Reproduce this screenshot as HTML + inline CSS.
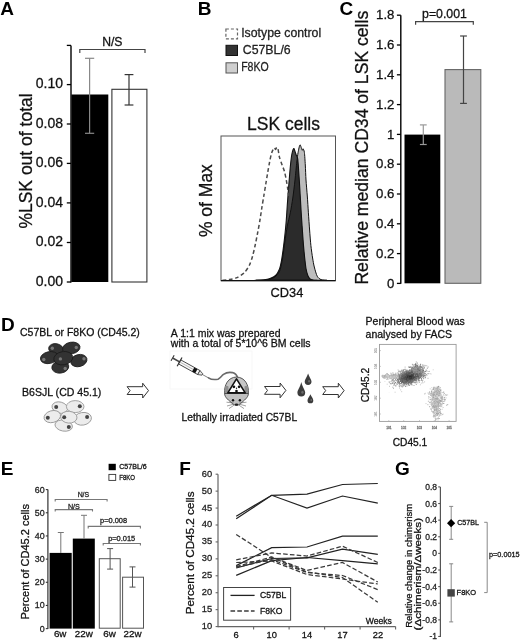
<!DOCTYPE html>
<html><head><meta charset="utf-8"><style>
html,body{margin:0;padding:0;background:#fff;}
svg{display:block;filter:grayscale(1);}
text{font-family:"Liberation Sans",sans-serif;}
</style></head><body>
<svg width="520" height="640" viewBox="0 0 520 640">
<rect width="520" height="640" fill="#fff"/>
<text x="0.30" y="14.60" font-size="19" text-anchor="start" fill="#000" font-weight="bold"  >A</text>
<rect x="71.40" y="94.50" width="36.90" height="187.50" fill="#000" stroke="none" stroke-width="1" />
<rect x="111.90" y="89.30" width="35.00" height="192.70" fill="#fff" stroke="#333" stroke-width="1.1" />
<line x1="71.00" y1="45.40" x2="71.00" y2="282.60" stroke="#000" stroke-width="1.4" />
<line x1="66.80" y1="45.40" x2="71.00" y2="45.40" stroke="#000" stroke-width="1.3" />
<line x1="66.80" y1="84.60" x2="71.00" y2="84.60" stroke="#000" stroke-width="1.3" />
<text x="63.00" y="88.30" font-size="14.0" text-anchor="end" fill="#111" font-weight="normal" stroke="#111" stroke-width="0.28" >0.10</text>
<line x1="66.80" y1="124.00" x2="71.00" y2="124.00" stroke="#000" stroke-width="1.3" />
<text x="63.00" y="127.70" font-size="14.0" text-anchor="end" fill="#111" font-weight="normal" stroke="#111" stroke-width="0.28" >0.08</text>
<line x1="66.80" y1="163.40" x2="71.00" y2="163.40" stroke="#000" stroke-width="1.3" />
<text x="63.00" y="167.10" font-size="14.0" text-anchor="end" fill="#111" font-weight="normal" stroke="#111" stroke-width="0.28" >0.06</text>
<line x1="66.80" y1="202.90" x2="71.00" y2="202.90" stroke="#000" stroke-width="1.3" />
<text x="63.00" y="206.60" font-size="14.0" text-anchor="end" fill="#111" font-weight="normal" stroke="#111" stroke-width="0.28" >0.04</text>
<line x1="66.80" y1="242.50" x2="71.00" y2="242.50" stroke="#000" stroke-width="1.3" />
<text x="63.00" y="246.20" font-size="14.0" text-anchor="end" fill="#111" font-weight="normal" stroke="#111" stroke-width="0.28" >0.02</text>
<line x1="66.80" y1="282.00" x2="71.00" y2="282.00" stroke="#000" stroke-width="1.3" />
<text x="63.00" y="285.70" font-size="14.0" text-anchor="end" fill="#111" font-weight="normal" stroke="#111" stroke-width="0.28" >0.00</text>
<line x1="89.60" y1="58.30" x2="89.60" y2="133.30" stroke="#888" stroke-width="1.2" />
<line x1="85.00" y1="58.30" x2="94.20" y2="58.30" stroke="#888" stroke-width="1.2" />
<line x1="85.00" y1="133.30" x2="94.20" y2="133.30" stroke="#888" stroke-width="1.2" />
<line x1="129.00" y1="74.60" x2="129.00" y2="105.00" stroke="#333" stroke-width="1.2" />
<line x1="124.60" y1="74.60" x2="133.40" y2="74.60" stroke="#333" stroke-width="1.2" />
<line x1="124.60" y1="105.00" x2="133.40" y2="105.00" stroke="#333" stroke-width="1.2" />
<polyline points="79.80,53.10 79.80,49.50 145.00,49.50 145.00,53.10" fill="none" stroke="#444" stroke-width="1.2"/>
<text x="112.30" y="45.60" font-size="12.2" text-anchor="middle" fill="#111" font-weight="normal" stroke="#111" stroke-width="0.28" >N/S</text>
<text transform="translate(31.90,161.00) rotate(-90)" font-size="17.5" text-anchor="middle" fill="#111" stroke="#111" stroke-width="0.28" >%LSK out of total</text>
<text x="197.80" y="14.60" font-size="19" text-anchor="start" fill="#000" font-weight="bold"  >B</text>
<rect x="225.90" y="29.00" width="11.60" height="9.80" fill="#fff" stroke="#666" stroke-width="1.2" stroke-dasharray="3,2"/>
<rect x="226.00" y="45.30" width="11.50" height="10.20" fill="#333" stroke="#111" stroke-width="1" />
<rect x="226.00" y="62.80" width="11.50" height="10.20" fill="#cfcfcf" stroke="#555" stroke-width="1" />
<text x="241.20" y="37.20" font-size="12.3" text-anchor="start" fill="#222" font-weight="normal" stroke="#222" stroke-width="0.28" >Isotype control</text>
<text x="242.80" y="54.00" font-size="12.3" text-anchor="start" fill="#222" font-weight="normal" stroke="#222" stroke-width="0.28" >C57BL/6</text>
<text x="241.20" y="71.00" font-size="12.3" text-anchor="start" fill="#222" font-weight="normal" stroke="#222" stroke-width="0.28" textLength="27.5" lengthAdjust="spacingAndGlyphs">F8KO</text>
<text x="247.00" y="129.70" font-size="17.5" text-anchor="start" fill="#111" font-weight="normal" stroke="#111" stroke-width="0.28" >LSK cells</text>
<rect x="221.00" y="136.00" width="114.50" height="144.70" fill="#fff" stroke="#555" stroke-width="1.0" />
<defs><clipPath id="dclip"><path d="M255.00,280.30 C256.20,280.25 262.00,280.13 264.00,279.90 C266.00,279.67 268.45,279.19 270.00,278.60 C271.55,278.01 274.36,276.71 275.60,275.50 C276.84,274.29 278.50,271.57 279.30,269.50 C280.10,267.43 281.03,263.13 281.60,260.00 C282.17,256.87 283.12,249.73 283.60,246.00 C284.08,242.27 284.84,235.47 285.20,232.00 C285.56,228.53 286.02,223.60 286.30,220.00 C286.58,216.40 287.02,209.00 287.30,205.00 C287.58,201.00 288.09,194.00 288.40,190.00 C288.71,186.00 289.28,178.73 289.60,175.00 C289.92,171.27 290.48,164.87 290.80,162.00 C291.12,159.13 291.60,155.30 292.00,153.50 C292.40,151.70 293.37,148.70 293.80,148.50 C294.23,148.30 294.85,151.07 295.20,152.00 C295.55,152.93 296.07,154.59 296.40,155.50 C296.73,156.41 297.41,156.87 297.70,158.80 C297.99,160.73 298.37,166.91 298.60,170.00 C298.83,173.09 299.17,178.40 299.40,182.00 C299.63,185.60 300.06,192.89 300.30,197.00 C300.54,201.11 300.93,208.53 301.20,212.80 C301.47,217.07 301.99,224.63 302.30,229.00 C302.61,233.37 303.18,241.73 303.50,245.60 C303.82,249.47 304.37,254.95 304.70,258.00 C305.03,261.05 305.59,266.17 306.00,268.50 C306.41,270.83 307.27,274.13 307.80,275.50 C308.33,276.87 309.31,278.20 310.00,278.80 C310.69,279.40 312.07,279.80 313.00,280.00 C313.93,280.20 316.47,280.26 317.00,280.30 Z"/></clipPath></defs>
<path d="M256.00,280.30 C257.33,280.26 263.53,280.40 266.00,280.00 C268.47,279.60 272.66,278.57 274.50,277.30 C276.34,276.03 278.72,273.07 279.80,270.50 C280.88,267.93 281.93,261.80 282.60,258.00 C283.27,254.20 284.17,246.27 284.80,242.00 C285.43,237.73 286.57,229.89 287.30,226.00 C288.03,222.11 289.57,216.53 290.30,212.80 C291.03,209.07 292.17,202.37 292.80,198.00 C293.43,193.63 294.47,184.80 295.00,180.00 C295.53,175.20 296.39,165.67 296.80,162.00 C297.21,158.33 297.67,154.79 298.10,152.50 C298.53,150.21 299.45,145.11 300.00,144.80 C300.55,144.49 301.79,149.67 302.20,150.20 C302.61,150.73 302.81,148.49 303.10,148.80 C303.39,149.11 304.11,150.34 304.40,152.50 C304.69,154.66 305.09,161.33 305.30,165.00 C305.51,168.67 305.73,175.87 306.00,180.00 C306.27,184.13 306.98,191.63 307.30,196.00 C307.62,200.37 308.09,208.27 308.40,212.80 C308.71,217.33 309.27,225.63 309.60,230.00 C309.93,234.37 310.50,241.87 310.90,245.60 C311.30,249.33 312.15,255.15 312.60,258.00 C313.05,260.85 313.69,264.57 314.30,267.00 C314.91,269.43 316.31,274.52 317.20,276.20 C318.09,277.88 319.69,279.05 321.00,279.60 C322.31,280.15 326.20,280.21 327.00,280.30 Z" fill="#bdbdbd"/>
<path d="M255.00,280.30 C256.20,280.25 262.00,280.13 264.00,279.90 C266.00,279.67 268.45,279.19 270.00,278.60 C271.55,278.01 274.36,276.71 275.60,275.50 C276.84,274.29 278.50,271.57 279.30,269.50 C280.10,267.43 281.03,263.13 281.60,260.00 C282.17,256.87 283.12,249.73 283.60,246.00 C284.08,242.27 284.84,235.47 285.20,232.00 C285.56,228.53 286.02,223.60 286.30,220.00 C286.58,216.40 287.02,209.00 287.30,205.00 C287.58,201.00 288.09,194.00 288.40,190.00 C288.71,186.00 289.28,178.73 289.60,175.00 C289.92,171.27 290.48,164.87 290.80,162.00 C291.12,159.13 291.60,155.30 292.00,153.50 C292.40,151.70 293.37,148.70 293.80,148.50 C294.23,148.30 294.85,151.07 295.20,152.00 C295.55,152.93 296.07,154.59 296.40,155.50 C296.73,156.41 297.41,156.87 297.70,158.80 C297.99,160.73 298.37,166.91 298.60,170.00 C298.83,173.09 299.17,178.40 299.40,182.00 C299.63,185.60 300.06,192.89 300.30,197.00 C300.54,201.11 300.93,208.53 301.20,212.80 C301.47,217.07 301.99,224.63 302.30,229.00 C302.61,233.37 303.18,241.73 303.50,245.60 C303.82,249.47 304.37,254.95 304.70,258.00 C305.03,261.05 305.59,266.17 306.00,268.50 C306.41,270.83 307.27,274.13 307.80,275.50 C308.33,276.87 309.31,278.20 310.00,278.80 C310.69,279.40 312.07,279.80 313.00,280.00 C313.93,280.20 316.47,280.26 317.00,280.30 Z" fill="#4a4a4a"/>
<path d="M256.00,280.30 C257.33,280.26 263.53,280.40 266.00,280.00 C268.47,279.60 272.66,278.57 274.50,277.30 C276.34,276.03 278.72,273.07 279.80,270.50 C280.88,267.93 281.93,261.80 282.60,258.00 C283.27,254.20 284.17,246.27 284.80,242.00 C285.43,237.73 286.57,229.89 287.30,226.00 C288.03,222.11 289.57,216.53 290.30,212.80 C291.03,209.07 292.17,202.37 292.80,198.00 C293.43,193.63 294.47,184.80 295.00,180.00 C295.53,175.20 296.39,165.67 296.80,162.00 C297.21,158.33 297.67,154.79 298.10,152.50 C298.53,150.21 299.45,145.11 300.00,144.80 C300.55,144.49 301.79,149.67 302.20,150.20 C302.61,150.73 302.81,148.49 303.10,148.80 C303.39,149.11 304.11,150.34 304.40,152.50 C304.69,154.66 305.09,161.33 305.30,165.00 C305.51,168.67 305.73,175.87 306.00,180.00 C306.27,184.13 306.98,191.63 307.30,196.00 C307.62,200.37 308.09,208.27 308.40,212.80 C308.71,217.33 309.27,225.63 309.60,230.00 C309.93,234.37 310.50,241.87 310.90,245.60 C311.30,249.33 312.15,255.15 312.60,258.00 C313.05,260.85 313.69,264.57 314.30,267.00 C314.91,269.43 316.31,274.52 317.20,276.20 C318.09,277.88 319.69,279.05 321.00,279.60 C322.31,280.15 326.20,280.21 327.00,280.30 Z" fill="#2b2b2b" clip-path="url(#dclip)"/>
<path d="M256.00,280.30 C257.33,280.26 263.53,280.40 266.00,280.00 C268.47,279.60 272.66,278.57 274.50,277.30 C276.34,276.03 278.72,273.07 279.80,270.50 C280.88,267.93 281.93,261.80 282.60,258.00 C283.27,254.20 284.17,246.27 284.80,242.00 C285.43,237.73 286.57,229.89 287.30,226.00 C288.03,222.11 289.57,216.53 290.30,212.80 C291.03,209.07 292.17,202.37 292.80,198.00 C293.43,193.63 294.47,184.80 295.00,180.00 C295.53,175.20 296.39,165.67 296.80,162.00 C297.21,158.33 297.67,154.79 298.10,152.50 C298.53,150.21 299.45,145.11 300.00,144.80 C300.55,144.49 301.79,149.67 302.20,150.20 C302.61,150.73 302.81,148.49 303.10,148.80 C303.39,149.11 304.11,150.34 304.40,152.50 C304.69,154.66 305.09,161.33 305.30,165.00 C305.51,168.67 305.73,175.87 306.00,180.00 C306.27,184.13 306.98,191.63 307.30,196.00 C307.62,200.37 308.09,208.27 308.40,212.80 C308.71,217.33 309.27,225.63 309.60,230.00 C309.93,234.37 310.50,241.87 310.90,245.60 C311.30,249.33 312.15,255.15 312.60,258.00 C313.05,260.85 313.69,264.57 314.30,267.00 C314.91,269.43 316.31,274.52 317.20,276.20 C318.09,277.88 319.69,279.05 321.00,279.60 C322.31,280.15 326.20,280.21 327.00,280.30 Z" fill="none" stroke="#111" stroke-width="1.0" stroke-linejoin="round"/>
<path d="M255.00,280.30 C256.20,280.25 262.00,280.13 264.00,279.90 C266.00,279.67 268.45,279.19 270.00,278.60 C271.55,278.01 274.36,276.71 275.60,275.50 C276.84,274.29 278.50,271.57 279.30,269.50 C280.10,267.43 281.03,263.13 281.60,260.00 C282.17,256.87 283.12,249.73 283.60,246.00 C284.08,242.27 284.84,235.47 285.20,232.00 C285.56,228.53 286.02,223.60 286.30,220.00 C286.58,216.40 287.02,209.00 287.30,205.00 C287.58,201.00 288.09,194.00 288.40,190.00 C288.71,186.00 289.28,178.73 289.60,175.00 C289.92,171.27 290.48,164.87 290.80,162.00 C291.12,159.13 291.60,155.30 292.00,153.50 C292.40,151.70 293.37,148.70 293.80,148.50 C294.23,148.30 294.85,151.07 295.20,152.00 C295.55,152.93 296.07,154.59 296.40,155.50 C296.73,156.41 297.41,156.87 297.70,158.80 C297.99,160.73 298.37,166.91 298.60,170.00 C298.83,173.09 299.17,178.40 299.40,182.00 C299.63,185.60 300.06,192.89 300.30,197.00 C300.54,201.11 300.93,208.53 301.20,212.80 C301.47,217.07 301.99,224.63 302.30,229.00 C302.61,233.37 303.18,241.73 303.50,245.60 C303.82,249.47 304.37,254.95 304.70,258.00 C305.03,261.05 305.59,266.17 306.00,268.50 C306.41,270.83 307.27,274.13 307.80,275.50 C308.33,276.87 309.31,278.20 310.00,278.80 C310.69,279.40 312.07,279.80 313.00,280.00 C313.93,280.20 316.47,280.26 317.00,280.30 Z" fill="none" stroke="#111" stroke-width="1.1" stroke-linejoin="round"/>
<path d="M222.50,280.30 C223.37,280.21 227.07,279.96 229.00,279.60 C230.93,279.24 234.93,278.55 237.00,277.60 C239.07,276.65 242.83,274.18 244.50,272.50 C246.17,270.82 248.42,267.20 249.50,265.00 C250.58,262.80 251.87,258.53 252.60,256.00 C253.33,253.47 254.33,249.07 255.00,246.00 C255.67,242.93 256.96,236.33 257.60,233.00 C258.24,229.67 259.24,224.33 259.80,221.00 C260.36,217.67 261.27,211.33 261.80,208.00 C262.33,204.67 263.27,199.20 263.80,196.00 C264.33,192.80 265.27,187.20 265.80,184.00 C266.33,180.80 267.29,174.93 267.80,172.00 C268.31,169.07 269.15,164.33 269.60,162.00 C270.05,159.67 270.77,156.07 271.20,154.50 C271.63,152.93 272.37,151.09 272.80,150.20 C273.23,149.31 274.03,147.89 274.40,147.80 C274.77,147.71 275.28,149.55 275.60,149.50 C275.92,149.45 276.48,147.47 276.80,147.40 C277.12,147.33 277.65,147.72 278.00,149.00 C278.35,150.28 278.88,154.95 279.40,157.00 C279.92,159.05 281.23,162.49 281.90,164.40 C282.57,166.31 283.81,169.22 284.40,171.30 C284.99,173.38 285.87,177.77 286.30,180.00 C286.73,182.23 287.29,185.87 287.60,188.00 C287.91,190.13 288.47,194.93 288.60,196.00 " fill="none" stroke="#4a4a4a" stroke-width="1.5" stroke-dasharray="3.8,2.6"/>
<line x1="221.00" y1="280.70" x2="335.50" y2="280.70" stroke="#111" stroke-width="1.3" />
<text transform="translate(212.00,200.60) rotate(-90)" font-size="17.5" text-anchor="middle" fill="#111" stroke="#111" stroke-width="0.28" >% of Max</text>
<text x="286.90" y="297.40" font-size="12.8" text-anchor="middle" fill="#111" font-weight="normal" stroke="#111" stroke-width="0.28" >CD34</text>
<text x="339.60" y="14.80" font-size="19" text-anchor="start" fill="#000" font-weight="bold"  >C</text>
<rect x="404.50" y="134.60" width="35.80" height="148.70" fill="#000" stroke="none" stroke-width="1" />
<rect x="445.00" y="69.60" width="35.80" height="213.70" fill="#bababa" stroke="#666" stroke-width="1.1" />
<line x1="400.80" y1="15.20" x2="400.80" y2="283.80" stroke="#000" stroke-width="1.4" />
<line x1="396.90" y1="15.20" x2="400.80" y2="15.20" stroke="#000" stroke-width="1.3" />
<text x="394.40" y="19.40" font-size="13.2" text-anchor="end" fill="#111" font-weight="normal" stroke="#111" stroke-width="0.28" >1.8</text>
<line x1="396.90" y1="45.00" x2="400.80" y2="45.00" stroke="#000" stroke-width="1.3" />
<text x="394.40" y="49.20" font-size="13.2" text-anchor="end" fill="#111" font-weight="normal" stroke="#111" stroke-width="0.28" >1.6</text>
<line x1="396.90" y1="74.80" x2="400.80" y2="74.80" stroke="#000" stroke-width="1.3" />
<text x="394.40" y="79.00" font-size="13.2" text-anchor="end" fill="#111" font-weight="normal" stroke="#111" stroke-width="0.28" >1.4</text>
<line x1="396.90" y1="104.60" x2="400.80" y2="104.60" stroke="#000" stroke-width="1.3" />
<text x="394.40" y="108.80" font-size="13.2" text-anchor="end" fill="#111" font-weight="normal" stroke="#111" stroke-width="0.28" >1.2</text>
<line x1="396.90" y1="134.40" x2="400.80" y2="134.40" stroke="#000" stroke-width="1.3" />
<text x="394.40" y="138.60" font-size="13.2" text-anchor="end" fill="#111" font-weight="normal" stroke="#111" stroke-width="0.28" >1</text>
<line x1="396.90" y1="164.20" x2="400.80" y2="164.20" stroke="#000" stroke-width="1.3" />
<text x="394.40" y="168.40" font-size="13.2" text-anchor="end" fill="#111" font-weight="normal" stroke="#111" stroke-width="0.28" >0.8</text>
<line x1="396.90" y1="194.00" x2="400.80" y2="194.00" stroke="#000" stroke-width="1.3" />
<text x="394.40" y="198.20" font-size="13.2" text-anchor="end" fill="#111" font-weight="normal" stroke="#111" stroke-width="0.28" >0.6</text>
<line x1="396.90" y1="223.80" x2="400.80" y2="223.80" stroke="#000" stroke-width="1.3" />
<text x="394.40" y="228.00" font-size="13.2" text-anchor="end" fill="#111" font-weight="normal" stroke="#111" stroke-width="0.28" >0.4</text>
<line x1="396.90" y1="253.60" x2="400.80" y2="253.60" stroke="#000" stroke-width="1.3" />
<text x="394.40" y="257.80" font-size="13.2" text-anchor="end" fill="#111" font-weight="normal" stroke="#111" stroke-width="0.28" >0.2</text>
<line x1="396.90" y1="283.40" x2="400.80" y2="283.40" stroke="#000" stroke-width="1.3" />
<text x="394.40" y="287.60" font-size="13.2" text-anchor="end" fill="#111" font-weight="normal" stroke="#111" stroke-width="0.28" >0</text>
<line x1="423.30" y1="124.90" x2="423.30" y2="144.50" stroke="#999" stroke-width="1.2" />
<line x1="419.90" y1="124.90" x2="426.70" y2="124.90" stroke="#999" stroke-width="1.2" />
<line x1="419.90" y1="144.50" x2="426.70" y2="144.50" stroke="#999" stroke-width="1.2" />
<line x1="463.50" y1="36.00" x2="463.50" y2="103.40" stroke="#444" stroke-width="1.2" />
<line x1="460.10" y1="36.00" x2="466.90" y2="36.00" stroke="#444" stroke-width="1.2" />
<line x1="460.10" y1="103.40" x2="466.90" y2="103.40" stroke="#444" stroke-width="1.2" />
<polyline points="415.60,24.80 415.60,21.60 473.30,21.60 473.30,24.80" fill="none" stroke="#444" stroke-width="1.2"/>
<text x="444.50" y="18.40" font-size="12.3" text-anchor="middle" fill="#111" font-weight="normal" stroke="#111" stroke-width="0.28" >p=0.001</text>
<text transform="translate(367.70,147.70) rotate(-90)" font-size="17.6" text-anchor="middle" fill="#111" stroke="#111" stroke-width="0.28" >Relative median CD34 of LSK cells</text>
<text x="1.00" y="330.60" font-size="19" text-anchor="start" fill="#000" font-weight="bold"  >D</text>
<text x="20.00" y="336.20" font-size="10.5" text-anchor="start" fill="#111" font-weight="normal" stroke="#111" stroke-width="0.28" >C57BL or F8KO (CD45.2)</text>
<text x="22.00" y="395.80" font-size="10.55" text-anchor="start" fill="#111" font-weight="normal" stroke="#111" stroke-width="0.28" >B6SJL (CD 45.1)</text>
<ellipse cx="56.0" cy="349.0" rx="7.4" ry="5.3" transform="rotate(10 56.0 349.0)" fill="#333" stroke="#1a1a1a" stroke-width="0.8"/>
<circle cx="52.3" cy="348.3" r="1.7" fill="#777"/>
<ellipse cx="71.3" cy="348.0" rx="8.8" ry="5.8" transform="rotate(-10 71.3 348.0)" fill="#333" stroke="#1a1a1a" stroke-width="0.8"/>
<circle cx="76.3" cy="347.5" r="1.7" fill="#777"/>
<ellipse cx="49.3" cy="357.6" rx="9.0" ry="5.9" transform="rotate(-12 49.3 357.6)" fill="#333" stroke="#1a1a1a" stroke-width="0.8"/>
<circle cx="43.8" cy="359.5" r="1.7" fill="#777"/>
<ellipse cx="78.8" cy="360.6" rx="8.3" ry="6.0" transform="rotate(-15 78.8 360.6)" fill="#333" stroke="#1a1a1a" stroke-width="0.8"/>
<circle cx="84.0" cy="358.7" r="1.7" fill="#777"/>
<ellipse cx="60.3" cy="367.0" rx="8.5" ry="6.1" transform="rotate(-8 60.3 367.0)" fill="#333" stroke="#1a1a1a" stroke-width="0.8"/>
<circle cx="65.2" cy="368.5" r="1.7" fill="#777"/>
<ellipse cx="63.3" cy="358.2" rx="9.6" ry="6.6" transform="rotate(-10 63.3 358.2)" fill="#333" stroke="#1a1a1a" stroke-width="0.8"/>
<circle cx="60.4" cy="358.9" r="1.7" fill="#777"/>
<ellipse cx="59.8" cy="407.6" rx="7.9" ry="5.6" transform="rotate(15 59.8 407.6)" fill="#ececec" stroke="#9a9a9a" stroke-width="0.9"/>
<circle cx="56.2" cy="407.1" r="2.0" fill="#444"/>
<ellipse cx="75.2" cy="406.6" rx="8.8" ry="6.0" transform="rotate(0 75.2 406.6)" fill="#ececec" stroke="#9a9a9a" stroke-width="0.9"/>
<circle cx="79.8" cy="406.2" r="2.0" fill="#444"/>
<ellipse cx="52.3" cy="416.6" rx="8.4" ry="5.9" transform="rotate(-15 52.3 416.6)" fill="#ececec" stroke="#9a9a9a" stroke-width="0.9"/>
<circle cx="47.8" cy="417.7" r="2.0" fill="#444"/>
<ellipse cx="82.7" cy="418.8" rx="8.8" ry="6.3" transform="rotate(-10 82.7 418.8)" fill="#ececec" stroke="#9a9a9a" stroke-width="0.9"/>
<circle cx="87.1" cy="417.1" r="2.0" fill="#444"/>
<ellipse cx="63.7" cy="425.6" rx="8.8" ry="5.5" transform="rotate(10 63.7 425.6)" fill="#ececec" stroke="#9a9a9a" stroke-width="0.9"/>
<circle cx="68.8" cy="426.9" r="2.0" fill="#444"/>
<ellipse cx="68.8" cy="417.2" rx="8.2" ry="5.9" transform="rotate(5 68.8 417.2)" fill="#ececec" stroke="#9a9a9a" stroke-width="0.9"/>
<circle cx="64.2" cy="417.3" r="2.0" fill="#444"/>
<polygon points="127.10,386.70 142.70,386.70 142.70,383.20 148.50,390.60 142.70,398.00 142.70,394.50 127.10,394.50 130.10,390.60" fill="#fff" stroke="#333" stroke-width="1"/>
<polygon points="264.50,386.50 280.10,386.50 280.10,383.00 285.90,390.40 280.10,397.80 280.10,394.30 264.50,394.30 267.50,390.40" fill="#fff" stroke="#333" stroke-width="1"/>
<polygon points="322.70,386.70 338.30,386.70 338.30,383.20 344.10,390.60 338.30,398.00 338.30,394.50 322.70,394.50 325.70,390.60" fill="#fff" stroke="#333" stroke-width="1"/>
<text x="170.80" y="336.70" font-size="10.5" text-anchor="start" fill="#111" font-weight="normal" stroke="#111" stroke-width="0.28" >A 1:1 mix was prepared</text>
<text x="170.80" y="346.50" font-size="10.5" text-anchor="start" fill="#111" font-weight="normal" stroke="#111" stroke-width="0.28" >with a total of 5*10^6 BM cells</text>
<text x="181.50" y="420.80" font-size="10.3" text-anchor="start" fill="#111" font-weight="normal" stroke="#111" stroke-width="0.28" >Lethally irradiated C57BL</text>
<rect x="170" y="351" width="82" height="38" fill="none" stroke="#f6f6f6" stroke-width="0.8"/>
<g transform="translate(172.6,358.0) rotate(29)"><line x1="0" y1="-3.2" x2="0" y2="3.2" stroke="#333" stroke-width="1.1"/><line x1="0" y1="0" x2="8" y2="0" stroke="#444" stroke-width="1.6"/><rect x="8" y="-2.3" width="22" height="4.6" fill="#f7f7f7" stroke="#333" stroke-width="0.8"/><line x1="8" y1="0" x2="24" y2="0" stroke="#999" stroke-width="0.6"/><rect x="23.5" y="-2.3" width="3.6" height="4.6" fill="#111"/><line x1="8" y1="-5" x2="8" y2="5" stroke="#333" stroke-width="1.2"/><path d="M30,-2.3 L34,-0.8 L34,0.8 L30,2.3 Z" fill="#e5e5e5" stroke="#333" stroke-width="0.7"/><line x1="34" y1="0" x2="41" y2="0" stroke="#444" stroke-width="0.6"/></g>
<path d="M208.5,377.8 C210.5,379.2 214,380 218,379.2 C220.5,378 221.5,375.8 223.5,374.4 C226,372.6 229.5,372 232.5,372.6 C235,373.4 236.8,375 237.4,377.4" fill="none" stroke="#6a6a6a" stroke-width="1.6" stroke-linecap="round"/>
<path d="M224.6,393.5 C224.0,385 228,377.3 236.5,377.0 C245,377.3 249,385 248.4,393.5 Z" fill="#c6c6c6" stroke="#444" stroke-width="0.9"/>
<path d="M225,386.5 C226,385.5 227.5,385.5 228.5,386.5 L228.5,393.5 L224.7,393.5 Z" fill="#8e8e8e"/>
<path d="M248,386.5 C247,385.5 245.5,385.5 244.5,386.5 L244.5,393.5 L248.3,393.5 Z" fill="#8e8e8e"/>
<path d="M224.6,393.5 C224.6,397.5 229,400.5 232.5,403.6 C234.5,405.8 238.5,405.8 240.5,403.6 C244,400.5 248.4,397.5 248.4,393.5 Z" fill="#c0c0c0" stroke="#444" stroke-width="0.9"/>
<polygon points="227.8,392.9 245.2,392.9 236.5,378.9" fill="#fff" stroke="#111" stroke-width="1.6" stroke-linejoin="round"/>
<circle cx="233.9" cy="386.8" r="1.35" fill="#111"/><circle cx="239.1" cy="386.8" r="1.35" fill="#111"/><circle cx="236.5" cy="391.0" r="1.35" fill="#111"/>
<circle cx="236.5" cy="388.3" r="0.7" fill="#111"/>
<circle cx="233.0" cy="400.3" r="1.2" fill="#111"/><circle cx="239.9" cy="400.3" r="1.2" fill="#111"/>
<ellipse cx="236.5" cy="404.6" rx="1.8" ry="1.2" fill="#222"/>
<path d="M233.5,403 L226.5,402.2 M233.5,404.2 L227,406 M234,405.2 L229,408.6 M239.5,403 L246.5,402.2 M239.5,404.2 L246,406 M239,405.2 L244,408.6" stroke="#555" stroke-width="0.55"/>
<path d="M301.30,382.00 C302.67,387.53 305.20,390.26 305.20,392.60 A3.90,3.90 0 0 1 297.40,392.60 C297.40,390.26 299.94,387.53 301.30,382.00 Z" fill="#3c3c3c"/>
<ellipse cx="302.47" cy="392.21" rx="1.17" ry="1.56" fill="#6a6a6a"/>
<path d="M308.10,373.50 C309.29,377.18 311.50,379.56 311.50,381.60 A3.40,3.40 0 0 1 304.70,381.60 C304.70,379.56 306.91,377.18 308.10,373.50 Z" fill="#3c3c3c"/>
<ellipse cx="309.12" cy="381.26" rx="1.02" ry="1.36" fill="#6a6a6a"/>
<path d="M310.40,394.20 C311.41,396.63 313.30,398.66 313.30,400.40 A2.90,2.90 0 0 1 307.50,400.40 C307.50,398.66 309.38,396.63 310.40,394.20 Z" fill="#3c3c3c"/>
<ellipse cx="311.27" cy="400.11" rx="0.87" ry="1.16" fill="#6a6a6a"/>
<text x="365.60" y="324.80" font-size="10.5" text-anchor="start" fill="#111" font-weight="normal" stroke="#111" stroke-width="0.28" >Peripheral Blood was</text>
<text x="365.60" y="337.80" font-size="10.5" text-anchor="start" fill="#111" font-weight="normal" stroke="#111" stroke-width="0.28" >analysed by FACS</text>
<rect x="379.50" y="344.40" width="76.60" height="77.00" fill="#fff" stroke="#9a9a9a" stroke-width="0.9" />
<text transform="translate(369.20,385.00) rotate(-90)" font-size="10.2" text-anchor="middle" fill="#111" stroke="#111" stroke-width="0.28" >CD45.2</text>
<text x="410.00" y="446.00" font-size="10.2" text-anchor="middle" fill="#111" font-weight="normal" stroke="#111" stroke-width="0.28" >CD45.1</text>
<text transform="translate(377.2,350.6) rotate(-90)" font-size="3.2" text-anchor="middle" fill="#777">105</text>
<line x1="379.50" y1="350.60" x2="381.00" y2="350.60" stroke="#aaa" stroke-width="0.6" />
<text transform="translate(377.2,366.4) rotate(-90)" font-size="3.2" text-anchor="middle" fill="#777">104</text>
<line x1="379.50" y1="366.40" x2="381.00" y2="366.40" stroke="#aaa" stroke-width="0.6" />
<text transform="translate(377.2,382.3) rotate(-90)" font-size="3.2" text-anchor="middle" fill="#777">103</text>
<line x1="379.50" y1="382.30" x2="381.00" y2="382.30" stroke="#aaa" stroke-width="0.6" />
<text transform="translate(377.2,398.2) rotate(-90)" font-size="3.2" text-anchor="middle" fill="#777">102</text>
<line x1="379.50" y1="398.20" x2="381.00" y2="398.20" stroke="#aaa" stroke-width="0.6" />
<text transform="translate(377.2,414.0) rotate(-90)" font-size="3.2" text-anchor="middle" fill="#777">101</text>
<line x1="379.50" y1="414.00" x2="381.00" y2="414.00" stroke="#aaa" stroke-width="0.6" />
<text x="388.80" y="428.50" font-size="3.2" text-anchor="middle" fill="#777" font-weight="normal" stroke="#777" stroke-width="0.28" >101</text>
<line x1="388.80" y1="421.40" x2="388.80" y2="420.00" stroke="#aaa" stroke-width="0.6" />
<text x="403.70" y="428.50" font-size="3.2" text-anchor="middle" fill="#777" font-weight="normal" stroke="#777" stroke-width="0.28" >102</text>
<line x1="403.70" y1="421.40" x2="403.70" y2="420.00" stroke="#aaa" stroke-width="0.6" />
<text x="419.50" y="428.50" font-size="3.2" text-anchor="middle" fill="#777" font-weight="normal" stroke="#777" stroke-width="0.28" >103</text>
<line x1="419.50" y1="421.40" x2="419.50" y2="420.00" stroke="#aaa" stroke-width="0.6" />
<text x="434.30" y="428.50" font-size="3.2" text-anchor="middle" fill="#777" font-weight="normal" stroke="#777" stroke-width="0.28" >104</text>
<line x1="434.30" y1="421.40" x2="434.30" y2="420.00" stroke="#aaa" stroke-width="0.6" />
<text x="449.10" y="428.50" font-size="3.2" text-anchor="middle" fill="#777" font-weight="normal" stroke="#777" stroke-width="0.28" >105</text>
<line x1="449.10" y1="421.40" x2="449.10" y2="420.00" stroke="#aaa" stroke-width="0.6" />
<defs><filter id="sblur" x="-5%" y="-5%" width="110%" height="110%"><feGaussianBlur stdDeviation="0.3"/></filter><clipPath id="fclip"><rect x="380" y="345" width="75.6" height="76"/></clipPath></defs>
<g filter="url(#sblur)" clip-path="url(#fclip)">
<rect x="401.0" y="380.0" width="1" height="1" fill="rgb(124,124,124)"/>
<rect x="401.3" y="379.4" width="1" height="1" fill="rgb(105,105,105)"/>
<rect x="413.8" y="378.9" width="1" height="1" fill="rgb(107,107,107)"/>
<rect x="409.7" y="374.5" width="1" height="1" fill="rgb(58,58,58)"/>
<rect x="421.2" y="376.4" width="1" height="1" fill="rgb(138,138,138)"/>
<rect x="429.5" y="373.1" width="1" height="1" fill="rgb(196,196,196)"/>
<rect x="402.6" y="374.0" width="1" height="1" fill="rgb(94,94,94)"/>
<rect x="418.1" y="374.1" width="1" height="1" fill="rgb(82,82,82)"/>
<rect x="411.9" y="378.0" width="1" height="1" fill="rgb(59,59,59)"/>
<rect x="402.1" y="379.2" width="1" height="1" fill="rgb(111,111,111)"/>
<rect x="399.0" y="378.5" width="1" height="1" fill="rgb(111,111,111)"/>
<rect x="404.3" y="374.2" width="1" height="1" fill="rgb(87,87,87)"/>
<rect x="432.7" y="369.3" width="1" height="1" fill="rgb(211,211,211)"/>
<rect x="406.9" y="373.8" width="1" height="1" fill="rgb(74,74,74)"/>
<rect x="409.0" y="377.6" width="1" height="1" fill="rgb(76,76,76)"/>
<rect x="399.2" y="383.2" width="1" height="1" fill="rgb(129,129,129)"/>
<rect x="422.1" y="370.7" width="1" height="1" fill="rgb(112,112,112)"/>
<rect x="415.3" y="382.2" width="1" height="1" fill="rgb(144,144,144)"/>
<rect x="416.3" y="373.7" width="1" height="1" fill="rgb(73,73,73)"/>
<rect x="399.6" y="374.4" width="1" height="1" fill="rgb(115,115,115)"/>
<rect x="415.2" y="376.2" width="1" height="1" fill="rgb(108,108,108)"/>
<rect x="409.0" y="374.5" width="1" height="1" fill="rgb(58,58,58)"/>
<rect x="411.5" y="376.3" width="1" height="1" fill="rgb(76,76,76)"/>
<rect x="414.4" y="378.9" width="1" height="1" fill="rgb(102,102,102)"/>
<rect x="415.0" y="380.1" width="1" height="1" fill="rgb(103,103,103)"/>
<rect x="406.7" y="375.5" width="1" height="1" fill="rgb(66,66,66)"/>
<rect x="411.3" y="378.4" width="1" height="1" fill="rgb(104,104,104)"/>
<rect x="410.5" y="372.9" width="1" height="1" fill="rgb(103,103,103)"/>
<rect x="412.0" y="379.0" width="1" height="1" fill="rgb(108,108,108)"/>
<rect x="406.9" y="375.6" width="1" height="1" fill="rgb(90,90,90)"/>
<rect x="411.3" y="378.4" width="1" height="1" fill="rgb(94,94,94)"/>
<rect x="407.2" y="379.5" width="1" height="1" fill="rgb(66,66,66)"/>
<rect x="417.9" y="376.3" width="1" height="1" fill="rgb(95,95,95)"/>
<rect x="403.2" y="375.9" width="1" height="1" fill="rgb(88,88,88)"/>
<rect x="416.9" y="372.9" width="1" height="1" fill="rgb(102,102,102)"/>
<rect x="411.9" y="373.7" width="1" height="1" fill="rgb(60,60,60)"/>
<rect x="419.3" y="369.7" width="1" height="1" fill="rgb(119,119,119)"/>
<rect x="415.1" y="380.1" width="1" height="1" fill="rgb(141,141,141)"/>
<rect x="417.3" y="382.3" width="1" height="1" fill="rgb(174,174,174)"/>
<rect x="402.8" y="375.8" width="1" height="1" fill="rgb(76,76,76)"/>
<rect x="427.6" y="373.2" width="1" height="1" fill="rgb(151,151,151)"/>
<rect x="407.0" y="374.2" width="1" height="1" fill="rgb(96,96,96)"/>
<rect x="404.0" y="376.0" width="1" height="1" fill="rgb(70,70,70)"/>
<rect x="408.4" y="375.1" width="1" height="1" fill="rgb(52,52,52)"/>
<rect x="395.7" y="377.5" width="1" height="1" fill="rgb(140,140,140)"/>
<rect x="408.4" y="384.4" width="1" height="1" fill="rgb(134,134,134)"/>
<rect x="415.0" y="374.9" width="1" height="1" fill="rgb(80,80,80)"/>
<rect x="413.6" y="375.8" width="1" height="1" fill="rgb(69,69,69)"/>
<rect x="405.7" y="376.4" width="1" height="1" fill="rgb(65,65,65)"/>
<rect x="423.0" y="365.8" width="1" height="1" fill="rgb(180,180,180)"/>
<rect x="404.7" y="373.0" width="1" height="1" fill="rgb(90,90,90)"/>
<rect x="410.7" y="376.0" width="1" height="1" fill="rgb(74,74,74)"/>
<rect x="401.4" y="369.6" width="1" height="1" fill="rgb(141,141,141)"/>
<rect x="403.1" y="374.8" width="1" height="1" fill="rgb(109,109,109)"/>
<rect x="401.2" y="391.2" width="1" height="1" fill="rgb(200,200,200)"/>
<rect x="397.7" y="377.8" width="1" height="1" fill="rgb(139,139,139)"/>
<rect x="406.9" y="371.2" width="1" height="1" fill="rgb(130,130,130)"/>
<rect x="414.5" y="373.0" width="1" height="1" fill="rgb(97,97,97)"/>
<rect x="419.9" y="368.9" width="1" height="1" fill="rgb(134,134,134)"/>
<rect x="411.0" y="368.7" width="1" height="1" fill="rgb(140,140,140)"/>
<rect x="403.7" y="375.3" width="1" height="1" fill="rgb(95,95,95)"/>
<rect x="406.8" y="376.0" width="1" height="1" fill="rgb(72,72,72)"/>
<rect x="423.8" y="371.7" width="1" height="1" fill="rgb(150,150,150)"/>
<rect x="401.5" y="382.3" width="1" height="1" fill="rgb(124,124,124)"/>
<rect x="397.3" y="382.2" width="1" height="1" fill="rgb(114,114,114)"/>
<rect x="409.1" y="375.4" width="1" height="1" fill="rgb(63,63,63)"/>
<rect x="404.3" y="378.0" width="1" height="1" fill="rgb(88,88,88)"/>
<rect x="399.5" y="379.1" width="1" height="1" fill="rgb(128,128,128)"/>
<rect x="409.4" y="376.7" width="1" height="1" fill="rgb(45,45,45)"/>
<rect x="406.6" y="374.8" width="1" height="1" fill="rgb(62,62,62)"/>
<rect x="417.2" y="371.0" width="1" height="1" fill="rgb(110,110,110)"/>
<rect x="413.7" y="372.9" width="1" height="1" fill="rgb(95,95,95)"/>
<rect x="412.7" y="378.9" width="1" height="1" fill="rgb(109,109,109)"/>
<rect x="420.9" y="369.0" width="1" height="1" fill="rgb(135,135,135)"/>
<rect x="403.5" y="376.3" width="1" height="1" fill="rgb(70,70,70)"/>
<rect x="395.8" y="380.2" width="1" height="1" fill="rgb(148,148,148)"/>
<rect x="402.8" y="369.4" width="1" height="1" fill="rgb(147,147,147)"/>
<rect x="414.0" y="378.3" width="1" height="1" fill="rgb(86,86,86)"/>
<rect x="411.9" y="379.1" width="1" height="1" fill="rgb(99,99,99)"/>
<rect x="403.1" y="378.1" width="1" height="1" fill="rgb(101,101,101)"/>
<rect x="416.9" y="373.6" width="1" height="1" fill="rgb(77,77,77)"/>
<rect x="423.8" y="373.5" width="1" height="1" fill="rgb(118,118,118)"/>
<rect x="405.7" y="372.7" width="1" height="1" fill="rgb(97,97,97)"/>
<rect x="409.5" y="375.5" width="1" height="1" fill="rgb(39,39,39)"/>
<rect x="407.8" y="376.8" width="1" height="1" fill="rgb(72,72,72)"/>
<rect x="410.1" y="378.0" width="1" height="1" fill="rgb(51,51,51)"/>
<rect x="403.2" y="375.1" width="1" height="1" fill="rgb(102,102,102)"/>
<rect x="400.6" y="373.2" width="1" height="1" fill="rgb(149,149,149)"/>
<rect x="406.8" y="374.7" width="1" height="1" fill="rgb(76,76,76)"/>
<rect x="409.9" y="376.5" width="1" height="1" fill="rgb(52,52,52)"/>
<rect x="407.7" y="374.4" width="1" height="1" fill="rgb(65,65,65)"/>
<rect x="404.3" y="382.3" width="1" height="1" fill="rgb(117,117,117)"/>
<rect x="399.2" y="375.1" width="1" height="1" fill="rgb(118,118,118)"/>
<rect x="411.3" y="368.0" width="1" height="1" fill="rgb(126,126,126)"/>
<rect x="419.0" y="371.0" width="1" height="1" fill="rgb(102,102,102)"/>
<rect x="400.1" y="380.3" width="1" height="1" fill="rgb(129,129,129)"/>
<rect x="403.6" y="381.1" width="1" height="1" fill="rgb(122,122,122)"/>
<rect x="412.0" y="367.0" width="1" height="1" fill="rgb(153,153,153)"/>
<rect x="406.0" y="375.1" width="1" height="1" fill="rgb(87,87,87)"/>
<rect x="412.3" y="370.6" width="1" height="1" fill="rgb(121,121,121)"/>
<rect x="414.8" y="382.2" width="1" height="1" fill="rgb(165,165,165)"/>
<rect x="417.9" y="373.1" width="1" height="1" fill="rgb(116,116,116)"/>
<rect x="404.5" y="384.8" width="1" height="1" fill="rgb(162,162,162)"/>
<rect x="407.9" y="377.8" width="1" height="1" fill="rgb(63,63,63)"/>
<rect x="397.2" y="377.7" width="1" height="1" fill="rgb(123,123,123)"/>
<rect x="422.4" y="373.6" width="1" height="1" fill="rgb(109,109,109)"/>
<rect x="410.1" y="373.8" width="1" height="1" fill="rgb(67,67,67)"/>
<rect x="409.7" y="374.1" width="1" height="1" fill="rgb(56,56,56)"/>
<rect x="397.8" y="378.9" width="1" height="1" fill="rgb(134,134,134)"/>
<rect x="400.8" y="370.5" width="1" height="1" fill="rgb(155,155,155)"/>
<rect x="412.0" y="374.9" width="1" height="1" fill="rgb(54,54,54)"/>
<rect x="403.4" y="377.4" width="1" height="1" fill="rgb(95,95,95)"/>
<rect x="402.8" y="374.7" width="1" height="1" fill="rgb(117,117,117)"/>
<rect x="403.3" y="376.8" width="1" height="1" fill="rgb(81,81,81)"/>
<rect x="416.2" y="367.8" width="1" height="1" fill="rgb(131,131,131)"/>
<rect x="418.3" y="365.9" width="1" height="1" fill="rgb(166,166,166)"/>
<rect x="404.7" y="376.4" width="1" height="1" fill="rgb(79,79,79)"/>
<rect x="399.6" y="378.9" width="1" height="1" fill="rgb(87,87,87)"/>
<rect x="417.5" y="373.0" width="1" height="1" fill="rgb(97,97,97)"/>
<rect x="411.0" y="371.3" width="1" height="1" fill="rgb(104,104,104)"/>
<rect x="408.0" y="375.3" width="1" height="1" fill="rgb(65,65,65)"/>
<rect x="395.3" y="384.9" width="1" height="1" fill="rgb(179,179,179)"/>
<rect x="409.4" y="380.3" width="1" height="1" fill="rgb(81,81,81)"/>
<rect x="398.1" y="382.1" width="1" height="1" fill="rgb(148,148,148)"/>
<rect x="403.3" y="378.4" width="1" height="1" fill="rgb(72,72,72)"/>
<rect x="395.9" y="374.5" width="1" height="1" fill="rgb(133,133,133)"/>
<rect x="409.4" y="375.4" width="1" height="1" fill="rgb(43,43,43)"/>
<rect x="412.3" y="380.8" width="1" height="1" fill="rgb(108,108,108)"/>
<rect x="404.3" y="381.6" width="1" height="1" fill="rgb(92,92,92)"/>
<rect x="408.4" y="374.6" width="1" height="1" fill="rgb(71,71,71)"/>
<rect x="409.9" y="378.4" width="1" height="1" fill="rgb(78,78,78)"/>
<rect x="403.3" y="379.3" width="1" height="1" fill="rgb(87,87,87)"/>
<rect x="405.1" y="377.0" width="1" height="1" fill="rgb(60,60,60)"/>
<rect x="401.4" y="374.6" width="1" height="1" fill="rgb(113,113,113)"/>
<rect x="414.0" y="370.8" width="1" height="1" fill="rgb(125,125,125)"/>
<rect x="412.1" y="381.3" width="1" height="1" fill="rgb(135,135,135)"/>
<rect x="413.9" y="373.1" width="1" height="1" fill="rgb(78,78,78)"/>
<rect x="413.4" y="373.8" width="1" height="1" fill="rgb(101,101,101)"/>
<rect x="411.9" y="374.2" width="1" height="1" fill="rgb(59,59,59)"/>
<rect x="407.8" y="373.9" width="1" height="1" fill="rgb(64,64,64)"/>
<rect x="412.1" y="372.1" width="1" height="1" fill="rgb(107,107,107)"/>
<rect x="415.1" y="377.2" width="1" height="1" fill="rgb(101,101,101)"/>
<rect x="414.1" y="375.1" width="1" height="1" fill="rgb(85,85,85)"/>
<rect x="423.8" y="367.0" width="1" height="1" fill="rgb(148,148,148)"/>
<rect x="397.3" y="379.4" width="1" height="1" fill="rgb(123,123,123)"/>
<rect x="406.9" y="374.7" width="1" height="1" fill="rgb(57,57,57)"/>
<rect x="411.0" y="376.3" width="1" height="1" fill="rgb(62,62,62)"/>
<rect x="400.0" y="378.4" width="1" height="1" fill="rgb(89,89,89)"/>
<rect x="411.8" y="377.7" width="1" height="1" fill="rgb(93,93,93)"/>
<rect x="425.4" y="371.1" width="1" height="1" fill="rgb(132,132,132)"/>
<rect x="426.4" y="374.7" width="1" height="1" fill="rgb(156,156,156)"/>
<rect x="409.0" y="373.1" width="1" height="1" fill="rgb(86,86,86)"/>
<rect x="401.7" y="378.0" width="1" height="1" fill="rgb(99,99,99)"/>
<rect x="420.4" y="373.5" width="1" height="1" fill="rgb(132,132,132)"/>
<rect x="413.5" y="378.6" width="1" height="1" fill="rgb(107,107,107)"/>
<rect x="405.8" y="378.6" width="1" height="1" fill="rgb(62,62,62)"/>
<rect x="408.0" y="376.5" width="1" height="1" fill="rgb(73,73,73)"/>
<rect x="411.4" y="370.2" width="1" height="1" fill="rgb(134,134,134)"/>
<rect x="403.6" y="375.1" width="1" height="1" fill="rgb(97,97,97)"/>
<rect x="389.0" y="381.7" width="1" height="1" fill="rgb(189,189,189)"/>
<rect x="410.6" y="383.8" width="1" height="1" fill="rgb(157,157,157)"/>
<rect x="409.8" y="369.5" width="1" height="1" fill="rgb(125,125,125)"/>
<rect x="419.8" y="368.7" width="1" height="1" fill="rgb(148,148,148)"/>
<rect x="409.0" y="370.1" width="1" height="1" fill="rgb(119,119,119)"/>
<rect x="408.5" y="375.1" width="1" height="1" fill="rgb(57,57,57)"/>
<rect x="408.3" y="376.6" width="1" height="1" fill="rgb(47,47,47)"/>
<rect x="401.9" y="374.4" width="1" height="1" fill="rgb(98,98,98)"/>
<rect x="418.7" y="371.7" width="1" height="1" fill="rgb(106,106,106)"/>
<rect x="403.3" y="373.9" width="1" height="1" fill="rgb(107,107,107)"/>
<rect x="388.6" y="392.1" width="1" height="1" fill="rgb(245,245,245)"/>
<rect x="404.1" y="371.8" width="1" height="1" fill="rgb(145,145,145)"/>
<rect x="419.2" y="374.1" width="1" height="1" fill="rgb(120,120,120)"/>
<rect x="410.0" y="379.7" width="1" height="1" fill="rgb(72,72,72)"/>
<rect x="412.5" y="378.6" width="1" height="1" fill="rgb(73,73,73)"/>
<rect x="411.3" y="383.5" width="1" height="1" fill="rgb(147,147,147)"/>
<rect x="390.6" y="381.1" width="1" height="1" fill="rgb(168,168,168)"/>
<rect x="419.4" y="373.1" width="1" height="1" fill="rgb(125,125,125)"/>
<rect x="418.4" y="375.8" width="1" height="1" fill="rgb(119,119,119)"/>
<rect x="425.7" y="373.9" width="1" height="1" fill="rgb(136,136,136)"/>
<rect x="405.1" y="377.8" width="1" height="1" fill="rgb(74,74,74)"/>
<rect x="407.2" y="376.0" width="1" height="1" fill="rgb(83,83,83)"/>
<rect x="402.2" y="380.4" width="1" height="1" fill="rgb(106,106,106)"/>
<rect x="406.0" y="379.4" width="1" height="1" fill="rgb(91,91,91)"/>
<rect x="403.6" y="376.7" width="1" height="1" fill="rgb(93,93,93)"/>
<rect x="409.1" y="376.8" width="1" height="1" fill="rgb(43,43,43)"/>
<rect x="413.5" y="375.6" width="1" height="1" fill="rgb(85,85,85)"/>
<rect x="398.9" y="384.1" width="1" height="1" fill="rgb(154,154,154)"/>
<rect x="430.5" y="373.5" width="1" height="1" fill="rgb(202,202,202)"/>
<rect x="424.1" y="375.5" width="1" height="1" fill="rgb(142,142,142)"/>
<rect x="390.7" y="382.9" width="1" height="1" fill="rgb(157,157,157)"/>
<rect x="392.4" y="379.8" width="1" height="1" fill="rgb(163,163,163)"/>
<rect x="390.5" y="383.6" width="1" height="1" fill="rgb(186,186,186)"/>
<rect x="406.2" y="376.0" width="1" height="1" fill="rgb(75,75,75)"/>
<rect x="404.9" y="378.1" width="1" height="1" fill="rgb(57,57,57)"/>
<rect x="405.6" y="376.9" width="1" height="1" fill="rgb(68,68,68)"/>
<rect x="404.5" y="374.1" width="1" height="1" fill="rgb(86,86,86)"/>
<rect x="402.4" y="376.3" width="1" height="1" fill="rgb(106,106,106)"/>
<rect x="384.4" y="380.9" width="1" height="1" fill="rgb(224,224,224)"/>
<rect x="408.1" y="373.9" width="1" height="1" fill="rgb(63,63,63)"/>
<rect x="418.0" y="369.7" width="1" height="1" fill="rgb(131,131,131)"/>
<rect x="406.3" y="379.3" width="1" height="1" fill="rgb(91,91,91)"/>
<rect x="400.0" y="376.9" width="1" height="1" fill="rgb(113,113,113)"/>
<rect x="408.8" y="374.0" width="1" height="1" fill="rgb(65,65,65)"/>
<rect x="424.7" y="370.7" width="1" height="1" fill="rgb(164,164,164)"/>
<rect x="411.8" y="375.8" width="1" height="1" fill="rgb(53,53,53)"/>
<rect x="401.0" y="380.9" width="1" height="1" fill="rgb(92,92,92)"/>
<rect x="406.5" y="376.6" width="1" height="1" fill="rgb(46,46,46)"/>
<rect x="404.2" y="373.5" width="1" height="1" fill="rgb(110,110,110)"/>
<rect x="404.4" y="380.6" width="1" height="1" fill="rgb(85,85,85)"/>
<rect x="404.1" y="382.7" width="1" height="1" fill="rgb(137,137,137)"/>
<rect x="412.7" y="376.0" width="1" height="1" fill="rgb(84,84,84)"/>
<rect x="399.5" y="374.6" width="1" height="1" fill="rgb(111,111,111)"/>
<rect x="404.8" y="378.8" width="1" height="1" fill="rgb(96,96,96)"/>
<rect x="403.3" y="381.8" width="1" height="1" fill="rgb(135,135,135)"/>
<rect x="406.3" y="381.1" width="1" height="1" fill="rgb(115,115,115)"/>
<rect x="415.4" y="372.6" width="1" height="1" fill="rgb(89,89,89)"/>
<rect x="422.3" y="376.7" width="1" height="1" fill="rgb(120,120,120)"/>
<rect x="417.9" y="376.1" width="1" height="1" fill="rgb(104,104,104)"/>
<rect x="406.2" y="374.3" width="1" height="1" fill="rgb(97,97,97)"/>
<rect x="414.0" y="376.0" width="1" height="1" fill="rgb(85,85,85)"/>
<rect x="415.0" y="376.1" width="1" height="1" fill="rgb(95,95,95)"/>
<rect x="406.6" y="374.2" width="1" height="1" fill="rgb(68,68,68)"/>
<rect x="403.3" y="382.5" width="1" height="1" fill="rgb(113,113,113)"/>
<rect x="418.6" y="377.4" width="1" height="1" fill="rgb(121,121,121)"/>
<rect x="422.9" y="368.1" width="1" height="1" fill="rgb(172,172,172)"/>
<rect x="398.1" y="381.9" width="1" height="1" fill="rgb(119,119,119)"/>
<rect x="407.2" y="380.1" width="1" height="1" fill="rgb(112,112,112)"/>
<rect x="413.1" y="373.4" width="1" height="1" fill="rgb(75,75,75)"/>
<rect x="405.5" y="379.9" width="1" height="1" fill="rgb(85,85,85)"/>
<rect x="406.1" y="378.7" width="1" height="1" fill="rgb(80,80,80)"/>
<rect x="410.7" y="371.4" width="1" height="1" fill="rgb(118,118,118)"/>
<rect x="405.0" y="376.6" width="1" height="1" fill="rgb(87,87,87)"/>
<rect x="413.0" y="373.1" width="1" height="1" fill="rgb(62,62,62)"/>
<rect x="400.3" y="378.3" width="1" height="1" fill="rgb(106,106,106)"/>
<rect x="419.1" y="372.3" width="1" height="1" fill="rgb(126,126,126)"/>
<rect x="418.0" y="375.5" width="1" height="1" fill="rgb(117,117,117)"/>
<rect x="412.0" y="376.2" width="1" height="1" fill="rgb(76,76,76)"/>
<rect x="411.5" y="374.7" width="1" height="1" fill="rgb(72,72,72)"/>
<rect x="417.8" y="378.5" width="1" height="1" fill="rgb(128,128,128)"/>
<rect x="410.1" y="378.5" width="1" height="1" fill="rgb(91,91,91)"/>
<rect x="397.1" y="378.9" width="1" height="1" fill="rgb(119,119,119)"/>
<rect x="401.7" y="386.5" width="1" height="1" fill="rgb(173,173,173)"/>
<rect x="400.5" y="378.9" width="1" height="1" fill="rgb(113,113,113)"/>
<rect x="403.1" y="370.2" width="1" height="1" fill="rgb(143,143,143)"/>
<rect x="412.9" y="370.4" width="1" height="1" fill="rgb(130,130,130)"/>
<rect x="412.2" y="368.9" width="1" height="1" fill="rgb(150,150,150)"/>
<rect x="418.8" y="372.1" width="1" height="1" fill="rgb(112,112,112)"/>
<rect x="404.4" y="371.2" width="1" height="1" fill="rgb(124,124,124)"/>
<rect x="406.0" y="378.1" width="1" height="1" fill="rgb(83,83,83)"/>
<rect x="416.1" y="374.0" width="1" height="1" fill="rgb(76,76,76)"/>
<rect x="412.4" y="379.0" width="1" height="1" fill="rgb(85,85,85)"/>
<rect x="411.7" y="375.3" width="1" height="1" fill="rgb(54,54,54)"/>
<rect x="417.9" y="377.2" width="1" height="1" fill="rgb(124,124,124)"/>
<rect x="410.7" y="377.0" width="1" height="1" fill="rgb(61,61,61)"/>
<rect x="394.8" y="376.3" width="1" height="1" fill="rgb(125,125,125)"/>
<rect x="413.2" y="376.5" width="1" height="1" fill="rgb(63,63,63)"/>
<rect x="411.9" y="381.2" width="1" height="1" fill="rgb(123,123,123)"/>
<rect x="410.6" y="378.1" width="1" height="1" fill="rgb(66,66,66)"/>
<rect x="416.3" y="379.6" width="1" height="1" fill="rgb(114,114,114)"/>
<rect x="396.3" y="377.9" width="1" height="1" fill="rgb(129,129,129)"/>
<rect x="410.3" y="383.5" width="1" height="1" fill="rgb(160,160,160)"/>
<rect x="405.4" y="381.2" width="1" height="1" fill="rgb(124,124,124)"/>
<rect x="404.4" y="377.9" width="1" height="1" fill="rgb(59,59,59)"/>
<rect x="420.8" y="370.8" width="1" height="1" fill="rgb(123,123,123)"/>
<rect x="400.7" y="377.9" width="1" height="1" fill="rgb(91,91,91)"/>
<rect x="419.6" y="372.9" width="1" height="1" fill="rgb(101,101,101)"/>
<rect x="417.4" y="374.2" width="1" height="1" fill="rgb(92,92,92)"/>
<rect x="411.1" y="370.2" width="1" height="1" fill="rgb(123,123,123)"/>
<rect x="412.1" y="377.2" width="1" height="1" fill="rgb(65,65,65)"/>
<rect x="410.4" y="383.2" width="1" height="1" fill="rgb(138,138,138)"/>
<rect x="392.4" y="372.3" width="1" height="1" fill="rgb(178,178,178)"/>
<rect x="405.2" y="376.9" width="1" height="1" fill="rgb(85,85,85)"/>
<rect x="422.5" y="372.5" width="1" height="1" fill="rgb(146,146,146)"/>
<rect x="410.2" y="374.6" width="1" height="1" fill="rgb(55,55,55)"/>
<rect x="408.2" y="374.9" width="1" height="1" fill="rgb(66,66,66)"/>
<rect x="392.4" y="382.8" width="1" height="1" fill="rgb(163,163,163)"/>
<rect x="412.4" y="372.9" width="1" height="1" fill="rgb(98,98,98)"/>
<rect x="396.6" y="383.9" width="1" height="1" fill="rgb(129,129,129)"/>
<rect x="411.0" y="373.5" width="1" height="1" fill="rgb(80,80,80)"/>
<rect x="405.1" y="377.1" width="1" height="1" fill="rgb(88,88,88)"/>
<rect x="407.8" y="379.6" width="1" height="1" fill="rgb(67,67,67)"/>
<rect x="407.6" y="380.5" width="1" height="1" fill="rgb(107,107,107)"/>
<rect x="403.5" y="382.1" width="1" height="1" fill="rgb(98,98,98)"/>
<rect x="403.7" y="380.3" width="1" height="1" fill="rgb(118,118,118)"/>
<rect x="413.0" y="370.5" width="1" height="1" fill="rgb(91,91,91)"/>
<rect x="402.3" y="382.2" width="1" height="1" fill="rgb(106,106,106)"/>
<rect x="401.6" y="376.8" width="1" height="1" fill="rgb(75,75,75)"/>
<rect x="421.9" y="372.2" width="1" height="1" fill="rgb(114,114,114)"/>
<rect x="404.4" y="375.6" width="1" height="1" fill="rgb(79,79,79)"/>
<rect x="403.3" y="377.2" width="1" height="1" fill="rgb(78,78,78)"/>
<rect x="402.0" y="381.7" width="1" height="1" fill="rgb(103,103,103)"/>
<rect x="414.4" y="380.4" width="1" height="1" fill="rgb(112,112,112)"/>
<rect x="417.5" y="372.3" width="1" height="1" fill="rgb(115,115,115)"/>
<rect x="404.3" y="383.6" width="1" height="1" fill="rgb(113,113,113)"/>
<rect x="411.6" y="376.8" width="1" height="1" fill="rgb(75,75,75)"/>
<rect x="407.6" y="374.5" width="1" height="1" fill="rgb(71,71,71)"/>
<rect x="413.1" y="370.9" width="1" height="1" fill="rgb(89,89,89)"/>
<rect x="410.5" y="378.0" width="1" height="1" fill="rgb(56,56,56)"/>
<rect x="407.2" y="377.6" width="1" height="1" fill="rgb(83,83,83)"/>
<rect x="402.2" y="380.2" width="1" height="1" fill="rgb(107,107,107)"/>
<rect x="408.9" y="369.6" width="1" height="1" fill="rgb(125,125,125)"/>
<rect x="406.6" y="380.3" width="1" height="1" fill="rgb(72,72,72)"/>
<rect x="401.2" y="381.8" width="1" height="1" fill="rgb(139,139,139)"/>
<rect x="410.5" y="370.7" width="1" height="1" fill="rgb(118,118,118)"/>
<rect x="415.7" y="374.7" width="1" height="1" fill="rgb(80,80,80)"/>
<rect x="407.0" y="375.5" width="1" height="1" fill="rgb(63,63,63)"/>
<rect x="396.7" y="379.4" width="1" height="1" fill="rgb(141,141,141)"/>
<rect x="405.7" y="375.8" width="1" height="1" fill="rgb(85,85,85)"/>
<rect x="416.0" y="371.7" width="1" height="1" fill="rgb(97,97,97)"/>
<rect x="405.4" y="377.3" width="1" height="1" fill="rgb(81,81,81)"/>
<rect x="417.7" y="373.4" width="1" height="1" fill="rgb(111,111,111)"/>
<rect x="411.2" y="373.6" width="1" height="1" fill="rgb(97,97,97)"/>
<rect x="405.5" y="375.5" width="1" height="1" fill="rgb(58,58,58)"/>
<rect x="410.9" y="380.5" width="1" height="1" fill="rgb(115,115,115)"/>
<rect x="403.4" y="385.2" width="1" height="1" fill="rgb(144,144,144)"/>
<rect x="405.9" y="377.6" width="1" height="1" fill="rgb(91,91,91)"/>
<rect x="421.0" y="378.8" width="1" height="1" fill="rgb(146,146,146)"/>
<rect x="400.4" y="377.0" width="1" height="1" fill="rgb(94,94,94)"/>
<rect x="426.3" y="365.2" width="1" height="1" fill="rgb(201,201,201)"/>
<rect x="406.1" y="376.0" width="1" height="1" fill="rgb(85,85,85)"/>
<rect x="407.7" y="384.2" width="1" height="1" fill="rgb(131,131,131)"/>
<rect x="396.5" y="376.8" width="1" height="1" fill="rgb(118,118,118)"/>
<rect x="406.5" y="376.6" width="1" height="1" fill="rgb(44,44,44)"/>
<rect x="420.8" y="382.6" width="1" height="1" fill="rgb(199,199,199)"/>
<rect x="405.3" y="374.7" width="1" height="1" fill="rgb(93,93,93)"/>
<rect x="407.8" y="373.1" width="1" height="1" fill="rgb(95,95,95)"/>
<rect x="409.6" y="375.5" width="1" height="1" fill="rgb(42,42,42)"/>
<rect x="405.5" y="377.7" width="1" height="1" fill="rgb(67,67,67)"/>
<rect x="405.1" y="376.5" width="1" height="1" fill="rgb(76,76,76)"/>
<rect x="409.8" y="380.8" width="1" height="1" fill="rgb(98,98,98)"/>
<rect x="407.8" y="375.8" width="1" height="1" fill="rgb(67,67,67)"/>
<rect x="422.3" y="379.7" width="1" height="1" fill="rgb(165,165,165)"/>
<rect x="402.3" y="378.9" width="1" height="1" fill="rgb(99,99,99)"/>
<rect x="403.3" y="372.2" width="1" height="1" fill="rgb(134,134,134)"/>
<rect x="386.7" y="383.7" width="1" height="1" fill="rgb(208,208,208)"/>
<rect x="413.0" y="372.2" width="1" height="1" fill="rgb(90,90,90)"/>
<rect x="394.3" y="377.3" width="1" height="1" fill="rgb(146,146,146)"/>
<rect x="401.7" y="377.8" width="1" height="1" fill="rgb(113,113,113)"/>
<rect x="408.6" y="377.5" width="1" height="1" fill="rgb(72,72,72)"/>
<rect x="417.7" y="370.3" width="1" height="1" fill="rgb(124,124,124)"/>
<rect x="408.5" y="373.3" width="1" height="1" fill="rgb(90,90,90)"/>
<rect x="412.8" y="376.0" width="1" height="1" fill="rgb(68,68,68)"/>
<rect x="402.1" y="378.2" width="1" height="1" fill="rgb(72,72,72)"/>
<rect x="405.2" y="373.2" width="1" height="1" fill="rgb(90,90,90)"/>
<rect x="407.7" y="380.1" width="1" height="1" fill="rgb(80,80,80)"/>
<rect x="424.4" y="375.2" width="1" height="1" fill="rgb(167,167,167)"/>
<rect x="400.4" y="372.4" width="1" height="1" fill="rgb(134,134,134)"/>
<rect x="410.4" y="373.5" width="1" height="1" fill="rgb(90,90,90)"/>
<rect x="394.4" y="377.3" width="1" height="1" fill="rgb(126,126,126)"/>
<rect x="409.8" y="374.3" width="1" height="1" fill="rgb(72,72,72)"/>
<rect x="409.5" y="376.1" width="1" height="1" fill="rgb(37,37,37)"/>
<rect x="408.2" y="379.6" width="1" height="1" fill="rgb(67,67,67)"/>
<rect x="418.6" y="369.4" width="1" height="1" fill="rgb(125,125,125)"/>
<rect x="404.4" y="381.4" width="1" height="1" fill="rgb(86,86,86)"/>
<rect x="424.6" y="373.3" width="1" height="1" fill="rgb(135,135,135)"/>
<rect x="392.7" y="381.0" width="1" height="1" fill="rgb(173,173,173)"/>
<rect x="404.6" y="378.0" width="1" height="1" fill="rgb(68,68,68)"/>
<rect x="421.7" y="369.0" width="1" height="1" fill="rgb(129,129,129)"/>
<rect x="412.0" y="372.5" width="1" height="1" fill="rgb(88,88,88)"/>
<rect x="418.0" y="380.3" width="1" height="1" fill="rgb(162,162,162)"/>
<rect x="413.6" y="379.9" width="1" height="1" fill="rgb(97,97,97)"/>
<rect x="410.8" y="375.0" width="1" height="1" fill="rgb(44,44,44)"/>
<rect x="407.5" y="373.6" width="1" height="1" fill="rgb(104,104,104)"/>
<rect x="415.9" y="370.1" width="1" height="1" fill="rgb(102,102,102)"/>
<rect x="401.6" y="370.3" width="1" height="1" fill="rgb(151,151,151)"/>
<rect x="414.1" y="376.1" width="1" height="1" fill="rgb(70,70,70)"/>
<rect x="407.5" y="374.4" width="1" height="1" fill="rgb(62,62,62)"/>
<rect x="411.7" y="380.9" width="1" height="1" fill="rgb(127,127,127)"/>
<rect x="403.0" y="381.8" width="1" height="1" fill="rgb(131,131,131)"/>
<rect x="404.6" y="376.1" width="1" height="1" fill="rgb(70,70,70)"/>
<rect x="418.1" y="371.3" width="1" height="1" fill="rgb(104,104,104)"/>
<rect x="407.0" y="375.6" width="1" height="1" fill="rgb(88,88,88)"/>
<rect x="401.6" y="380.0" width="1" height="1" fill="rgb(104,104,104)"/>
<rect x="418.9" y="374.8" width="1" height="1" fill="rgb(98,98,98)"/>
<rect x="411.0" y="382.3" width="1" height="1" fill="rgb(110,110,110)"/>
<rect x="408.3" y="382.5" width="1" height="1" fill="rgb(111,111,111)"/>
<rect x="408.9" y="380.8" width="1" height="1" fill="rgb(90,90,90)"/>
<rect x="424.4" y="365.4" width="1" height="1" fill="rgb(160,160,160)"/>
<rect x="398.2" y="380.8" width="1" height="1" fill="rgb(117,117,117)"/>
<rect x="416.4" y="372.3" width="1" height="1" fill="rgb(86,86,86)"/>
<rect x="399.2" y="377.3" width="1" height="1" fill="rgb(105,105,105)"/>
<rect x="401.1" y="373.2" width="1" height="1" fill="rgb(126,126,126)"/>
<rect x="395.5" y="379.9" width="1" height="1" fill="rgb(142,142,142)"/>
<rect x="391.6" y="380.1" width="1" height="1" fill="rgb(143,143,143)"/>
<rect x="409.5" y="374.0" width="1" height="1" fill="rgb(79,79,79)"/>
<rect x="411.0" y="379.6" width="1" height="1" fill="rgb(108,108,108)"/>
<rect x="410.5" y="369.6" width="1" height="1" fill="rgb(115,115,115)"/>
<rect x="404.3" y="377.8" width="1" height="1" fill="rgb(82,82,82)"/>
<rect x="407.4" y="376.8" width="1" height="1" fill="rgb(63,63,63)"/>
<rect x="406.0" y="372.5" width="1" height="1" fill="rgb(122,122,122)"/>
<rect x="411.5" y="377.4" width="1" height="1" fill="rgb(51,51,51)"/>
<rect x="401.7" y="378.5" width="1" height="1" fill="rgb(92,92,92)"/>
<rect x="410.0" y="382.5" width="1" height="1" fill="rgb(108,108,108)"/>
<rect x="416.3" y="371.6" width="1" height="1" fill="rgb(107,107,107)"/>
<rect x="410.0" y="373.4" width="1" height="1" fill="rgb(64,64,64)"/>
<rect x="408.8" y="377.3" width="1" height="1" fill="rgb(52,52,52)"/>
<rect x="402.2" y="375.2" width="1" height="1" fill="rgb(91,91,91)"/>
<rect x="406.5" y="376.2" width="1" height="1" fill="rgb(81,81,81)"/>
<rect x="412.5" y="377.7" width="1" height="1" fill="rgb(66,66,66)"/>
<rect x="402.7" y="371.7" width="1" height="1" fill="rgb(145,145,145)"/>
<rect x="416.5" y="375.6" width="1" height="1" fill="rgb(87,87,87)"/>
<rect x="415.8" y="383.8" width="1" height="1" fill="rgb(146,146,146)"/>
<rect x="397.4" y="380.0" width="1" height="1" fill="rgb(145,145,145)"/>
<rect x="415.0" y="377.7" width="1" height="1" fill="rgb(108,108,108)"/>
<rect x="414.6" y="375.3" width="1" height="1" fill="rgb(98,98,98)"/>
<rect x="414.5" y="377.5" width="1" height="1" fill="rgb(83,83,83)"/>
<rect x="407.0" y="377.5" width="1" height="1" fill="rgb(44,44,44)"/>
<rect x="421.3" y="372.6" width="1" height="1" fill="rgb(134,134,134)"/>
<rect x="410.7" y="378.6" width="1" height="1" fill="rgb(84,84,84)"/>
<rect x="410.8" y="379.8" width="1" height="1" fill="rgb(117,117,117)"/>
<rect x="405.7" y="379.7" width="1" height="1" fill="rgb(109,109,109)"/>
<rect x="407.6" y="376.0" width="1" height="1" fill="rgb(55,55,55)"/>
<rect x="407.6" y="375.7" width="1" height="1" fill="rgb(56,56,56)"/>
<rect x="402.6" y="371.3" width="1" height="1" fill="rgb(141,141,141)"/>
<rect x="414.6" y="372.0" width="1" height="1" fill="rgb(92,92,92)"/>
<rect x="412.4" y="372.3" width="1" height="1" fill="rgb(104,104,104)"/>
<rect x="411.6" y="378.8" width="1" height="1" fill="rgb(74,74,74)"/>
<rect x="405.1" y="376.7" width="1" height="1" fill="rgb(61,61,61)"/>
<rect x="412.1" y="379.4" width="1" height="1" fill="rgb(89,89,89)"/>
<rect x="389.0" y="385.8" width="1" height="1" fill="rgb(197,197,197)"/>
<rect x="411.9" y="373.6" width="1" height="1" fill="rgb(72,72,72)"/>
<rect x="419.7" y="375.7" width="1" height="1" fill="rgb(110,110,110)"/>
<rect x="409.3" y="376.9" width="1" height="1" fill="rgb(41,41,41)"/>
<rect x="409.7" y="379.7" width="1" height="1" fill="rgb(111,111,111)"/>
<rect x="407.3" y="374.0" width="1" height="1" fill="rgb(76,76,76)"/>
<rect x="420.7" y="380.0" width="1" height="1" fill="rgb(146,146,146)"/>
<rect x="408.9" y="370.5" width="1" height="1" fill="rgb(137,137,137)"/>
<rect x="415.6" y="374.8" width="1" height="1" fill="rgb(81,81,81)"/>
<rect x="423.0" y="376.0" width="1" height="1" fill="rgb(132,132,132)"/>
<rect x="409.3" y="371.8" width="1" height="1" fill="rgb(81,81,81)"/>
<rect x="405.6" y="378.9" width="1" height="1" fill="rgb(60,60,60)"/>
<rect x="415.9" y="378.3" width="1" height="1" fill="rgb(86,86,86)"/>
<rect x="407.4" y="380.3" width="1" height="1" fill="rgb(96,96,96)"/>
<rect x="417.8" y="378.1" width="1" height="1" fill="rgb(107,107,107)"/>
<rect x="406.3" y="371.7" width="1" height="1" fill="rgb(98,98,98)"/>
<rect x="411.7" y="378.4" width="1" height="1" fill="rgb(93,93,93)"/>
<rect x="404.0" y="379.7" width="1" height="1" fill="rgb(108,108,108)"/>
<rect x="411.0" y="378.7" width="1" height="1" fill="rgb(77,77,77)"/>
<rect x="410.0" y="377.0" width="1" height="1" fill="rgb(39,39,39)"/>
<rect x="402.1" y="374.8" width="1" height="1" fill="rgb(119,119,119)"/>
<rect x="415.1" y="374.1" width="1" height="1" fill="rgb(93,93,93)"/>
<rect x="413.3" y="373.8" width="1" height="1" fill="rgb(87,87,87)"/>
<rect x="398.3" y="371.5" width="1" height="1" fill="rgb(176,176,176)"/>
<rect x="411.6" y="380.7" width="1" height="1" fill="rgb(92,92,92)"/>
<rect x="403.3" y="379.5" width="1" height="1" fill="rgb(72,72,72)"/>
<rect x="405.2" y="379.6" width="1" height="1" fill="rgb(87,87,87)"/>
<rect x="409.1" y="378.4" width="1" height="1" fill="rgb(69,69,69)"/>
<rect x="405.1" y="377.7" width="1" height="1" fill="rgb(82,82,82)"/>
<rect x="409.9" y="377.6" width="1" height="1" fill="rgb(60,60,60)"/>
<rect x="406.0" y="378.1" width="1" height="1" fill="rgb(76,76,76)"/>
<rect x="405.4" y="372.9" width="1" height="1" fill="rgb(113,113,113)"/>
<rect x="416.5" y="374.7" width="1" height="1" fill="rgb(86,86,86)"/>
<rect x="416.4" y="375.6" width="1" height="1" fill="rgb(73,73,73)"/>
<rect x="399.9" y="379.0" width="1" height="1" fill="rgb(105,105,105)"/>
<rect x="407.5" y="379.2" width="1" height="1" fill="rgb(60,60,60)"/>
<rect x="402.4" y="384.5" width="1" height="1" fill="rgb(145,145,145)"/>
<rect x="409.9" y="381.4" width="1" height="1" fill="rgb(100,100,100)"/>
<rect x="399.9" y="379.9" width="1" height="1" fill="rgb(130,130,130)"/>
<rect x="404.2" y="381.3" width="1" height="1" fill="rgb(126,126,126)"/>
<rect x="409.3" y="371.1" width="1" height="1" fill="rgb(116,116,116)"/>
<rect x="403.6" y="379.8" width="1" height="1" fill="rgb(84,84,84)"/>
<rect x="414.6" y="368.1" width="1" height="1" fill="rgb(134,134,134)"/>
<rect x="410.8" y="375.2" width="1" height="1" fill="rgb(43,43,43)"/>
<rect x="403.2" y="377.8" width="1" height="1" fill="rgb(79,79,79)"/>
<rect x="413.2" y="374.8" width="1" height="1" fill="rgb(59,59,59)"/>
<rect x="412.2" y="380.8" width="1" height="1" fill="rgb(103,103,103)"/>
<rect x="418.2" y="373.7" width="1" height="1" fill="rgb(99,99,99)"/>
<rect x="411.0" y="380.0" width="1" height="1" fill="rgb(106,106,106)"/>
<rect x="399.4" y="377.5" width="1" height="1" fill="rgb(113,113,113)"/>
<rect x="416.2" y="365.8" width="1" height="1" fill="rgb(158,158,158)"/>
<rect x="402.5" y="384.4" width="1" height="1" fill="rgb(132,132,132)"/>
<rect x="405.5" y="371.8" width="1" height="1" fill="rgb(125,125,125)"/>
<rect x="421.8" y="371.1" width="1" height="1" fill="rgb(116,116,116)"/>
<rect x="402.6" y="375.2" width="1" height="1" fill="rgb(102,102,102)"/>
<rect x="405.9" y="379.4" width="1" height="1" fill="rgb(95,95,95)"/>
<rect x="404.0" y="377.1" width="1" height="1" fill="rgb(69,69,69)"/>
<rect x="407.8" y="378.7" width="1" height="1" fill="rgb(76,76,76)"/>
<rect x="411.4" y="376.5" width="1" height="1" fill="rgb(44,44,44)"/>
<rect x="419.1" y="376.8" width="1" height="1" fill="rgb(100,100,100)"/>
<rect x="398.1" y="381.3" width="1" height="1" fill="rgb(124,124,124)"/>
<rect x="418.4" y="379.8" width="1" height="1" fill="rgb(154,154,154)"/>
<rect x="414.7" y="375.6" width="1" height="1" fill="rgb(82,82,82)"/>
<rect x="410.4" y="372.4" width="1" height="1" fill="rgb(102,102,102)"/>
<rect x="410.7" y="381.6" width="1" height="1" fill="rgb(111,111,111)"/>
<rect x="404.7" y="382.8" width="1" height="1" fill="rgb(138,138,138)"/>
<rect x="412.6" y="371.1" width="1" height="1" fill="rgb(102,102,102)"/>
<rect x="405.3" y="372.4" width="1" height="1" fill="rgb(125,125,125)"/>
<rect x="410.0" y="374.2" width="1" height="1" fill="rgb(65,65,65)"/>
<rect x="406.2" y="374.8" width="1" height="1" fill="rgb(65,65,65)"/>
<rect x="418.8" y="373.9" width="1" height="1" fill="rgb(127,127,127)"/>
<rect x="413.0" y="374.8" width="1" height="1" fill="rgb(80,80,80)"/>
<rect x="401.2" y="381.0" width="1" height="1" fill="rgb(106,106,106)"/>
<rect x="427.6" y="366.5" width="1" height="1" fill="rgb(162,162,162)"/>
<rect x="408.0" y="374.8" width="1" height="1" fill="rgb(49,49,49)"/>
<rect x="408.2" y="382.3" width="1" height="1" fill="rgb(142,142,142)"/>
<rect x="414.5" y="376.9" width="1" height="1" fill="rgb(66,66,66)"/>
<rect x="401.1" y="377.4" width="1" height="1" fill="rgb(93,93,93)"/>
<rect x="406.3" y="383.2" width="1" height="1" fill="rgb(143,143,143)"/>
<rect x="408.7" y="379.9" width="1" height="1" fill="rgb(97,97,97)"/>
<rect x="408.5" y="366.2" width="1" height="1" fill="rgb(169,169,169)"/>
<rect x="405.1" y="373.1" width="1" height="1" fill="rgb(117,117,117)"/>
<rect x="412.4" y="377.1" width="1" height="1" fill="rgb(57,57,57)"/>
<rect x="414.0" y="373.7" width="1" height="1" fill="rgb(81,81,81)"/>
<rect x="414.5" y="376.9" width="1" height="1" fill="rgb(65,65,65)"/>
<rect x="405.5" y="376.5" width="1" height="1" fill="rgb(78,78,78)"/>
<rect x="409.2" y="378.8" width="1" height="1" fill="rgb(79,79,79)"/>
<rect x="406.2" y="379.2" width="1" height="1" fill="rgb(62,62,62)"/>
<rect x="423.9" y="375.0" width="1" height="1" fill="rgb(133,133,133)"/>
<rect x="413.6" y="376.1" width="1" height="1" fill="rgb(75,75,75)"/>
<rect x="414.1" y="374.8" width="1" height="1" fill="rgb(94,94,94)"/>
<rect x="402.1" y="378.6" width="1" height="1" fill="rgb(107,107,107)"/>
<rect x="407.6" y="377.5" width="1" height="1" fill="rgb(65,65,65)"/>
<rect x="402.7" y="373.9" width="1" height="1" fill="rgb(100,100,100)"/>
<rect x="421.8" y="369.9" width="1" height="1" fill="rgb(159,159,159)"/>
<rect x="397.3" y="382.0" width="1" height="1" fill="rgb(142,142,142)"/>
<rect x="410.2" y="376.7" width="1" height="1" fill="rgb(43,43,43)"/>
<rect x="411.6" y="376.5" width="1" height="1" fill="rgb(58,58,58)"/>
<rect x="408.6" y="373.3" width="1" height="1" fill="rgb(86,86,86)"/>
<rect x="414.2" y="375.0" width="1" height="1" fill="rgb(99,99,99)"/>
<rect x="418.1" y="374.0" width="1" height="1" fill="rgb(116,116,116)"/>
<rect x="410.8" y="370.0" width="1" height="1" fill="rgb(116,116,116)"/>
<rect x="412.0" y="369.0" width="1" height="1" fill="rgb(143,143,143)"/>
<rect x="412.5" y="375.1" width="1" height="1" fill="rgb(88,88,88)"/>
<rect x="401.1" y="381.8" width="1" height="1" fill="rgb(106,106,106)"/>
<rect x="410.5" y="375.4" width="1" height="1" fill="rgb(60,60,60)"/>
<rect x="411.3" y="379.2" width="1" height="1" fill="rgb(86,86,86)"/>
<rect x="400.7" y="373.1" width="1" height="1" fill="rgb(123,123,123)"/>
<rect x="404.3" y="375.0" width="1" height="1" fill="rgb(79,79,79)"/>
<rect x="414.0" y="373.0" width="1" height="1" fill="rgb(68,68,68)"/>
<rect x="404.7" y="382.7" width="1" height="1" fill="rgb(108,108,108)"/>
<rect x="407.7" y="372.1" width="1" height="1" fill="rgb(112,112,112)"/>
<rect x="411.2" y="377.2" width="1" height="1" fill="rgb(52,52,52)"/>
<rect x="405.7" y="380.4" width="1" height="1" fill="rgb(73,73,73)"/>
<rect x="402.1" y="378.2" width="1" height="1" fill="rgb(85,85,85)"/>
<rect x="391.7" y="379.2" width="1" height="1" fill="rgb(145,145,145)"/>
<rect x="413.3" y="372.9" width="1" height="1" fill="rgb(98,98,98)"/>
<rect x="427.5" y="377.8" width="1" height="1" fill="rgb(177,177,177)"/>
<rect x="414.0" y="374.3" width="1" height="1" fill="rgb(75,75,75)"/>
<rect x="407.5" y="374.5" width="1" height="1" fill="rgb(65,65,65)"/>
<rect x="399.6" y="371.1" width="1" height="1" fill="rgb(148,148,148)"/>
<rect x="412.8" y="378.3" width="1" height="1" fill="rgb(111,111,111)"/>
<rect x="416.4" y="378.3" width="1" height="1" fill="rgb(105,105,105)"/>
<rect x="405.7" y="375.2" width="1" height="1" fill="rgb(83,83,83)"/>
<rect x="418.7" y="368.8" width="1" height="1" fill="rgb(141,141,141)"/>
<rect x="400.1" y="378.7" width="1" height="1" fill="rgb(88,88,88)"/>
<rect x="413.7" y="370.2" width="1" height="1" fill="rgb(114,114,114)"/>
<rect x="404.7" y="374.3" width="1" height="1" fill="rgb(89,89,89)"/>
<rect x="411.8" y="380.4" width="1" height="1" fill="rgb(111,111,111)"/>
<rect x="407.5" y="376.6" width="1" height="1" fill="rgb(64,64,64)"/>
<rect x="400.7" y="380.3" width="1" height="1" fill="rgb(112,112,112)"/>
<rect x="412.8" y="374.3" width="1" height="1" fill="rgb(71,71,71)"/>
<rect x="420.9" y="372.6" width="1" height="1" fill="rgb(112,112,112)"/>
<rect x="404.6" y="366.6" width="1" height="1" fill="rgb(178,178,178)"/>
<rect x="411.4" y="374.2" width="1" height="1" fill="rgb(92,92,92)"/>
<rect x="404.2" y="377.8" width="1" height="1" fill="rgb(95,95,95)"/>
<rect x="397.6" y="372.7" width="1" height="1" fill="rgb(168,168,168)"/>
<rect x="410.7" y="371.6" width="1" height="1" fill="rgb(123,123,123)"/>
<rect x="423.3" y="375.1" width="1" height="1" fill="rgb(147,147,147)"/>
<rect x="411.0" y="382.3" width="1" height="1" fill="rgb(127,127,127)"/>
<rect x="395.0" y="378.7" width="1" height="1" fill="rgb(123,123,123)"/>
<rect x="408.8" y="381.5" width="1" height="1" fill="rgb(92,92,92)"/>
<rect x="397.0" y="377.6" width="1" height="1" fill="rgb(126,126,126)"/>
<rect x="411.7" y="382.0" width="1" height="1" fill="rgb(144,144,144)"/>
<rect x="409.3" y="371.7" width="1" height="1" fill="rgb(122,122,122)"/>
<rect x="410.0" y="374.0" width="1" height="1" fill="rgb(67,67,67)"/>
<rect x="411.0" y="376.3" width="1" height="1" fill="rgb(52,52,52)"/>
<rect x="416.8" y="368.9" width="1" height="1" fill="rgb(115,115,115)"/>
<rect x="413.1" y="378.4" width="1" height="1" fill="rgb(107,107,107)"/>
<rect x="396.5" y="374.6" width="1" height="1" fill="rgb(125,125,125)"/>
<rect x="414.1" y="374.6" width="1" height="1" fill="rgb(83,83,83)"/>
<rect x="416.4" y="370.1" width="1" height="1" fill="rgb(106,106,106)"/>
<rect x="404.7" y="374.1" width="1" height="1" fill="rgb(73,73,73)"/>
<rect x="406.7" y="379.6" width="1" height="1" fill="rgb(92,92,92)"/>
<rect x="408.9" y="381.2" width="1" height="1" fill="rgb(117,117,117)"/>
<rect x="411.3" y="377.3" width="1" height="1" fill="rgb(79,79,79)"/>
<rect x="405.7" y="377.6" width="1" height="1" fill="rgb(53,53,53)"/>
<rect x="417.9" y="371.9" width="1" height="1" fill="rgb(102,102,102)"/>
<rect x="419.9" y="384.3" width="1" height="1" fill="rgb(202,202,202)"/>
<rect x="407.8" y="373.2" width="1" height="1" fill="rgb(81,81,81)"/>
<rect x="406.2" y="378.2" width="1" height="1" fill="rgb(78,78,78)"/>
<rect x="398.4" y="382.4" width="1" height="1" fill="rgb(126,126,126)"/>
<rect x="401.5" y="379.6" width="1" height="1" fill="rgb(120,120,120)"/>
<rect x="404.2" y="382.3" width="1" height="1" fill="rgb(105,105,105)"/>
<rect x="403.8" y="376.4" width="1" height="1" fill="rgb(101,101,101)"/>
<rect x="408.0" y="383.5" width="1" height="1" fill="rgb(143,143,143)"/>
<rect x="394.0" y="383.0" width="1" height="1" fill="rgb(147,147,147)"/>
<rect x="407.6" y="371.8" width="1" height="1" fill="rgb(106,106,106)"/>
<rect x="416.5" y="375.6" width="1" height="1" fill="rgb(84,84,84)"/>
<rect x="393.7" y="384.0" width="1" height="1" fill="rgb(150,150,150)"/>
<rect x="404.3" y="372.5" width="1" height="1" fill="rgb(103,103,103)"/>
<rect x="406.4" y="378.1" width="1" height="1" fill="rgb(89,89,89)"/>
<rect x="410.2" y="379.7" width="1" height="1" fill="rgb(87,87,87)"/>
<rect x="413.5" y="368.6" width="1" height="1" fill="rgb(139,139,139)"/>
<rect x="406.1" y="376.7" width="1" height="1" fill="rgb(85,85,85)"/>
<rect x="415.5" y="376.2" width="1" height="1" fill="rgb(84,84,84)"/>
<rect x="406.1" y="371.8" width="1" height="1" fill="rgb(107,107,107)"/>
<rect x="421.8" y="367.3" width="1" height="1" fill="rgb(136,136,136)"/>
<rect x="403.1" y="374.9" width="1" height="1" fill="rgb(91,91,91)"/>
<rect x="403.4" y="378.6" width="1" height="1" fill="rgb(94,94,94)"/>
<rect x="392.8" y="375.0" width="1" height="1" fill="rgb(188,188,188)"/>
<rect x="416.4" y="374.0" width="1" height="1" fill="rgb(107,107,107)"/>
<rect x="401.6" y="373.8" width="1" height="1" fill="rgb(139,139,139)"/>
<rect x="417.0" y="375.6" width="1" height="1" fill="rgb(93,93,93)"/>
<rect x="406.0" y="375.0" width="1" height="1" fill="rgb(101,101,101)"/>
<rect x="411.9" y="378.8" width="1" height="1" fill="rgb(74,74,74)"/>
<rect x="401.0" y="382.3" width="1" height="1" fill="rgb(102,102,102)"/>
<rect x="415.6" y="378.9" width="1" height="1" fill="rgb(118,118,118)"/>
<rect x="408.3" y="373.7" width="1" height="1" fill="rgb(95,95,95)"/>
<rect x="406.2" y="370.8" width="1" height="1" fill="rgb(108,108,108)"/>
<rect x="408.1" y="376.7" width="1" height="1" fill="rgb(71,71,71)"/>
<rect x="422.8" y="369.7" width="1" height="1" fill="rgb(121,121,121)"/>
<rect x="405.0" y="381.1" width="1" height="1" fill="rgb(104,104,104)"/>
<rect x="420.0" y="377.3" width="1" height="1" fill="rgb(117,117,117)"/>
<rect x="405.6" y="377.2" width="1" height="1" fill="rgb(73,73,73)"/>
<rect x="411.7" y="376.7" width="1" height="1" fill="rgb(67,67,67)"/>
<rect x="407.5" y="382.8" width="1" height="1" fill="rgb(114,114,114)"/>
<rect x="407.4" y="377.4" width="1" height="1" fill="rgb(49,49,49)"/>
<rect x="401.0" y="380.0" width="1" height="1" fill="rgb(103,103,103)"/>
<rect x="410.9" y="374.4" width="1" height="1" fill="rgb(84,84,84)"/>
<rect x="422.0" y="380.5" width="1" height="1" fill="rgb(167,167,167)"/>
<rect x="401.9" y="381.1" width="1" height="1" fill="rgb(125,125,125)"/>
<rect x="416.2" y="373.4" width="1" height="1" fill="rgb(71,71,71)"/>
<rect x="418.2" y="379.2" width="1" height="1" fill="rgb(141,141,141)"/>
<rect x="407.8" y="374.6" width="1" height="1" fill="rgb(75,75,75)"/>
<rect x="412.8" y="375.5" width="1" height="1" fill="rgb(60,60,60)"/>
<rect x="419.0" y="372.3" width="1" height="1" fill="rgb(127,127,127)"/>
<rect x="416.7" y="375.2" width="1" height="1" fill="rgb(75,75,75)"/>
<rect x="409.5" y="377.9" width="1" height="1" fill="rgb(88,88,88)"/>
<rect x="406.4" y="380.8" width="1" height="1" fill="rgb(106,106,106)"/>
<rect x="420.8" y="367.1" width="1" height="1" fill="rgb(159,159,159)"/>
<rect x="393.9" y="380.6" width="1" height="1" fill="rgb(140,140,140)"/>
<rect x="407.2" y="382.5" width="1" height="1" fill="rgb(110,110,110)"/>
<rect x="405.0" y="380.3" width="1" height="1" fill="rgb(94,94,94)"/>
<rect x="405.3" y="380.3" width="1" height="1" fill="rgb(93,93,93)"/>
<rect x="422.7" y="374.5" width="1" height="1" fill="rgb(113,113,113)"/>
<rect x="400.3" y="378.0" width="1" height="1" fill="rgb(99,99,99)"/>
<rect x="410.3" y="377.6" width="1" height="1" fill="rgb(62,62,62)"/>
<rect x="407.1" y="380.7" width="1" height="1" fill="rgb(87,87,87)"/>
<rect x="408.2" y="372.3" width="1" height="1" fill="rgb(77,77,77)"/>
<rect x="395.3" y="385.5" width="1" height="1" fill="rgb(142,142,142)"/>
<rect x="392.9" y="375.8" width="1" height="1" fill="rgb(155,155,155)"/>
<rect x="403.2" y="375.9" width="1" height="1" fill="rgb(81,81,81)"/>
<rect x="401.1" y="375.5" width="1" height="1" fill="rgb(99,99,99)"/>
<rect x="400.7" y="378.7" width="1" height="1" fill="rgb(113,113,113)"/>
<rect x="412.4" y="375.8" width="1" height="1" fill="rgb(56,56,56)"/>
<rect x="409.4" y="382.6" width="1" height="1" fill="rgb(124,124,124)"/>
<rect x="413.1" y="372.3" width="1" height="1" fill="rgb(83,83,83)"/>
<rect x="407.6" y="375.3" width="1" height="1" fill="rgb(88,88,88)"/>
<rect x="411.7" y="372.7" width="1" height="1" fill="rgb(79,79,79)"/>
<rect x="413.1" y="369.3" width="1" height="1" fill="rgb(133,133,133)"/>
<rect x="421.2" y="374.9" width="1" height="1" fill="rgb(103,103,103)"/>
<rect x="402.1" y="375.0" width="1" height="1" fill="rgb(123,123,123)"/>
<rect x="408.2" y="375.9" width="1" height="1" fill="rgb(76,76,76)"/>
<rect x="408.2" y="371.7" width="1" height="1" fill="rgb(84,84,84)"/>
<rect x="407.7" y="372.9" width="1" height="1" fill="rgb(102,102,102)"/>
<rect x="424.9" y="370.9" width="1" height="1" fill="rgb(128,128,128)"/>
<rect x="409.8" y="372.2" width="1" height="1" fill="rgb(107,107,107)"/>
<rect x="404.5" y="380.3" width="1" height="1" fill="rgb(93,93,93)"/>
<rect x="414.5" y="376.9" width="1" height="1" fill="rgb(97,97,97)"/>
<rect x="412.7" y="376.0" width="1" height="1" fill="rgb(84,84,84)"/>
<rect x="403.7" y="373.8" width="1" height="1" fill="rgb(86,86,86)"/>
<rect x="414.4" y="376.9" width="1" height="1" fill="rgb(106,106,106)"/>
<rect x="393.6" y="377.7" width="1" height="1" fill="rgb(136,136,136)"/>
<rect x="402.3" y="380.5" width="1" height="1" fill="rgb(118,118,118)"/>
<rect x="421.0" y="378.0" width="1" height="1" fill="rgb(137,137,137)"/>
<rect x="416.9" y="374.8" width="1" height="1" fill="rgb(89,89,89)"/>
<rect x="399.9" y="371.5" width="1" height="1" fill="rgb(150,150,150)"/>
<rect x="405.8" y="373.9" width="1" height="1" fill="rgb(104,104,104)"/>
<rect x="419.5" y="377.0" width="1" height="1" fill="rgb(106,106,106)"/>
<rect x="404.9" y="376.2" width="1" height="1" fill="rgb(70,70,70)"/>
<rect x="413.5" y="377.9" width="1" height="1" fill="rgb(93,93,93)"/>
<rect x="402.2" y="377.8" width="1" height="1" fill="rgb(95,95,95)"/>
<rect x="412.2" y="372.5" width="1" height="1" fill="rgb(93,93,93)"/>
<rect x="389.8" y="383.0" width="1" height="1" fill="rgb(166,166,166)"/>
<rect x="407.0" y="374.4" width="1" height="1" fill="rgb(69,69,69)"/>
<rect x="406.9" y="372.2" width="1" height="1" fill="rgb(95,95,95)"/>
<rect x="422.2" y="375.2" width="1" height="1" fill="rgb(125,125,125)"/>
<rect x="406.7" y="373.2" width="1" height="1" fill="rgb(100,100,100)"/>
<rect x="390.3" y="378.0" width="1" height="1" fill="rgb(188,188,188)"/>
<rect x="401.7" y="379.5" width="1" height="1" fill="rgb(87,87,87)"/>
<rect x="408.9" y="374.6" width="1" height="1" fill="rgb(59,59,59)"/>
<rect x="410.2" y="375.2" width="1" height="1" fill="rgb(68,68,68)"/>
<rect x="400.6" y="376.8" width="1" height="1" fill="rgb(96,96,96)"/>
<rect x="421.4" y="380.0" width="1" height="1" fill="rgb(169,169,169)"/>
<rect x="410.0" y="374.4" width="1" height="1" fill="rgb(80,80,80)"/>
<rect x="410.9" y="378.1" width="1" height="1" fill="rgb(79,79,79)"/>
<rect x="406.2" y="375.9" width="1" height="1" fill="rgb(82,82,82)"/>
<rect x="395.0" y="376.4" width="1" height="1" fill="rgb(163,163,163)"/>
<rect x="405.9" y="374.0" width="1" height="1" fill="rgb(110,110,110)"/>
<rect x="407.4" y="373.8" width="1" height="1" fill="rgb(100,100,100)"/>
<rect x="407.7" y="373.8" width="1" height="1" fill="rgb(71,71,71)"/>
<rect x="418.2" y="374.2" width="1" height="1" fill="rgb(92,92,92)"/>
<rect x="408.6" y="379.1" width="1" height="1" fill="rgb(65,65,65)"/>
<rect x="403.7" y="378.1" width="1" height="1" fill="rgb(73,73,73)"/>
<rect x="409.0" y="380.6" width="1" height="1" fill="rgb(118,118,118)"/>
<rect x="418.5" y="379.7" width="1" height="1" fill="rgb(152,152,152)"/>
<rect x="401.6" y="375.5" width="1" height="1" fill="rgb(114,114,114)"/>
<rect x="398.8" y="378.1" width="1" height="1" fill="rgb(132,132,132)"/>
<rect x="409.4" y="373.4" width="1" height="1" fill="rgb(62,62,62)"/>
<rect x="415.2" y="373.2" width="1" height="1" fill="rgb(103,103,103)"/>
<rect x="411.2" y="379.6" width="1" height="1" fill="rgb(91,91,91)"/>
<rect x="404.8" y="368.8" width="1" height="1" fill="rgb(155,155,155)"/>
<rect x="402.9" y="376.7" width="1" height="1" fill="rgb(77,77,77)"/>
<rect x="412.4" y="374.8" width="1" height="1" fill="rgb(89,89,89)"/>
<rect x="407.5" y="375.5" width="1" height="1" fill="rgb(82,82,82)"/>
<rect x="417.4" y="376.7" width="1" height="1" fill="rgb(88,88,88)"/>
<rect x="415.3" y="374.2" width="1" height="1" fill="rgb(102,102,102)"/>
<rect x="419.6" y="375.3" width="1" height="1" fill="rgb(94,94,94)"/>
<rect x="418.6" y="374.4" width="1" height="1" fill="rgb(127,127,127)"/>
<rect x="402.0" y="371.7" width="1" height="1" fill="rgb(148,148,148)"/>
<rect x="406.4" y="376.8" width="1" height="1" fill="rgb(66,66,66)"/>
<rect x="413.9" y="379.0" width="1" height="1" fill="rgb(95,95,95)"/>
<rect x="404.6" y="377.6" width="1" height="1" fill="rgb(86,86,86)"/>
<rect x="402.7" y="380.2" width="1" height="1" fill="rgb(80,80,80)"/>
<rect x="400.3" y="379.1" width="1" height="1" fill="rgb(126,126,126)"/>
<rect x="405.6" y="376.5" width="1" height="1" fill="rgb(62,62,62)"/>
<rect x="404.9" y="382.3" width="1" height="1" fill="rgb(137,137,137)"/>
<rect x="426.2" y="370.0" width="1" height="1" fill="rgb(176,176,176)"/>
<rect x="418.0" y="367.1" width="1" height="1" fill="rgb(131,131,131)"/>
<rect x="399.9" y="379.2" width="1" height="1" fill="rgb(116,116,116)"/>
<rect x="401.0" y="375.3" width="1" height="1" fill="rgb(129,129,129)"/>
<rect x="417.3" y="376.2" width="1" height="1" fill="rgb(122,122,122)"/>
<rect x="412.8" y="375.6" width="1" height="1" fill="rgb(86,86,86)"/>
<rect x="410.8" y="375.6" width="1" height="1" fill="rgb(36,36,36)"/>
<rect x="413.2" y="370.2" width="1" height="1" fill="rgb(117,117,117)"/>
<rect x="398.0" y="376.5" width="1" height="1" fill="rgb(137,137,137)"/>
<rect x="412.0" y="375.4" width="1" height="1" fill="rgb(77,77,77)"/>
<rect x="422.3" y="371.4" width="1" height="1" fill="rgb(128,128,128)"/>
<rect x="406.7" y="379.8" width="1" height="1" fill="rgb(67,67,67)"/>
<rect x="409.3" y="373.4" width="1" height="1" fill="rgb(86,86,86)"/>
<rect x="402.8" y="377.5" width="1" height="1" fill="rgb(96,96,96)"/>
<rect x="404.5" y="378.3" width="1" height="1" fill="rgb(97,97,97)"/>
<rect x="411.6" y="377.4" width="1" height="1" fill="rgb(62,62,62)"/>
<rect x="397.2" y="380.5" width="1" height="1" fill="rgb(118,118,118)"/>
<rect x="411.5" y="380.9" width="1" height="1" fill="rgb(102,102,102)"/>
<rect x="403.8" y="377.4" width="1" height="1" fill="rgb(98,98,98)"/>
<rect x="412.0" y="377.8" width="1" height="1" fill="rgb(71,71,71)"/>
<rect x="405.2" y="382.5" width="1" height="1" fill="rgb(127,127,127)"/>
<rect x="410.4" y="371.5" width="1" height="1" fill="rgb(84,84,84)"/>
<rect x="409.0" y="373.6" width="1" height="1" fill="rgb(68,68,68)"/>
<rect x="392.3" y="386.7" width="1" height="1" fill="rgb(177,177,177)"/>
<rect x="401.3" y="384.8" width="1" height="1" fill="rgb(168,168,168)"/>
<rect x="406.7" y="378.2" width="1" height="1" fill="rgb(84,84,84)"/>
<rect x="409.7" y="372.8" width="1" height="1" fill="rgb(101,101,101)"/>
<rect x="405.6" y="379.3" width="1" height="1" fill="rgb(88,88,88)"/>
<rect x="407.8" y="372.5" width="1" height="1" fill="rgb(112,112,112)"/>
<rect x="417.7" y="374.2" width="1" height="1" fill="rgb(95,95,95)"/>
<rect x="424.6" y="375.0" width="1" height="1" fill="rgb(131,131,131)"/>
<rect x="415.2" y="381.7" width="1" height="1" fill="rgb(160,160,160)"/>
<rect x="414.8" y="373.2" width="1" height="1" fill="rgb(108,108,108)"/>
<rect x="417.6" y="378.3" width="1" height="1" fill="rgb(138,138,138)"/>
<rect x="411.1" y="377.5" width="1" height="1" fill="rgb(79,79,79)"/>
<rect x="416.7" y="370.1" width="1" height="1" fill="rgb(140,140,140)"/>
<rect x="403.0" y="379.0" width="1" height="1" fill="rgb(73,73,73)"/>
<rect x="409.1" y="384.8" width="1" height="1" fill="rgb(134,134,134)"/>
<rect x="412.7" y="378.3" width="1" height="1" fill="rgb(68,68,68)"/>
<rect x="408.3" y="378.7" width="1" height="1" fill="rgb(59,59,59)"/>
<rect x="400.4" y="378.0" width="1" height="1" fill="rgb(106,106,106)"/>
<rect x="408.8" y="371.9" width="1" height="1" fill="rgb(122,122,122)"/>
<rect x="414.0" y="376.1" width="1" height="1" fill="rgb(60,60,60)"/>
<rect x="406.4" y="382.8" width="1" height="1" fill="rgb(142,142,142)"/>
<rect x="405.1" y="377.4" width="1" height="1" fill="rgb(66,66,66)"/>
<rect x="403.6" y="376.6" width="1" height="1" fill="rgb(98,98,98)"/>
<rect x="416.9" y="373.3" width="1" height="1" fill="rgb(102,102,102)"/>
<rect x="412.9" y="371.8" width="1" height="1" fill="rgb(83,83,83)"/>
<rect x="426.8" y="367.7" width="1" height="1" fill="rgb(150,150,150)"/>
<rect x="408.9" y="372.6" width="1" height="1" fill="rgb(72,72,72)"/>
<rect x="412.1" y="377.3" width="1" height="1" fill="rgb(85,85,85)"/>
<rect x="409.8" y="376.8" width="1" height="1" fill="rgb(43,43,43)"/>
<rect x="410.8" y="371.7" width="1" height="1" fill="rgb(107,107,107)"/>
<rect x="405.0" y="377.9" width="1" height="1" fill="rgb(54,54,54)"/>
<rect x="408.9" y="377.3" width="1" height="1" fill="rgb(49,49,49)"/>
<rect x="403.7" y="375.4" width="1" height="1" fill="rgb(89,89,89)"/>
<rect x="404.3" y="375.4" width="1" height="1" fill="rgb(80,80,80)"/>
<rect x="415.4" y="371.2" width="1" height="1" fill="rgb(103,103,103)"/>
<rect x="401.4" y="377.5" width="1" height="1" fill="rgb(89,89,89)"/>
<rect x="413.4" y="373.7" width="1" height="1" fill="rgb(99,99,99)"/>
<rect x="416.6" y="368.1" width="1" height="1" fill="rgb(125,125,125)"/>
<rect x="388.6" y="381.5" width="1" height="1" fill="rgb(167,167,167)"/>
<rect x="416.1" y="379.4" width="1" height="1" fill="rgb(107,107,107)"/>
<rect x="405.4" y="376.2" width="1" height="1" fill="rgb(93,93,93)"/>
<rect x="409.0" y="377.9" width="1" height="1" fill="rgb(76,76,76)"/>
<rect x="405.1" y="381.2" width="1" height="1" fill="rgb(104,104,104)"/>
<rect x="416.3" y="372.1" width="1" height="1" fill="rgb(96,96,96)"/>
<rect x="417.6" y="373.9" width="1" height="1" fill="rgb(89,89,89)"/>
<rect x="399.7" y="376.6" width="1" height="1" fill="rgb(109,109,109)"/>
<rect x="417.0" y="376.3" width="1" height="1" fill="rgb(99,99,99)"/>
<rect x="395.4" y="372.7" width="1" height="1" fill="rgb(156,156,156)"/>
<rect x="406.6" y="377.5" width="1" height="1" fill="rgb(79,79,79)"/>
<rect x="412.4" y="382.1" width="1" height="1" fill="rgb(145,145,145)"/>
<rect x="410.9" y="383.6" width="1" height="1" fill="rgb(144,144,144)"/>
<rect x="401.8" y="380.4" width="1" height="1" fill="rgb(124,124,124)"/>
<rect x="401.2" y="378.8" width="1" height="1" fill="rgb(89,89,89)"/>
<rect x="412.9" y="371.5" width="1" height="1" fill="rgb(93,93,93)"/>
<rect x="411.6" y="377.9" width="1" height="1" fill="rgb(93,93,93)"/>
<rect x="413.3" y="365.5" width="1" height="1" fill="rgb(191,191,191)"/>
<rect x="402.7" y="372.1" width="1" height="1" fill="rgb(137,137,137)"/>
<rect x="412.4" y="369.2" width="1" height="1" fill="rgb(113,113,113)"/>
<rect x="410.9" y="372.9" width="1" height="1" fill="rgb(74,74,74)"/>
<rect x="410.5" y="375.5" width="1" height="1" fill="rgb(57,57,57)"/>
<rect x="403.8" y="383.2" width="1" height="1" fill="rgb(132,132,132)"/>
<rect x="422.1" y="368.0" width="1" height="1" fill="rgb(158,158,158)"/>
<rect x="419.6" y="375.4" width="1" height="1" fill="rgb(96,96,96)"/>
<rect x="423.4" y="371.3" width="1" height="1" fill="rgb(130,130,130)"/>
<rect x="415.0" y="379.7" width="1" height="1" fill="rgb(128,128,128)"/>
<rect x="419.1" y="372.9" width="1" height="1" fill="rgb(93,93,93)"/>
<rect x="408.6" y="375.1" width="1" height="1" fill="rgb(79,79,79)"/>
<rect x="409.1" y="369.9" width="1" height="1" fill="rgb(143,143,143)"/>
<rect x="392.9" y="377.2" width="1" height="1" fill="rgb(161,161,161)"/>
<rect x="402.3" y="378.4" width="1" height="1" fill="rgb(85,85,85)"/>
<rect x="413.6" y="375.3" width="1" height="1" fill="rgb(87,87,87)"/>
<rect x="412.1" y="380.7" width="1" height="1" fill="rgb(125,125,125)"/>
<rect x="405.3" y="373.2" width="1" height="1" fill="rgb(93,93,93)"/>
<rect x="409.3" y="378.5" width="1" height="1" fill="rgb(83,83,83)"/>
<rect x="400.6" y="370.7" width="1" height="1" fill="rgb(147,147,147)"/>
<rect x="422.4" y="368.9" width="1" height="1" fill="rgb(137,137,137)"/>
<rect x="418.3" y="372.1" width="1" height="1" fill="rgb(130,130,130)"/>
<rect x="409.4" y="372.9" width="1" height="1" fill="rgb(78,78,78)"/>
<rect x="401.0" y="378.0" width="1" height="1" fill="rgb(78,78,78)"/>
<rect x="414.1" y="371.4" width="1" height="1" fill="rgb(102,102,102)"/>
<rect x="408.4" y="373.7" width="1" height="1" fill="rgb(68,68,68)"/>
<rect x="404.3" y="376.3" width="1" height="1" fill="rgb(73,73,73)"/>
<rect x="411.5" y="376.1" width="1" height="1" fill="rgb(55,55,55)"/>
<rect x="391.8" y="379.7" width="1" height="1" fill="rgb(163,163,163)"/>
<rect x="403.6" y="379.8" width="1" height="1" fill="rgb(81,81,81)"/>
<rect x="392.0" y="382.7" width="1" height="1" fill="rgb(144,144,144)"/>
<rect x="400.0" y="381.1" width="1" height="1" fill="rgb(127,127,127)"/>
<rect x="399.3" y="377.3" width="1" height="1" fill="rgb(131,131,131)"/>
<rect x="413.3" y="373.5" width="1" height="1" fill="rgb(83,83,83)"/>
<rect x="418.0" y="373.6" width="1" height="1" fill="rgb(88,88,88)"/>
<rect x="409.2" y="375.0" width="1" height="1" fill="rgb(47,47,47)"/>
<rect x="403.7" y="376.9" width="1" height="1" fill="rgb(93,93,93)"/>
<rect x="407.6" y="373.5" width="1" height="1" fill="rgb(98,98,98)"/>
<rect x="401.4" y="373.9" width="1" height="1" fill="rgb(115,115,115)"/>
<rect x="406.4" y="377.7" width="1" height="1" fill="rgb(67,67,67)"/>
<rect x="423.0" y="370.1" width="1" height="1" fill="rgb(121,121,121)"/>
<rect x="414.7" y="375.9" width="1" height="1" fill="rgb(91,91,91)"/>
<rect x="406.1" y="377.9" width="1" height="1" fill="rgb(67,67,67)"/>
<rect x="398.1" y="376.8" width="1" height="1" fill="rgb(117,117,117)"/>
<rect x="401.8" y="373.9" width="1" height="1" fill="rgb(120,120,120)"/>
<rect x="420.5" y="374.6" width="1" height="1" fill="rgb(101,101,101)"/>
<rect x="417.3" y="375.3" width="1" height="1" fill="rgb(76,76,76)"/>
<rect x="416.1" y="375.9" width="1" height="1" fill="rgb(90,90,90)"/>
<rect x="424.7" y="377.4" width="1" height="1" fill="rgb(174,174,174)"/>
<rect x="400.0" y="379.3" width="1" height="1" fill="rgb(99,99,99)"/>
<rect x="412.8" y="375.0" width="1" height="1" fill="rgb(61,61,61)"/>
<rect x="413.8" y="382.1" width="1" height="1" fill="rgb(138,138,138)"/>
<rect x="403.7" y="379.8" width="1" height="1" fill="rgb(110,110,110)"/>
<rect x="410.4" y="382.3" width="1" height="1" fill="rgb(136,136,136)"/>
<rect x="403.2" y="379.1" width="1" height="1" fill="rgb(87,87,87)"/>
<rect x="403.6" y="378.8" width="1" height="1" fill="rgb(92,92,92)"/>
<rect x="404.6" y="379.2" width="1" height="1" fill="rgb(98,98,98)"/>
<rect x="401.9" y="379.5" width="1" height="1" fill="rgb(115,115,115)"/>
<rect x="402.9" y="379.0" width="1" height="1" fill="rgb(109,109,109)"/>
<rect x="421.4" y="371.8" width="1" height="1" fill="rgb(122,122,122)"/>
<rect x="402.3" y="372.9" width="1" height="1" fill="rgb(112,112,112)"/>
<rect x="404.1" y="368.9" width="1" height="1" fill="rgb(164,164,164)"/>
<rect x="404.7" y="374.1" width="1" height="1" fill="rgb(102,102,102)"/>
<rect x="412.8" y="381.4" width="1" height="1" fill="rgb(126,126,126)"/>
<rect x="415.6" y="374.0" width="1" height="1" fill="rgb(98,98,98)"/>
<rect x="416.7" y="374.5" width="1" height="1" fill="rgb(106,106,106)"/>
<rect x="410.0" y="381.0" width="1" height="1" fill="rgb(96,96,96)"/>
<rect x="393.0" y="387.8" width="1" height="1" fill="rgb(177,177,177)"/>
<rect x="411.3" y="375.0" width="1" height="1" fill="rgb(67,67,67)"/>
<rect x="413.5" y="368.7" width="1" height="1" fill="rgb(128,128,128)"/>
<rect x="399.0" y="376.1" width="1" height="1" fill="rgb(130,130,130)"/>
<rect x="407.8" y="371.8" width="1" height="1" fill="rgb(95,95,95)"/>
<rect x="405.6" y="372.8" width="1" height="1" fill="rgb(107,107,107)"/>
<rect x="413.1" y="375.0" width="1" height="1" fill="rgb(84,84,84)"/>
<rect x="405.5" y="382.5" width="1" height="1" fill="rgb(140,140,140)"/>
<rect x="409.1" y="380.9" width="1" height="1" fill="rgb(107,107,107)"/>
<rect x="405.0" y="377.5" width="1" height="1" fill="rgb(80,80,80)"/>
<rect x="416.6" y="370.8" width="1" height="1" fill="rgb(104,104,104)"/>
<rect x="410.9" y="372.2" width="1" height="1" fill="rgb(78,78,78)"/>
<rect x="402.4" y="375.7" width="1" height="1" fill="rgb(98,98,98)"/>
<rect x="418.5" y="373.3" width="1" height="1" fill="rgb(126,126,126)"/>
<rect x="403.4" y="382.8" width="1" height="1" fill="rgb(104,104,104)"/>
<rect x="407.3" y="382.1" width="1" height="1" fill="rgb(125,125,125)"/>
<rect x="411.8" y="372.4" width="1" height="1" fill="rgb(81,81,81)"/>
<rect x="404.7" y="381.0" width="1" height="1" fill="rgb(81,81,81)"/>
<rect x="403.0" y="381.8" width="1" height="1" fill="rgb(97,97,97)"/>
<rect x="405.7" y="384.1" width="1" height="1" fill="rgb(158,158,158)"/>
<rect x="409.9" y="378.3" width="1" height="1" fill="rgb(58,58,58)"/>
<rect x="421.0" y="376.2" width="1" height="1" fill="rgb(138,138,138)"/>
<rect x="409.7" y="380.3" width="1" height="1" fill="rgb(108,108,108)"/>
<rect x="422.6" y="373.6" width="1" height="1" fill="rgb(146,146,146)"/>
<rect x="413.4" y="380.5" width="1" height="1" fill="rgb(126,126,126)"/>
<rect x="403.4" y="384.3" width="1" height="1" fill="rgb(127,127,127)"/>
<rect x="403.3" y="378.4" width="1" height="1" fill="rgb(83,83,83)"/>
<rect x="411.7" y="371.1" width="1" height="1" fill="rgb(110,110,110)"/>
<rect x="414.3" y="374.6" width="1" height="1" fill="rgb(67,67,67)"/>
<rect x="406.0" y="375.7" width="1" height="1" fill="rgb(94,94,94)"/>
<rect x="406.0" y="380.4" width="1" height="1" fill="rgb(92,92,92)"/>
<rect x="414.8" y="367.5" width="1" height="1" fill="rgb(155,155,155)"/>
<rect x="413.3" y="378.1" width="1" height="1" fill="rgb(98,98,98)"/>
<rect x="414.4" y="382.1" width="1" height="1" fill="rgb(157,157,157)"/>
<rect x="411.2" y="379.1" width="1" height="1" fill="rgb(78,78,78)"/>
<rect x="408.6" y="375.3" width="1" height="1" fill="rgb(70,70,70)"/>
<rect x="422.6" y="375.1" width="1" height="1" fill="rgb(135,135,135)"/>
<rect x="406.3" y="376.2" width="1" height="1" fill="rgb(47,47,47)"/>
<rect x="399.1" y="387.5" width="1" height="1" fill="rgb(182,182,182)"/>
<rect x="410.7" y="374.8" width="1" height="1" fill="rgb(45,45,45)"/>
<rect x="420.4" y="373.8" width="1" height="1" fill="rgb(102,102,102)"/>
<rect x="409.2" y="381.6" width="1" height="1" fill="rgb(123,123,123)"/>
<rect x="406.8" y="380.6" width="1" height="1" fill="rgb(88,88,88)"/>
<rect x="402.8" y="376.8" width="1" height="1" fill="rgb(83,83,83)"/>
<rect x="410.1" y="379.0" width="1" height="1" fill="rgb(74,74,74)"/>
<rect x="415.5" y="374.7" width="1" height="1" fill="rgb(90,90,90)"/>
<rect x="409.4" y="378.0" width="1" height="1" fill="rgb(85,85,85)"/>
<rect x="401.2" y="379.4" width="1" height="1" fill="rgb(92,92,92)"/>
<rect x="417.3" y="369.9" width="1" height="1" fill="rgb(128,128,128)"/>
<rect x="402.2" y="373.5" width="1" height="1" fill="rgb(116,116,116)"/>
<rect x="403.8" y="379.7" width="1" height="1" fill="rgb(92,92,92)"/>
<rect x="401.0" y="379.5" width="1" height="1" fill="rgb(104,104,104)"/>
<rect x="410.9" y="368.3" width="1" height="1" fill="rgb(130,130,130)"/>
<rect x="415.4" y="374.9" width="1" height="1" fill="rgb(64,64,64)"/>
<rect x="410.9" y="370.9" width="1" height="1" fill="rgb(100,100,100)"/>
<rect x="416.3" y="381.0" width="1" height="1" fill="rgb(153,153,153)"/>
<rect x="403.5" y="372.7" width="1" height="1" fill="rgb(127,127,127)"/>
<rect x="402.7" y="379.1" width="1" height="1" fill="rgb(95,95,95)"/>
<rect x="423.3" y="364.5" width="1" height="1" fill="rgb(204,204,204)"/>
<rect x="410.4" y="374.7" width="1" height="1" fill="rgb(53,53,53)"/>
<rect x="417.8" y="372.9" width="1" height="1" fill="rgb(104,104,104)"/>
<rect x="405.9" y="383.9" width="1" height="1" fill="rgb(137,137,137)"/>
<rect x="412.1" y="375.3" width="1" height="1" fill="rgb(87,87,87)"/>
<rect x="413.4" y="375.2" width="1" height="1" fill="rgb(68,68,68)"/>
<rect x="406.7" y="375.6" width="1" height="1" fill="rgb(72,72,72)"/>
<rect x="416.0" y="372.8" width="1" height="1" fill="rgb(107,107,107)"/>
<rect x="400.7" y="376.0" width="1" height="1" fill="rgb(92,92,92)"/>
<rect x="394.9" y="382.1" width="1" height="1" fill="rgb(151,151,151)"/>
<rect x="411.9" y="379.3" width="1" height="1" fill="rgb(98,98,98)"/>
<rect x="405.5" y="381.4" width="1" height="1" fill="rgb(112,112,112)"/>
<rect x="414.4" y="375.0" width="1" height="1" fill="rgb(86,86,86)"/>
<rect x="410.3" y="377.3" width="1" height="1" fill="rgb(76,76,76)"/>
<rect x="402.4" y="386.1" width="1" height="1" fill="rgb(163,163,163)"/>
<rect x="418.3" y="376.7" width="1" height="1" fill="rgb(100,100,100)"/>
<rect x="412.4" y="369.9" width="1" height="1" fill="rgb(131,131,131)"/>
<rect x="411.1" y="376.0" width="1" height="1" fill="rgb(72,72,72)"/>
<rect x="412.8" y="377.1" width="1" height="1" fill="rgb(56,56,56)"/>
<rect x="414.4" y="378.3" width="1" height="1" fill="rgb(119,119,119)"/>
<rect x="407.6" y="379.2" width="1" height="1" fill="rgb(97,97,97)"/>
<rect x="414.6" y="379.4" width="1" height="1" fill="rgb(116,116,116)"/>
<rect x="411.1" y="375.2" width="1" height="1" fill="rgb(63,63,63)"/>
<rect x="400.7" y="383.2" width="1" height="1" fill="rgb(120,120,120)"/>
<rect x="407.7" y="374.4" width="1" height="1" fill="rgb(76,76,76)"/>
<rect x="414.3" y="374.2" width="1" height="1" fill="rgb(70,70,70)"/>
<rect x="417.8" y="371.0" width="1" height="1" fill="rgb(95,95,95)"/>
<rect x="412.0" y="377.9" width="1" height="1" fill="rgb(71,71,71)"/>
<rect x="414.2" y="370.1" width="1" height="1" fill="rgb(138,138,138)"/>
<rect x="403.3" y="373.4" width="1" height="1" fill="rgb(105,105,105)"/>
<rect x="406.5" y="372.8" width="1" height="1" fill="rgb(80,80,80)"/>
<rect x="402.4" y="378.4" width="1" height="1" fill="rgb(93,93,93)"/>
<rect x="411.0" y="376.0" width="1" height="1" fill="rgb(79,79,79)"/>
<rect x="405.5" y="379.6" width="1" height="1" fill="rgb(71,71,71)"/>
<rect x="394.9" y="375.9" width="1" height="1" fill="rgb(132,132,132)"/>
<rect x="400.9" y="378.6" width="1" height="1" fill="rgb(112,112,112)"/>
<rect x="404.2" y="376.6" width="1" height="1" fill="rgb(66,66,66)"/>
<rect x="408.5" y="375.0" width="1" height="1" fill="rgb(82,82,82)"/>
<rect x="413.9" y="375.4" width="1" height="1" fill="rgb(75,75,75)"/>
<rect x="413.7" y="370.7" width="1" height="1" fill="rgb(121,121,121)"/>
<rect x="408.5" y="370.6" width="1" height="1" fill="rgb(99,99,99)"/>
<rect x="410.6" y="374.0" width="1" height="1" fill="rgb(57,57,57)"/>
<rect x="411.0" y="375.9" width="1" height="1" fill="rgb(75,75,75)"/>
<rect x="407.4" y="377.8" width="1" height="1" fill="rgb(46,46,46)"/>
<rect x="413.7" y="370.9" width="1" height="1" fill="rgb(127,127,127)"/>
<rect x="412.8" y="375.6" width="1" height="1" fill="rgb(59,59,59)"/>
<rect x="411.0" y="377.4" width="1" height="1" fill="rgb(55,55,55)"/>
<rect x="406.1" y="375.4" width="1" height="1" fill="rgb(59,59,59)"/>
<rect x="402.4" y="377.4" width="1" height="1" fill="rgb(75,75,75)"/>
<rect x="401.1" y="376.7" width="1" height="1" fill="rgb(96,96,96)"/>
<rect x="407.3" y="376.9" width="1" height="1" fill="rgb(65,65,65)"/>
<rect x="412.4" y="378.4" width="1" height="1" fill="rgb(66,66,66)"/>
<rect x="415.7" y="371.2" width="1" height="1" fill="rgb(102,102,102)"/>
<rect x="392.4" y="378.8" width="1" height="1" fill="rgb(137,137,137)"/>
<rect x="402.0" y="382.1" width="1" height="1" fill="rgb(112,112,112)"/>
<rect x="403.1" y="370.3" width="1" height="1" fill="rgb(125,125,125)"/>
<rect x="408.8" y="379.3" width="1" height="1" fill="rgb(96,96,96)"/>
<rect x="410.2" y="370.4" width="1" height="1" fill="rgb(136,136,136)"/>
<rect x="413.0" y="378.5" width="1" height="1" fill="rgb(108,108,108)"/>
<rect x="409.2" y="374.5" width="1" height="1" fill="rgb(91,91,91)"/>
<rect x="406.5" y="369.7" width="1" height="1" fill="rgb(131,131,131)"/>
<rect x="393.6" y="375.0" width="1" height="1" fill="rgb(179,179,179)"/>
<rect x="395.1" y="376.7" width="1" height="1" fill="rgb(164,164,164)"/>
<rect x="413.6" y="370.5" width="1" height="1" fill="rgb(133,133,133)"/>
<rect x="414.5" y="377.6" width="1" height="1" fill="rgb(96,96,96)"/>
<rect x="418.9" y="378.1" width="1" height="1" fill="rgb(106,106,106)"/>
<rect x="404.8" y="375.4" width="1" height="1" fill="rgb(75,75,75)"/>
<rect x="405.3" y="375.9" width="1" height="1" fill="rgb(74,74,74)"/>
<rect x="420.1" y="364.7" width="1" height="1" fill="rgb(169,169,169)"/>
<rect x="403.1" y="382.2" width="1" height="1" fill="rgb(102,102,102)"/>
<rect x="411.5" y="373.6" width="1" height="1" fill="rgb(80,80,80)"/>
<rect x="409.2" y="376.4" width="1" height="1" fill="rgb(27,27,27)"/>
<rect x="415.7" y="374.4" width="1" height="1" fill="rgb(77,77,77)"/>
<rect x="419.3" y="373.0" width="1" height="1" fill="rgb(92,92,92)"/>
<rect x="407.5" y="374.1" width="1" height="1" fill="rgb(79,79,79)"/>
<rect x="405.0" y="370.4" width="1" height="1" fill="rgb(155,155,155)"/>
<rect x="404.2" y="379.2" width="1" height="1" fill="rgb(82,82,82)"/>
<rect x="406.3" y="382.6" width="1" height="1" fill="rgb(119,119,119)"/>
<rect x="407.2" y="374.9" width="1" height="1" fill="rgb(86,86,86)"/>
<rect x="413.9" y="374.4" width="1" height="1" fill="rgb(83,83,83)"/>
<rect x="410.5" y="376.7" width="1" height="1" fill="rgb(55,55,55)"/>
<rect x="415.4" y="379.8" width="1" height="1" fill="rgb(123,123,123)"/>
<rect x="398.5" y="370.8" width="1" height="1" fill="rgb(145,145,145)"/>
<rect x="411.0" y="376.3" width="1" height="1" fill="rgb(57,57,57)"/>
<rect x="412.9" y="370.2" width="1" height="1" fill="rgb(117,117,117)"/>
<rect x="412.8" y="372.4" width="1" height="1" fill="rgb(73,73,73)"/>
<rect x="408.1" y="375.9" width="1" height="1" fill="rgb(45,45,45)"/>
<rect x="413.6" y="375.4" width="1" height="1" fill="rgb(54,54,54)"/>
<rect x="405.5" y="376.9" width="1" height="1" fill="rgb(75,75,75)"/>
<rect x="411.4" y="372.6" width="1" height="1" fill="rgb(71,71,71)"/>
<rect x="402.5" y="373.0" width="1" height="1" fill="rgb(137,137,137)"/>
<rect x="400.0" y="377.3" width="1" height="1" fill="rgb(123,123,123)"/>
<rect x="398.4" y="370.5" width="1" height="1" fill="rgb(160,160,160)"/>
<rect x="409.5" y="371.1" width="1" height="1" fill="rgb(109,109,109)"/>
<rect x="417.4" y="374.1" width="1" height="1" fill="rgb(88,88,88)"/>
<rect x="401.8" y="375.8" width="1" height="1" fill="rgb(101,101,101)"/>
<rect x="413.0" y="375.8" width="1" height="1" fill="rgb(76,76,76)"/>
<rect x="397.6" y="369.4" width="1" height="1" fill="rgb(198,198,198)"/>
<rect x="408.4" y="380.4" width="1" height="1" fill="rgb(97,97,97)"/>
<rect x="410.8" y="372.3" width="1" height="1" fill="rgb(111,111,111)"/>
<rect x="402.3" y="378.6" width="1" height="1" fill="rgb(91,91,91)"/>
<rect x="394.6" y="391.7" width="1" height="1" fill="rgb(206,206,206)"/>
<rect x="407.2" y="377.7" width="1" height="1" fill="rgb(73,73,73)"/>
<rect x="412.1" y="377.1" width="1" height="1" fill="rgb(69,69,69)"/>
<rect x="398.6" y="375.6" width="1" height="1" fill="rgb(121,121,121)"/>
<rect x="408.3" y="379.8" width="1" height="1" fill="rgb(108,108,108)"/>
<rect x="409.7" y="376.6" width="1" height="1" fill="rgb(71,71,71)"/>
<rect x="405.6" y="377.5" width="1" height="1" fill="rgb(55,55,55)"/>
<rect x="417.4" y="370.0" width="1" height="1" fill="rgb(102,102,102)"/>
<rect x="406.5" y="374.8" width="1" height="1" fill="rgb(76,76,76)"/>
<rect x="407.3" y="376.1" width="1" height="1" fill="rgb(81,81,81)"/>
<rect x="407.7" y="378.4" width="1" height="1" fill="rgb(85,85,85)"/>
<rect x="411.0" y="376.4" width="1" height="1" fill="rgb(66,66,66)"/>
<rect x="394.7" y="381.9" width="1" height="1" fill="rgb(157,157,157)"/>
<rect x="410.2" y="377.0" width="1" height="1" fill="rgb(65,65,65)"/>
<rect x="403.5" y="378.4" width="1" height="1" fill="rgb(104,104,104)"/>
<rect x="413.3" y="380.1" width="1" height="1" fill="rgb(92,92,92)"/>
<rect x="423.6" y="368.0" width="1" height="1" fill="rgb(162,162,162)"/>
<rect x="405.8" y="382.5" width="1" height="1" fill="rgb(137,137,137)"/>
<rect x="409.6" y="375.1" width="1" height="1" fill="rgb(60,60,60)"/>
<rect x="415.9" y="377.8" width="1" height="1" fill="rgb(124,124,124)"/>
<rect x="412.3" y="373.3" width="1" height="1" fill="rgb(83,83,83)"/>
<rect x="408.1" y="378.6" width="1" height="1" fill="rgb(85,85,85)"/>
<rect x="408.8" y="373.0" width="1" height="1" fill="rgb(84,84,84)"/>
<rect x="404.0" y="372.2" width="1" height="1" fill="rgb(118,118,118)"/>
<rect x="411.9" y="376.5" width="1" height="1" fill="rgb(52,52,52)"/>
<rect x="412.1" y="371.6" width="1" height="1" fill="rgb(106,106,106)"/>
<rect x="405.5" y="379.9" width="1" height="1" fill="rgb(76,76,76)"/>
<rect x="418.7" y="372.7" width="1" height="1" fill="rgb(92,92,92)"/>
<rect x="405.2" y="372.7" width="1" height="1" fill="rgb(113,113,113)"/>
<rect x="409.2" y="371.3" width="1" height="1" fill="rgb(126,126,126)"/>
<rect x="416.3" y="373.5" width="1" height="1" fill="rgb(100,100,100)"/>
<rect x="404.9" y="380.1" width="1" height="1" fill="rgb(87,87,87)"/>
<rect x="404.6" y="374.8" width="1" height="1" fill="rgb(82,82,82)"/>
<rect x="415.2" y="369.2" width="1" height="1" fill="rgb(136,136,136)"/>
<rect x="412.4" y="372.3" width="1" height="1" fill="rgb(98,98,98)"/>
<rect x="410.1" y="379.1" width="1" height="1" fill="rgb(68,68,68)"/>
<rect x="412.0" y="367.6" width="1" height="1" fill="rgb(140,140,140)"/>
<rect x="407.1" y="378.1" width="1" height="1" fill="rgb(53,53,53)"/>
<rect x="398.0" y="373.6" width="1" height="1" fill="rgb(123,123,123)"/>
<rect x="410.6" y="382.0" width="1" height="1" fill="rgb(111,111,111)"/>
<rect x="413.4" y="372.7" width="1" height="1" fill="rgb(88,88,88)"/>
<rect x="411.8" y="378.4" width="1" height="1" fill="rgb(81,81,81)"/>
<rect x="408.8" y="382.1" width="1" height="1" fill="rgb(99,99,99)"/>
<rect x="399.7" y="373.9" width="1" height="1" fill="rgb(120,120,120)"/>
<rect x="411.0" y="377.4" width="1" height="1" fill="rgb(51,51,51)"/>
<rect x="410.6" y="371.1" width="1" height="1" fill="rgb(86,86,86)"/>
<rect x="400.5" y="380.2" width="1" height="1" fill="rgb(100,100,100)"/>
<rect x="416.8" y="374.9" width="1" height="1" fill="rgb(87,87,87)"/>
<rect x="415.8" y="373.8" width="1" height="1" fill="rgb(109,109,109)"/>
<rect x="414.7" y="371.2" width="1" height="1" fill="rgb(89,89,89)"/>
<rect x="410.0" y="374.5" width="1" height="1" fill="rgb(69,69,69)"/>
<rect x="412.1" y="376.3" width="1" height="1" fill="rgb(63,63,63)"/>
<rect x="424.1" y="381.4" width="1" height="1" fill="rgb(190,190,190)"/>
<rect x="422.1" y="367.0" width="1" height="1" fill="rgb(171,171,171)"/>
<rect x="403.5" y="374.6" width="1" height="1" fill="rgb(110,110,110)"/>
<rect x="406.8" y="375.1" width="1" height="1" fill="rgb(75,75,75)"/>
<rect x="402.6" y="380.4" width="1" height="1" fill="rgb(111,111,111)"/>
<rect x="404.7" y="373.1" width="1" height="1" fill="rgb(118,118,118)"/>
<rect x="410.3" y="374.5" width="1" height="1" fill="rgb(51,51,51)"/>
<rect x="413.5" y="375.6" width="1" height="1" fill="rgb(94,94,94)"/>
<rect x="407.5" y="380.4" width="1" height="1" fill="rgb(94,94,94)"/>
<rect x="403.7" y="376.6" width="1" height="1" fill="rgb(96,96,96)"/>
<rect x="404.2" y="383.8" width="1" height="1" fill="rgb(148,148,148)"/>
<rect x="418.3" y="373.7" width="1" height="1" fill="rgb(85,85,85)"/>
<rect x="411.1" y="374.8" width="1" height="1" fill="rgb(54,54,54)"/>
<rect x="409.1" y="371.4" width="1" height="1" fill="rgb(115,115,115)"/>
<rect x="402.5" y="380.4" width="1" height="1" fill="rgb(88,88,88)"/>
<rect x="404.1" y="378.3" width="1" height="1" fill="rgb(90,90,90)"/>
<rect x="412.7" y="376.5" width="1" height="1" fill="rgb(58,58,58)"/>
<rect x="399.8" y="377.9" width="1" height="1" fill="rgb(84,84,84)"/>
<rect x="422.6" y="371.8" width="1" height="1" fill="rgb(127,127,127)"/>
<rect x="418.0" y="379.4" width="1" height="1" fill="rgb(153,153,153)"/>
<rect x="416.0" y="379.8" width="1" height="1" fill="rgb(137,137,137)"/>
<rect x="413.5" y="374.0" width="1" height="1" fill="rgb(61,61,61)"/>
<rect x="412.5" y="377.5" width="1" height="1" fill="rgb(98,98,98)"/>
<rect x="415.5" y="372.2" width="1" height="1" fill="rgb(81,81,81)"/>
<rect x="406.7" y="379.1" width="1" height="1" fill="rgb(87,87,87)"/>
<rect x="405.4" y="371.1" width="1" height="1" fill="rgb(122,122,122)"/>
<rect x="401.9" y="379.4" width="1" height="1" fill="rgb(92,92,92)"/>
<rect x="399.3" y="380.6" width="1" height="1" fill="rgb(125,125,125)"/>
<rect x="406.2" y="381.3" width="1" height="1" fill="rgb(89,89,89)"/>
<rect x="416.3" y="375.2" width="1" height="1" fill="rgb(85,85,85)"/>
<rect x="412.2" y="375.7" width="1" height="1" fill="rgb(62,62,62)"/>
<rect x="421.3" y="370.3" width="1" height="1" fill="rgb(112,112,112)"/>
<rect x="407.4" y="379.9" width="1" height="1" fill="rgb(82,82,82)"/>
<rect x="416.5" y="377.8" width="1" height="1" fill="rgb(122,122,122)"/>
<rect x="406.4" y="378.6" width="1" height="1" fill="rgb(57,57,57)"/>
<rect x="421.5" y="373.3" width="1" height="1" fill="rgb(112,112,112)"/>
<rect x="405.6" y="370.9" width="1" height="1" fill="rgb(108,108,108)"/>
<rect x="412.4" y="378.3" width="1" height="1" fill="rgb(98,98,98)"/>
<rect x="408.0" y="373.5" width="1" height="1" fill="rgb(83,83,83)"/>
<rect x="405.2" y="380.6" width="1" height="1" fill="rgb(111,111,111)"/>
<rect x="410.1" y="382.6" width="1" height="1" fill="rgb(148,148,148)"/>
<rect x="393.4" y="375.3" width="1" height="1" fill="rgb(181,181,181)"/>
<rect x="422.4" y="382.3" width="1" height="1" fill="rgb(172,172,172)"/>
<rect x="410.1" y="374.2" width="1" height="1" fill="rgb(61,61,61)"/>
<rect x="397.2" y="382.1" width="1" height="1" fill="rgb(141,141,141)"/>
<rect x="415.6" y="381.8" width="1" height="1" fill="rgb(160,160,160)"/>
<rect x="407.0" y="376.8" width="1" height="1" fill="rgb(52,52,52)"/>
<rect x="408.3" y="380.1" width="1" height="1" fill="rgb(114,114,114)"/>
<rect x="397.4" y="375.8" width="1" height="1" fill="rgb(111,111,111)"/>
<rect x="411.2" y="381.6" width="1" height="1" fill="rgb(113,113,113)"/>
<rect x="410.0" y="377.3" width="1" height="1" fill="rgb(43,43,43)"/>
<rect x="402.3" y="380.6" width="1" height="1" fill="rgb(99,99,99)"/>
<rect x="403.6" y="376.6" width="1" height="1" fill="rgb(63,63,63)"/>
<rect x="405.6" y="374.3" width="1" height="1" fill="rgb(87,87,87)"/>
<rect x="405.8" y="379.2" width="1" height="1" fill="rgb(63,63,63)"/>
<rect x="408.4" y="379.4" width="1" height="1" fill="rgb(68,68,68)"/>
<rect x="417.5" y="374.6" width="1" height="1" fill="rgb(77,77,77)"/>
<rect x="413.5" y="372.6" width="1" height="1" fill="rgb(87,87,87)"/>
<rect x="407.7" y="376.5" width="1" height="1" fill="rgb(39,39,39)"/>
<rect x="410.1" y="371.4" width="1" height="1" fill="rgb(104,104,104)"/>
<rect x="404.0" y="382.8" width="1" height="1" fill="rgb(122,122,122)"/>
<rect x="411.1" y="369.0" width="1" height="1" fill="rgb(150,150,150)"/>
<rect x="406.3" y="371.7" width="1" height="1" fill="rgb(113,113,113)"/>
<rect x="399.9" y="377.9" width="1" height="1" fill="rgb(107,107,107)"/>
<rect x="413.5" y="368.5" width="1" height="1" fill="rgb(116,116,116)"/>
<rect x="408.1" y="371.5" width="1" height="1" fill="rgb(114,114,114)"/>
<rect x="411.0" y="375.1" width="1" height="1" fill="rgb(60,60,60)"/>
<rect x="398.7" y="385.5" width="1" height="1" fill="rgb(141,141,141)"/>
<rect x="405.4" y="376.5" width="1" height="1" fill="rgb(84,84,84)"/>
<rect x="397.8" y="379.9" width="1" height="1" fill="rgb(112,112,112)"/>
<rect x="409.9" y="375.8" width="1" height="1" fill="rgb(40,40,40)"/>
<rect x="405.8" y="369.8" width="1" height="1" fill="rgb(152,152,152)"/>
<rect x="409.2" y="377.7" width="1" height="1" fill="rgb(75,75,75)"/>
<rect x="408.7" y="375.1" width="1" height="1" fill="rgb(82,82,82)"/>
<rect x="407.4" y="376.6" width="1" height="1" fill="rgb(58,58,58)"/>
<rect x="407.9" y="378.0" width="1" height="1" fill="rgb(85,85,85)"/>
<rect x="412.5" y="374.5" width="1" height="1" fill="rgb(68,68,68)"/>
<rect x="409.2" y="381.6" width="1" height="1" fill="rgb(97,97,97)"/>
<rect x="406.5" y="380.2" width="1" height="1" fill="rgb(92,92,92)"/>
<rect x="401.0" y="380.5" width="1" height="1" fill="rgb(127,127,127)"/>
<rect x="422.5" y="369.1" width="1" height="1" fill="rgb(160,160,160)"/>
<rect x="410.7" y="378.5" width="1" height="1" fill="rgb(79,79,79)"/>
<rect x="402.2" y="374.3" width="1" height="1" fill="rgb(102,102,102)"/>
<rect x="415.4" y="374.3" width="1" height="1" fill="rgb(64,64,64)"/>
<rect x="413.8" y="376.3" width="1" height="1" fill="rgb(88,88,88)"/>
<rect x="410.2" y="375.1" width="1" height="1" fill="rgb(48,48,48)"/>
<rect x="411.6" y="381.9" width="1" height="1" fill="rgb(144,144,144)"/>
<rect x="409.5" y="377.8" width="1" height="1" fill="rgb(89,89,89)"/>
<rect x="420.1" y="372.1" width="1" height="1" fill="rgb(117,117,117)"/>
<rect x="407.4" y="370.5" width="1" height="1" fill="rgb(124,124,124)"/>
<rect x="409.3" y="380.6" width="1" height="1" fill="rgb(109,109,109)"/>
<rect x="406.0" y="381.8" width="1" height="1" fill="rgb(95,95,95)"/>
<rect x="414.0" y="374.4" width="1" height="1" fill="rgb(66,66,66)"/>
<rect x="425.6" y="369.3" width="1" height="1" fill="rgb(176,176,176)"/>
<rect x="415.2" y="368.6" width="1" height="1" fill="rgb(149,149,149)"/>
<rect x="406.6" y="376.4" width="1" height="1" fill="rgb(75,75,75)"/>
<rect x="414.7" y="368.7" width="1" height="1" fill="rgb(112,112,112)"/>
<rect x="420.6" y="375.2" width="1" height="1" fill="rgb(119,119,119)"/>
<rect x="424.6" y="364.9" width="1" height="1" fill="rgb(182,182,182)"/>
<rect x="403.3" y="373.1" width="1" height="1" fill="rgb(122,122,122)"/>
<rect x="403.5" y="381.7" width="1" height="1" fill="rgb(92,92,92)"/>
<rect x="417.6" y="370.4" width="1" height="1" fill="rgb(133,133,133)"/>
<rect x="404.8" y="378.1" width="1" height="1" fill="rgb(75,75,75)"/>
<rect x="404.4" y="373.4" width="1" height="1" fill="rgb(86,86,86)"/>
<rect x="416.5" y="374.2" width="1" height="1" fill="rgb(81,81,81)"/>
<rect x="410.7" y="378.3" width="1" height="1" fill="rgb(75,75,75)"/>
<rect x="402.0" y="370.7" width="1" height="1" fill="rgb(154,154,154)"/>
<rect x="423.7" y="373.0" width="1" height="1" fill="rgb(142,142,142)"/>
<rect x="406.9" y="371.9" width="1" height="1" fill="rgb(103,103,103)"/>
<rect x="408.2" y="377.7" width="1" height="1" fill="rgb(72,72,72)"/>
<rect x="419.9" y="375.0" width="1" height="1" fill="rgb(134,134,134)"/>
<rect x="403.4" y="373.6" width="1" height="1" fill="rgb(122,122,122)"/>
<rect x="421.5" y="371.0" width="1" height="1" fill="rgb(151,151,151)"/>
<rect x="408.2" y="376.7" width="1" height="1" fill="rgb(60,60,60)"/>
<rect x="398.7" y="373.7" width="1" height="1" fill="rgb(142,142,142)"/>
<rect x="408.9" y="376.6" width="1" height="1" fill="rgb(66,66,66)"/>
<rect x="392.7" y="373.5" width="1" height="1" fill="rgb(182,182,182)"/>
<rect x="415.3" y="369.5" width="1" height="1" fill="rgb(147,147,147)"/>
<rect x="395.0" y="382.1" width="1" height="1" fill="rgb(138,138,138)"/>
<rect x="415.7" y="374.6" width="1" height="1" fill="rgb(80,80,80)"/>
<rect x="416.4" y="374.0" width="1" height="1" fill="rgb(82,82,82)"/>
<rect x="407.7" y="375.1" width="1" height="1" fill="rgb(59,59,59)"/>
<rect x="406.7" y="378.1" width="1" height="1" fill="rgb(75,75,75)"/>
<rect x="398.8" y="382.3" width="1" height="1" fill="rgb(121,121,121)"/>
<rect x="413.9" y="374.6" width="1" height="1" fill="rgb(78,78,78)"/>
<rect x="409.6" y="376.7" width="1" height="1" fill="rgb(46,46,46)"/>
<rect x="413.5" y="373.2" width="1" height="1" fill="rgb(84,84,84)"/>
<rect x="403.7" y="377.4" width="1" height="1" fill="rgb(84,84,84)"/>
<rect x="415.7" y="375.7" width="1" height="1" fill="rgb(79,79,79)"/>
<rect x="412.7" y="369.5" width="1" height="1" fill="rgb(133,133,133)"/>
<rect x="396.4" y="375.8" width="1" height="1" fill="rgb(148,148,148)"/>
<rect x="413.0" y="375.8" width="1" height="1" fill="rgb(82,82,82)"/>
<rect x="418.3" y="364.3" width="1" height="1" fill="rgb(195,195,195)"/>
<rect x="415.4" y="378.4" width="1" height="1" fill="rgb(111,111,111)"/>
<rect x="406.0" y="376.0" width="1" height="1" fill="rgb(92,92,92)"/>
<rect x="403.6" y="377.6" width="1" height="1" fill="rgb(104,104,104)"/>
<rect x="407.5" y="377.6" width="1" height="1" fill="rgb(72,72,72)"/>
<rect x="409.7" y="378.6" width="1" height="1" fill="rgb(70,70,70)"/>
<rect x="403.9" y="375.8" width="1" height="1" fill="rgb(94,94,94)"/>
<rect x="425.7" y="365.2" width="1" height="1" fill="rgb(202,202,202)"/>
<rect x="413.7" y="373.6" width="1" height="1" fill="rgb(96,96,96)"/>
<rect x="417.9" y="376.3" width="1" height="1" fill="rgb(87,87,87)"/>
<rect x="424.8" y="376.9" width="1" height="1" fill="rgb(140,140,140)"/>
<rect x="406.4" y="372.7" width="1" height="1" fill="rgb(80,80,80)"/>
<rect x="409.6" y="374.9" width="1" height="1" fill="rgb(80,80,80)"/>
<rect x="411.8" y="371.6" width="1" height="1" fill="rgb(97,97,97)"/>
<rect x="420.4" y="374.0" width="1" height="1" fill="rgb(96,96,96)"/>
<rect x="393.0" y="379.5" width="1" height="1" fill="rgb(158,158,158)"/>
<rect x="418.8" y="377.4" width="1" height="1" fill="rgb(128,128,128)"/>
<rect x="404.9" y="383.0" width="1" height="1" fill="rgb(128,128,128)"/>
<rect x="402.5" y="380.5" width="1" height="1" fill="rgb(92,92,92)"/>
<rect x="407.8" y="384.1" width="1" height="1" fill="rgb(135,135,135)"/>
<rect x="409.3" y="372.8" width="1" height="1" fill="rgb(76,76,76)"/>
<rect x="427.6" y="371.0" width="1" height="1" fill="rgb(174,174,174)"/>
<rect x="418.6" y="373.0" width="1" height="1" fill="rgb(87,87,87)"/>
<rect x="410.7" y="376.8" width="1" height="1" fill="rgb(66,66,66)"/>
<rect x="394.8" y="374.0" width="1" height="1" fill="rgb(150,150,150)"/>
<rect x="410.5" y="378.4" width="1" height="1" fill="rgb(63,63,63)"/>
<rect x="417.7" y="374.6" width="1" height="1" fill="rgb(96,96,96)"/>
<rect x="399.2" y="385.7" width="1" height="1" fill="rgb(149,149,149)"/>
<rect x="412.3" y="371.4" width="1" height="1" fill="rgb(85,85,85)"/>
<rect x="419.1" y="374.3" width="1" height="1" fill="rgb(126,126,126)"/>
<rect x="420.3" y="374.8" width="1" height="1" fill="rgb(105,105,105)"/>
<rect x="402.4" y="371.8" width="1" height="1" fill="rgb(142,142,142)"/>
<rect x="410.0" y="378.1" width="1" height="1" fill="rgb(94,94,94)"/>
<rect x="422.1" y="368.4" width="1" height="1" fill="rgb(151,151,151)"/>
<rect x="416.1" y="375.4" width="1" height="1" fill="rgb(109,109,109)"/>
<rect x="415.1" y="375.8" width="1" height="1" fill="rgb(64,64,64)"/>
<rect x="413.5" y="372.7" width="1" height="1" fill="rgb(70,70,70)"/>
<rect x="406.8" y="378.8" width="1" height="1" fill="rgb(74,74,74)"/>
<rect x="400.6" y="375.1" width="1" height="1" fill="rgb(95,95,95)"/>
<rect x="406.9" y="376.6" width="1" height="1" fill="rgb(60,60,60)"/>
<rect x="410.6" y="373.2" width="1" height="1" fill="rgb(97,97,97)"/>
<rect x="410.5" y="379.5" width="1" height="1" fill="rgb(105,105,105)"/>
<rect x="418.4" y="373.7" width="1" height="1" fill="rgb(106,106,106)"/>
<rect x="403.2" y="369.3" width="1" height="1" fill="rgb(165,165,165)"/>
<rect x="410.7" y="378.2" width="1" height="1" fill="rgb(76,76,76)"/>
<rect x="408.7" y="380.9" width="1" height="1" fill="rgb(86,86,86)"/>
<rect x="405.8" y="373.7" width="1" height="1" fill="rgb(73,73,73)"/>
<rect x="422.9" y="378.1" width="1" height="1" fill="rgb(168,168,168)"/>
<rect x="413.8" y="372.4" width="1" height="1" fill="rgb(114,114,114)"/>
<rect x="416.2" y="379.4" width="1" height="1" fill="rgb(139,139,139)"/>
<rect x="409.6" y="376.5" width="1" height="1" fill="rgb(34,34,34)"/>
<rect x="421.3" y="376.1" width="1" height="1" fill="rgb(133,133,133)"/>
<rect x="405.9" y="377.4" width="1" height="1" fill="rgb(76,76,76)"/>
<rect x="412.2" y="376.9" width="1" height="1" fill="rgb(75,75,75)"/>
<rect x="400.0" y="373.7" width="1" height="1" fill="rgb(143,143,143)"/>
<rect x="413.9" y="377.2" width="1" height="1" fill="rgb(69,69,69)"/>
<rect x="407.6" y="376.7" width="1" height="1" fill="rgb(74,74,74)"/>
<rect x="402.3" y="372.2" width="1" height="1" fill="rgb(128,128,128)"/>
<rect x="419.8" y="369.6" width="1" height="1" fill="rgb(147,147,147)"/>
<rect x="410.4" y="373.5" width="1" height="1" fill="rgb(71,71,71)"/>
<rect x="421.2" y="374.9" width="1" height="1" fill="rgb(122,122,122)"/>
<rect x="415.1" y="374.3" width="1" height="1" fill="rgb(81,81,81)"/>
<rect x="419.9" y="366.0" width="1" height="1" fill="rgb(177,177,177)"/>
<rect x="419.8" y="367.6" width="1" height="1" fill="rgb(139,139,139)"/>
<rect x="407.2" y="375.9" width="1" height="1" fill="rgb(71,71,71)"/>
<rect x="417.0" y="372.7" width="1" height="1" fill="rgb(84,84,84)"/>
<rect x="406.8" y="376.4" width="1" height="1" fill="rgb(62,62,62)"/>
<rect x="416.3" y="376.0" width="1" height="1" fill="rgb(108,108,108)"/>
<rect x="406.5" y="369.9" width="1" height="1" fill="rgb(133,133,133)"/>
<rect x="407.2" y="377.2" width="1" height="1" fill="rgb(75,75,75)"/>
<rect x="402.3" y="376.6" width="1" height="1" fill="rgb(77,77,77)"/>
<rect x="406.9" y="377.2" width="1" height="1" fill="rgb(46,46,46)"/>
<rect x="416.4" y="376.0" width="1" height="1" fill="rgb(78,78,78)"/>
<rect x="412.7" y="370.8" width="1" height="1" fill="rgb(125,125,125)"/>
<rect x="405.2" y="376.7" width="1" height="1" fill="rgb(63,63,63)"/>
<rect x="413.3" y="371.0" width="1" height="1" fill="rgb(113,113,113)"/>
<rect x="407.6" y="375.8" width="1" height="1" fill="rgb(48,48,48)"/>
<rect x="397.6" y="382.5" width="1" height="1" fill="rgb(154,154,154)"/>
<rect x="404.3" y="376.1" width="1" height="1" fill="rgb(61,61,61)"/>
<rect x="402.1" y="376.9" width="1" height="1" fill="rgb(113,113,113)"/>
<rect x="411.2" y="378.0" width="1" height="1" fill="rgb(56,56,56)"/>
<rect x="422.3" y="373.7" width="1" height="1" fill="rgb(145,145,145)"/>
<rect x="410.2" y="376.5" width="1" height="1" fill="rgb(58,58,58)"/>
<rect x="410.8" y="380.8" width="1" height="1" fill="rgb(128,128,128)"/>
<rect x="408.4" y="373.5" width="1" height="1" fill="rgb(88,88,88)"/>
<rect x="407.9" y="382.6" width="1" height="1" fill="rgb(112,112,112)"/>
<rect x="415.5" y="370.4" width="1" height="1" fill="rgb(132,132,132)"/>
<rect x="401.3" y="386.0" width="1" height="1" fill="rgb(162,162,162)"/>
<rect x="410.2" y="381.2" width="1" height="1" fill="rgb(103,103,103)"/>
<rect x="411.0" y="376.4" width="1" height="1" fill="rgb(65,65,65)"/>
<rect x="409.9" y="377.7" width="1" height="1" fill="rgb(80,80,80)"/>
<rect x="418.0" y="378.4" width="1" height="1" fill="rgb(112,112,112)"/>
<rect x="400.2" y="385.2" width="1" height="1" fill="rgb(166,166,166)"/>
<rect x="417.1" y="365.2" width="1" height="1" fill="rgb(178,178,178)"/>
<rect x="417.9" y="371.7" width="1" height="1" fill="rgb(114,114,114)"/>
<rect x="407.0" y="380.0" width="1" height="1" fill="rgb(94,94,94)"/>
<rect x="410.9" y="381.0" width="1" height="1" fill="rgb(128,128,128)"/>
<rect x="407.7" y="374.1" width="1" height="1" fill="rgb(58,58,58)"/>
<rect x="405.0" y="380.3" width="1" height="1" fill="rgb(111,111,111)"/>
<rect x="400.7" y="377.4" width="1" height="1" fill="rgb(106,106,106)"/>
<rect x="398.7" y="377.4" width="1" height="1" fill="rgb(117,117,117)"/>
<rect x="404.1" y="376.8" width="1" height="1" fill="rgb(63,63,63)"/>
<rect x="396.3" y="382.8" width="1" height="1" fill="rgb(161,161,161)"/>
<rect x="408.0" y="381.2" width="1" height="1" fill="rgb(107,107,107)"/>
<rect x="405.2" y="378.0" width="1" height="1" fill="rgb(88,88,88)"/>
<rect x="414.1" y="376.2" width="1" height="1" fill="rgb(69,69,69)"/>
<rect x="411.3" y="377.9" width="1" height="1" fill="rgb(58,58,58)"/>
<rect x="404.9" y="377.1" width="1" height="1" fill="rgb(81,81,81)"/>
<rect x="400.5" y="375.7" width="1" height="1" fill="rgb(109,109,109)"/>
<rect x="404.2" y="375.7" width="1" height="1" fill="rgb(83,83,83)"/>
<rect x="406.8" y="374.6" width="1" height="1" fill="rgb(89,89,89)"/>
<rect x="391.4" y="376.3" width="1" height="1" fill="rgb(174,174,174)"/>
<rect x="397.2" y="377.8" width="1" height="1" fill="rgb(114,114,114)"/>
<rect x="404.8" y="380.3" width="1" height="1" fill="rgb(105,105,105)"/>
<rect x="407.8" y="374.3" width="1" height="1" fill="rgb(96,96,96)"/>
<rect x="417.4" y="373.4" width="1" height="1" fill="rgb(122,122,122)"/>
<rect x="403.6" y="375.4" width="1" height="1" fill="rgb(73,73,73)"/>
<rect x="418.9" y="374.0" width="1" height="1" fill="rgb(117,117,117)"/>
<rect x="398.9" y="375.0" width="1" height="1" fill="rgb(123,123,123)"/>
<rect x="407.5" y="371.8" width="1" height="1" fill="rgb(114,114,114)"/>
<rect x="398.8" y="377.6" width="1" height="1" fill="rgb(116,116,116)"/>
<rect x="419.1" y="376.3" width="1" height="1" fill="rgb(124,124,124)"/>
<rect x="393.5" y="385.0" width="1" height="1" fill="rgb(165,165,165)"/>
<rect x="414.6" y="378.5" width="1" height="1" fill="rgb(94,94,94)"/>
<rect x="418.6" y="380.1" width="1" height="1" fill="rgb(127,127,127)"/>
<rect x="407.7" y="374.5" width="1" height="1" fill="rgb(75,75,75)"/>
<rect x="412.4" y="375.3" width="1" height="1" fill="rgb(83,83,83)"/>
<rect x="429.0" y="370.9" width="1" height="1" fill="rgb(189,189,189)"/>
<rect x="400.1" y="380.5" width="1" height="1" fill="rgb(109,109,109)"/>
<rect x="413.5" y="377.9" width="1" height="1" fill="rgb(87,87,87)"/>
<rect x="411.3" y="374.3" width="1" height="1" fill="rgb(71,71,71)"/>
<rect x="400.6" y="379.5" width="1" height="1" fill="rgb(117,117,117)"/>
<rect x="403.7" y="375.9" width="1" height="1" fill="rgb(107,107,107)"/>
<rect x="404.3" y="376.0" width="1" height="1" fill="rgb(85,85,85)"/>
<rect x="410.6" y="375.0" width="1" height="1" fill="rgb(68,68,68)"/>
<rect x="403.5" y="378.1" width="1" height="1" fill="rgb(69,69,69)"/>
<rect x="411.2" y="379.5" width="1" height="1" fill="rgb(92,92,92)"/>
<rect x="404.3" y="375.9" width="1" height="1" fill="rgb(88,88,88)"/>
<rect x="397.1" y="380.8" width="1" height="1" fill="rgb(141,141,141)"/>
<rect x="413.5" y="385.0" width="1" height="1" fill="rgb(173,173,173)"/>
<rect x="407.2" y="379.2" width="1" height="1" fill="rgb(91,91,91)"/>
<rect x="399.9" y="381.0" width="1" height="1" fill="rgb(104,104,104)"/>
<rect x="412.3" y="373.1" width="1" height="1" fill="rgb(99,99,99)"/>
<rect x="403.0" y="379.4" width="1" height="1" fill="rgb(96,96,96)"/>
<rect x="400.3" y="378.1" width="1" height="1" fill="rgb(106,106,106)"/>
<rect x="420.0" y="371.3" width="1" height="1" fill="rgb(103,103,103)"/>
<rect x="410.5" y="375.8" width="1" height="1" fill="rgb(35,35,35)"/>
<rect x="411.0" y="373.1" width="1" height="1" fill="rgb(62,62,62)"/>
<rect x="414.0" y="378.6" width="1" height="1" fill="rgb(115,115,115)"/>
<rect x="413.6" y="375.2" width="1" height="1" fill="rgb(52,52,52)"/>
<rect x="415.4" y="375.5" width="1" height="1" fill="rgb(86,86,86)"/>
<rect x="419.1" y="372.4" width="1" height="1" fill="rgb(128,128,128)"/>
<rect x="395.0" y="376.0" width="1" height="1" fill="rgb(154,154,154)"/>
<rect x="410.7" y="379.3" width="1" height="1" fill="rgb(90,90,90)"/>
<rect x="423.2" y="377.5" width="1" height="1" fill="rgb(148,148,148)"/>
<rect x="412.9" y="379.2" width="1" height="1" fill="rgb(113,113,113)"/>
<rect x="409.2" y="381.0" width="1" height="1" fill="rgb(89,89,89)"/>
<rect x="410.2" y="378.3" width="1" height="1" fill="rgb(76,76,76)"/>
<rect x="406.7" y="374.5" width="1" height="1" fill="rgb(88,88,88)"/>
<rect x="398.3" y="376.2" width="1" height="1" fill="rgb(144,144,144)"/>
<rect x="400.2" y="389.4" width="1" height="1" fill="rgb(196,196,196)"/>
<rect x="404.8" y="377.3" width="1" height="1" fill="rgb(56,56,56)"/>
<rect x="406.9" y="375.5" width="1" height="1" fill="rgb(47,47,47)"/>
<rect x="417.6" y="376.1" width="1" height="1" fill="rgb(90,90,90)"/>
<rect x="409.9" y="382.2" width="1" height="1" fill="rgb(121,121,121)"/>
<rect x="416.9" y="378.4" width="1" height="1" fill="rgb(137,137,137)"/>
<rect x="403.0" y="375.3" width="1" height="1" fill="rgb(98,98,98)"/>
<rect x="403.6" y="371.2" width="1" height="1" fill="rgb(146,146,146)"/>
<rect x="411.1" y="382.0" width="1" height="1" fill="rgb(107,107,107)"/>
<rect x="416.0" y="377.4" width="1" height="1" fill="rgb(86,86,86)"/>
<rect x="403.6" y="376.7" width="1" height="1" fill="rgb(104,104,104)"/>
<rect x="398.1" y="382.1" width="1" height="1" fill="rgb(150,150,150)"/>
<rect x="398.2" y="381.2" width="1" height="1" fill="rgb(124,124,124)"/>
<rect x="406.6" y="378.1" width="1" height="1" fill="rgb(77,77,77)"/>
<rect x="418.2" y="371.0" width="1" height="1" fill="rgb(107,107,107)"/>
<rect x="402.6" y="377.6" width="1" height="1" fill="rgb(84,84,84)"/>
<rect x="409.3" y="375.8" width="1" height="1" fill="rgb(51,51,51)"/>
<rect x="405.3" y="377.2" width="1" height="1" fill="rgb(83,83,83)"/>
<rect x="410.1" y="379.7" width="1" height="1" fill="rgb(81,81,81)"/>
<rect x="402.5" y="375.9" width="1" height="1" fill="rgb(103,103,103)"/>
<rect x="399.0" y="382.0" width="1" height="1" fill="rgb(128,128,128)"/>
<rect x="416.5" y="376.7" width="1" height="1" fill="rgb(88,88,88)"/>
<rect x="406.4" y="385.5" width="1" height="1" fill="rgb(156,156,156)"/>
<rect x="408.4" y="374.3" width="1" height="1" fill="rgb(79,79,79)"/>
<rect x="413.5" y="376.7" width="1" height="1" fill="rgb(62,62,62)"/>
<rect x="425.0" y="372.9" width="1" height="1" fill="rgb(166,166,166)"/>
<rect x="408.6" y="376.8" width="1" height="1" fill="rgb(65,65,65)"/>
<rect x="407.9" y="375.6" width="1" height="1" fill="rgb(73,73,73)"/>
<rect x="414.3" y="375.9" width="1" height="1" fill="rgb(92,92,92)"/>
<rect x="409.2" y="373.6" width="1" height="1" fill="rgb(80,80,80)"/>
<rect x="411.1" y="371.0" width="1" height="1" fill="rgb(109,109,109)"/>
<rect x="410.7" y="377.1" width="1" height="1" fill="rgb(50,50,50)"/>
<rect x="399.6" y="378.2" width="1" height="1" fill="rgb(106,106,106)"/>
<rect x="402.3" y="374.7" width="1" height="1" fill="rgb(112,112,112)"/>
<rect x="398.7" y="383.0" width="1" height="1" fill="rgb(135,135,135)"/>
<rect x="422.6" y="365.1" width="1" height="1" fill="rgb(193,193,193)"/>
<rect x="409.3" y="370.7" width="1" height="1" fill="rgb(118,118,118)"/>
<rect x="409.8" y="377.7" width="1" height="1" fill="rgb(75,75,75)"/>
<rect x="410.7" y="380.8" width="1" height="1" fill="rgb(111,111,111)"/>
<rect x="402.8" y="375.7" width="1" height="1" fill="rgb(83,83,83)"/>
<rect x="407.1" y="382.1" width="1" height="1" fill="rgb(134,134,134)"/>
<rect x="407.5" y="379.6" width="1" height="1" fill="rgb(84,84,84)"/>
<rect x="400.8" y="380.9" width="1" height="1" fill="rgb(122,122,122)"/>
<rect x="409.0" y="369.7" width="1" height="1" fill="rgb(139,139,139)"/>
<rect x="416.8" y="373.4" width="1" height="1" fill="rgb(94,94,94)"/>
<rect x="405.0" y="374.8" width="1" height="1" fill="rgb(101,101,101)"/>
<rect x="402.0" y="380.6" width="1" height="1" fill="rgb(105,105,105)"/>
<rect x="408.7" y="376.8" width="1" height="1" fill="rgb(44,44,44)"/>
<rect x="392.4" y="382.4" width="1" height="1" fill="rgb(141,141,141)"/>
<rect x="423.5" y="366.5" width="1" height="1" fill="rgb(181,181,181)"/>
<rect x="409.2" y="376.9" width="1" height="1" fill="rgb(73,73,73)"/>
<rect x="415.1" y="375.8" width="1" height="1" fill="rgb(105,105,105)"/>
<rect x="401.6" y="372.4" width="1" height="1" fill="rgb(146,146,146)"/>
<rect x="414.0" y="378.7" width="1" height="1" fill="rgb(82,82,82)"/>
<rect x="404.0" y="380.6" width="1" height="1" fill="rgb(114,114,114)"/>
<rect x="408.1" y="381.8" width="1" height="1" fill="rgb(98,98,98)"/>
<rect x="409.5" y="377.4" width="1" height="1" fill="rgb(66,66,66)"/>
<rect x="398.9" y="376.2" width="1" height="1" fill="rgb(114,114,114)"/>
<rect x="419.2" y="371.1" width="1" height="1" fill="rgb(122,122,122)"/>
<rect x="412.0" y="373.8" width="1" height="1" fill="rgb(66,66,66)"/>
<rect x="399.8" y="377.4" width="1" height="1" fill="rgb(128,128,128)"/>
<rect x="408.1" y="375.5" width="1" height="1" fill="rgb(81,81,81)"/>
<rect x="404.7" y="378.0" width="1" height="1" fill="rgb(89,89,89)"/>
<rect x="398.3" y="374.2" width="1" height="1" fill="rgb(138,138,138)"/>
<rect x="410.1" y="380.1" width="1" height="1" fill="rgb(96,96,96)"/>
<rect x="404.7" y="381.4" width="1" height="1" fill="rgb(91,91,91)"/>
<rect x="409.7" y="377.9" width="1" height="1" fill="rgb(48,48,48)"/>
<rect x="397.6" y="378.6" width="1" height="1" fill="rgb(116,116,116)"/>
<rect x="416.5" y="371.3" width="1" height="1" fill="rgb(116,116,116)"/>
<rect x="407.9" y="384.2" width="1" height="1" fill="rgb(136,136,136)"/>
<rect x="411.7" y="373.3" width="1" height="1" fill="rgb(101,101,101)"/>
<rect x="406.9" y="374.8" width="1" height="1" fill="rgb(86,86,86)"/>
<rect x="414.0" y="377.8" width="1" height="1" fill="rgb(86,86,86)"/>
<rect x="406.7" y="379.9" width="1" height="1" fill="rgb(74,74,74)"/>
<rect x="407.0" y="377.8" width="1" height="1" fill="rgb(80,80,80)"/>
<rect x="403.7" y="382.4" width="1" height="1" fill="rgb(115,115,115)"/>
<rect x="423.4" y="371.0" width="1" height="1" fill="rgb(149,149,149)"/>
<rect x="416.0" y="367.5" width="1" height="1" fill="rgb(166,166,166)"/>
<rect x="401.8" y="380.9" width="1" height="1" fill="rgb(88,88,88)"/>
<rect x="405.8" y="379.7" width="1" height="1" fill="rgb(93,93,93)"/>
<rect x="421.3" y="373.1" width="1" height="1" fill="rgb(103,103,103)"/>
<rect x="402.6" y="380.1" width="1" height="1" fill="rgb(114,114,114)"/>
<rect x="406.2" y="375.6" width="1" height="1" fill="rgb(80,80,80)"/>
<rect x="411.6" y="380.6" width="1" height="1" fill="rgb(105,105,105)"/>
<rect x="416.5" y="373.1" width="1" height="1" fill="rgb(86,86,86)"/>
<rect x="405.0" y="386.0" width="1" height="1" fill="rgb(153,153,153)"/>
<rect x="410.9" y="380.2" width="1" height="1" fill="rgb(110,110,110)"/>
<rect x="411.9" y="374.9" width="1" height="1" fill="rgb(58,58,58)"/>
<rect x="406.8" y="372.7" width="1" height="1" fill="rgb(108,108,108)"/>
<rect x="407.5" y="375.3" width="1" height="1" fill="rgb(47,47,47)"/>
<rect x="412.7" y="378.0" width="1" height="1" fill="rgb(71,71,71)"/>
<rect x="409.0" y="378.0" width="1" height="1" fill="rgb(48,48,48)"/>
<rect x="397.2" y="378.7" width="1" height="1" fill="rgb(107,107,107)"/>
<rect x="419.7" y="376.5" width="1" height="1" fill="rgb(101,101,101)"/>
<rect x="415.4" y="377.7" width="1" height="1" fill="rgb(90,90,90)"/>
<rect x="410.0" y="371.8" width="1" height="1" fill="rgb(102,102,102)"/>
<rect x="408.3" y="377.1" width="1" height="1" fill="rgb(72,72,72)"/>
<rect x="400.2" y="383.2" width="1" height="1" fill="rgb(114,114,114)"/>
<rect x="401.7" y="380.2" width="1" height="1" fill="rgb(88,88,88)"/>
<rect x="425.2" y="375.5" width="1" height="1" fill="rgb(172,172,172)"/>
<rect x="418.2" y="373.6" width="1" height="1" fill="rgb(114,114,114)"/>
<rect x="402.1" y="375.8" width="1" height="1" fill="rgb(84,84,84)"/>
<rect x="403.7" y="374.8" width="1" height="1" fill="rgb(104,104,104)"/>
<rect x="415.2" y="375.3" width="1" height="1" fill="rgb(67,67,67)"/>
<rect x="408.9" y="372.2" width="1" height="1" fill="rgb(89,89,89)"/>
<rect x="409.8" y="371.7" width="1" height="1" fill="rgb(92,92,92)"/>
<rect x="409.0" y="376.4" width="1" height="1" fill="rgb(30,30,30)"/>
<rect x="427.6" y="373.1" width="1" height="1" fill="rgb(179,179,179)"/>
<rect x="392.4" y="378.7" width="1" height="1" fill="rgb(156,156,156)"/>
<rect x="407.5" y="375.2" width="1" height="1" fill="rgb(65,65,65)"/>
<rect x="403.1" y="375.6" width="1" height="1" fill="rgb(100,100,100)"/>
<rect x="404.7" y="381.9" width="1" height="1" fill="rgb(99,99,99)"/>
<rect x="401.9" y="378.6" width="1" height="1" fill="rgb(96,96,96)"/>
<rect x="414.5" y="375.6" width="1" height="1" fill="rgb(90,90,90)"/>
<rect x="414.3" y="378.3" width="1" height="1" fill="rgb(120,120,120)"/>
<rect x="399.4" y="375.3" width="1" height="1" fill="rgb(132,132,132)"/>
<rect x="416.0" y="373.6" width="1" height="1" fill="rgb(87,87,87)"/>
<rect x="409.1" y="375.4" width="1" height="1" fill="rgb(56,56,56)"/>
<rect x="409.3" y="380.8" width="1" height="1" fill="rgb(115,115,115)"/>
<rect x="413.9" y="371.6" width="1" height="1" fill="rgb(109,109,109)"/>
<rect x="419.2" y="375.9" width="1" height="1" fill="rgb(132,132,132)"/>
<rect x="402.4" y="375.4" width="1" height="1" fill="rgb(100,100,100)"/>
<rect x="405.8" y="378.4" width="1" height="1" fill="rgb(62,62,62)"/>
<rect x="410.6" y="371.6" width="1" height="1" fill="rgb(80,80,80)"/>
<rect x="398.0" y="374.9" width="1" height="1" fill="rgb(139,139,139)"/>
<rect x="418.9" y="381.6" width="1" height="1" fill="rgb(144,144,144)"/>
<rect x="401.4" y="378.3" width="1" height="1" fill="rgb(82,82,82)"/>
<rect x="409.4" y="378.5" width="1" height="1" fill="rgb(61,61,61)"/>
<rect x="419.6" y="374.6" width="1" height="1" fill="rgb(119,119,119)"/>
<rect x="411.5" y="384.5" width="1" height="1" fill="rgb(154,154,154)"/>
<rect x="394.2" y="382.8" width="1" height="1" fill="rgb(157,157,157)"/>
<rect x="398.1" y="380.7" width="1" height="1" fill="rgb(132,132,132)"/>
<rect x="408.7" y="377.7" width="1" height="1" fill="rgb(75,75,75)"/>
<rect x="407.9" y="371.7" width="1" height="1" fill="rgb(91,91,91)"/>
<rect x="408.5" y="374.2" width="1" height="1" fill="rgb(88,88,88)"/>
<rect x="391.4" y="375.6" width="1" height="1" fill="rgb(183,183,183)"/>
<rect x="393.2" y="375.5" width="1" height="1" fill="rgb(170,170,170)"/>
<rect x="382.1" y="374.8" width="1" height="1" fill="rgb(196,196,196)"/>
<rect x="385.2" y="377.0" width="1" height="1" fill="rgb(169,169,169)"/>
<rect x="394.9" y="377.6" width="1" height="1" fill="rgb(175,175,175)"/>
<rect x="393.5" y="373.8" width="1" height="1" fill="rgb(165,165,165)"/>
<rect x="384.3" y="375.0" width="1" height="1" fill="rgb(166,166,166)"/>
<rect x="384.1" y="378.0" width="1" height="1" fill="rgb(201,201,201)"/>
<rect x="393.7" y="375.9" width="1" height="1" fill="rgb(207,207,207)"/>
<rect x="397.0" y="376.8" width="1" height="1" fill="rgb(210,210,210)"/>
<rect x="390.6" y="378.1" width="1" height="1" fill="rgb(197,197,197)"/>
<rect x="394.8" y="377.5" width="1" height="1" fill="rgb(202,202,202)"/>
<rect x="389.5" y="377.5" width="1" height="1" fill="rgb(187,187,187)"/>
<rect x="391.7" y="375.7" width="1" height="1" fill="rgb(204,204,204)"/>
<rect x="390.9" y="377.1" width="1" height="1" fill="rgb(209,209,209)"/>
<rect x="395.6" y="375.4" width="1" height="1" fill="rgb(182,182,182)"/>
<rect x="382.0" y="375.2" width="1" height="1" fill="rgb(212,212,212)"/>
<rect x="390.4" y="374.8" width="1" height="1" fill="rgb(201,201,201)"/>
<rect x="393.7" y="377.3" width="1" height="1" fill="rgb(186,186,186)"/>
<rect x="385.0" y="377.2" width="1" height="1" fill="rgb(178,178,178)"/>
<rect x="387.3" y="375.9" width="1" height="1" fill="rgb(181,181,181)"/>
<rect x="382.4" y="375.1" width="1" height="1" fill="rgb(204,204,204)"/>
<rect x="393.6" y="377.6" width="1" height="1" fill="rgb(168,168,168)"/>
<rect x="386.0" y="374.4" width="1" height="1" fill="rgb(188,188,188)"/>
<rect x="386.3" y="376.3" width="1" height="1" fill="rgb(165,165,165)"/>
<rect x="388.7" y="375.2" width="1" height="1" fill="rgb(167,167,167)"/>
<rect x="382.0" y="375.3" width="1" height="1" fill="rgb(192,192,192)"/>
<rect x="382.6" y="375.4" width="1" height="1" fill="rgb(193,193,193)"/>
<rect x="389.9" y="375.7" width="1" height="1" fill="rgb(172,172,172)"/>
<rect x="389.2" y="376.9" width="1" height="1" fill="rgb(183,183,183)"/>
<rect x="390.9" y="375.5" width="1" height="1" fill="rgb(195,195,195)"/>
<rect x="385.6" y="375.3" width="1" height="1" fill="rgb(202,202,202)"/>
<rect x="384.8" y="374.7" width="1" height="1" fill="rgb(204,204,204)"/>
<rect x="390.0" y="374.7" width="1" height="1" fill="rgb(210,210,210)"/>
<rect x="397.3" y="376.5" width="1" height="1" fill="rgb(178,178,178)"/>
<rect x="391.5" y="374.6" width="1" height="1" fill="rgb(171,171,171)"/>
<rect x="384.3" y="377.1" width="1" height="1" fill="rgb(184,184,184)"/>
<rect x="396.2" y="377.6" width="1" height="1" fill="rgb(205,205,205)"/>
<rect x="390.0" y="375.3" width="1" height="1" fill="rgb(167,167,167)"/>
<rect x="383.3" y="376.6" width="1" height="1" fill="rgb(208,208,208)"/>
<rect x="386.3" y="379.0" width="1" height="1" fill="rgb(184,184,184)"/>
<rect x="393.9" y="376.3" width="1" height="1" fill="rgb(187,187,187)"/>
<rect x="397.0" y="378.0" width="1" height="1" fill="rgb(197,197,197)"/>
<rect x="381.9" y="376.4" width="1" height="1" fill="rgb(210,210,210)"/>
<rect x="386.9" y="375.8" width="1" height="1" fill="rgb(168,168,168)"/>
<rect x="382.9" y="375.7" width="1" height="1" fill="rgb(204,204,204)"/>
<rect x="396.6" y="378.1" width="1" height="1" fill="rgb(169,169,169)"/>
<rect x="393.9" y="374.9" width="1" height="1" fill="rgb(190,190,190)"/>
<rect x="394.0" y="374.5" width="1" height="1" fill="rgb(173,173,173)"/>
<rect x="383.8" y="375.2" width="1" height="1" fill="rgb(169,169,169)"/>
<rect x="388.4" y="375.2" width="1" height="1" fill="rgb(167,167,167)"/>
<rect x="393.6" y="380.2" width="1" height="1" fill="rgb(170,170,170)"/>
<rect x="383.2" y="376.5" width="1" height="1" fill="rgb(194,194,194)"/>
<rect x="390.9" y="375.5" width="1" height="1" fill="rgb(184,184,184)"/>
<rect x="387.1" y="377.1" width="1" height="1" fill="rgb(183,183,183)"/>
<rect x="391.1" y="377.8" width="1" height="1" fill="rgb(205,205,205)"/>
<rect x="382.7" y="375.4" width="1" height="1" fill="rgb(211,211,211)"/>
<rect x="391.4" y="376.7" width="1" height="1" fill="rgb(174,174,174)"/>
<rect x="388.8" y="377.6" width="1" height="1" fill="rgb(168,168,168)"/>
<rect x="383.7" y="376.1" width="1" height="1" fill="rgb(190,190,190)"/>
<rect x="390.1" y="376.4" width="1" height="1" fill="rgb(180,180,180)"/>
<rect x="392.7" y="378.1" width="1" height="1" fill="rgb(167,167,167)"/>
<rect x="395.0" y="374.9" width="1" height="1" fill="rgb(179,179,179)"/>
<rect x="391.5" y="376.3" width="1" height="1" fill="rgb(169,169,169)"/>
<rect x="396.1" y="376.4" width="1" height="1" fill="rgb(168,168,168)"/>
<rect x="388.8" y="377.3" width="1" height="1" fill="rgb(213,213,213)"/>
<rect x="384.5" y="376.5" width="1" height="1" fill="rgb(197,197,197)"/>
<rect x="383.8" y="377.0" width="1" height="1" fill="rgb(175,175,175)"/>
<rect x="391.2" y="376.0" width="1" height="1" fill="rgb(199,199,199)"/>
<rect x="395.4" y="376.4" width="1" height="1" fill="rgb(205,205,205)"/>
<rect x="395.2" y="376.4" width="1" height="1" fill="rgb(195,195,195)"/>
<rect x="391.4" y="377.3" width="1" height="1" fill="rgb(196,196,196)"/>
<rect x="390.3" y="376.1" width="1" height="1" fill="rgb(169,169,169)"/>
<rect x="382.4" y="376.5" width="1" height="1" fill="rgb(194,194,194)"/>
<rect x="382.9" y="377.4" width="1" height="1" fill="rgb(172,172,172)"/>
<rect x="397.0" y="372.4" width="1" height="1" fill="rgb(196,196,196)"/>
<rect x="381.6" y="375.5" width="1" height="1" fill="rgb(180,180,180)"/>
<rect x="382.6" y="376.5" width="1" height="1" fill="rgb(177,177,177)"/>
<rect x="381.8" y="375.3" width="1" height="1" fill="rgb(176,176,176)"/>
<rect x="396.3" y="376.7" width="1" height="1" fill="rgb(209,209,209)"/>
<rect x="389.5" y="376.4" width="1" height="1" fill="rgb(202,202,202)"/>
<rect x="393.9" y="374.4" width="1" height="1" fill="rgb(182,182,182)"/>
<rect x="393.3" y="375.4" width="1" height="1" fill="rgb(185,185,185)"/>
<rect x="383.3" y="376.4" width="1" height="1" fill="rgb(200,200,200)"/>
<rect x="385.5" y="374.2" width="1" height="1" fill="rgb(194,194,194)"/>
<rect x="396.0" y="376.1" width="1" height="1" fill="rgb(201,201,201)"/>
<rect x="392.6" y="375.9" width="1" height="1" fill="rgb(210,210,210)"/>
<rect x="391.0" y="373.7" width="1" height="1" fill="rgb(198,198,198)"/>
<rect x="390.3" y="372.7" width="1" height="1" fill="rgb(180,180,180)"/>
<rect x="384.5" y="375.5" width="1" height="1" fill="rgb(190,190,190)"/>
<rect x="386.5" y="375.7" width="1" height="1" fill="rgb(165,165,165)"/>
<rect x="384.8" y="374.7" width="1" height="1" fill="rgb(195,195,195)"/>
<rect x="387.8" y="375.4" width="1" height="1" fill="rgb(170,170,170)"/>
<rect x="392.5" y="374.3" width="1" height="1" fill="rgb(213,213,213)"/>
<rect x="383.0" y="375.2" width="1" height="1" fill="rgb(195,195,195)"/>
<rect x="389.6" y="374.7" width="1" height="1" fill="rgb(190,190,190)"/>
<rect x="397.3" y="377.5" width="1" height="1" fill="rgb(205,205,205)"/>
<rect x="392.2" y="374.8" width="1" height="1" fill="rgb(205,205,205)"/>
<rect x="397.5" y="377.3" width="1" height="1" fill="rgb(176,176,176)"/>
<rect x="394.6" y="376.5" width="1" height="1" fill="rgb(211,211,211)"/>
<rect x="385.1" y="374.0" width="1" height="1" fill="rgb(201,201,201)"/>
<rect x="390.9" y="376.3" width="1" height="1" fill="rgb(209,209,209)"/>
<rect x="396.3" y="380.3" width="1" height="1" fill="rgb(179,179,179)"/>
<rect x="391.3" y="378.2" width="1" height="1" fill="rgb(202,202,202)"/>
<rect x="386.2" y="375.2" width="1" height="1" fill="rgb(204,204,204)"/>
<rect x="397.1" y="380.2" width="1" height="1" fill="rgb(169,169,169)"/>
<rect x="391.5" y="375.7" width="1" height="1" fill="rgb(201,201,201)"/>
<rect x="386.0" y="373.4" width="1" height="1" fill="rgb(170,170,170)"/>
<rect x="384.3" y="375.9" width="1" height="1" fill="rgb(181,181,181)"/>
<rect x="383.9" y="377.1" width="1" height="1" fill="rgb(169,169,169)"/>
<rect x="392.5" y="376.3" width="1" height="1" fill="rgb(190,190,190)"/>
<rect x="397.2" y="375.0" width="1" height="1" fill="rgb(183,183,183)"/>
<rect x="390.1" y="376.1" width="1" height="1" fill="rgb(208,208,208)"/>
<rect x="393.9" y="375.6" width="1" height="1" fill="rgb(201,201,201)"/>
<rect x="387.0" y="373.3" width="1" height="1" fill="rgb(168,168,168)"/>
<rect x="382.8" y="376.1" width="1" height="1" fill="rgb(197,197,197)"/>
<rect x="396.7" y="376.8" width="1" height="1" fill="rgb(188,188,188)"/>
<rect x="394.1" y="376.9" width="1" height="1" fill="rgb(193,193,193)"/>
<rect x="392.1" y="377.0" width="1" height="1" fill="rgb(194,194,194)"/>
<rect x="393.1" y="376.4" width="1" height="1" fill="rgb(169,169,169)"/>
<rect x="382.9" y="375.7" width="1" height="1" fill="rgb(181,181,181)"/>
<rect x="384.2" y="376.8" width="1" height="1" fill="rgb(168,168,168)"/>
<rect x="391.8" y="378.1" width="1" height="1" fill="rgb(210,210,210)"/>
<rect x="383.5" y="375.7" width="1" height="1" fill="rgb(195,195,195)"/>
<rect x="387.3" y="376.9" width="1" height="1" fill="rgb(195,195,195)"/>
<rect x="396.1" y="373.8" width="1" height="1" fill="rgb(212,212,212)"/>
<rect x="383.7" y="375.7" width="1" height="1" fill="rgb(193,193,193)"/>
<rect x="385.1" y="376.2" width="1" height="1" fill="rgb(199,199,199)"/>
<rect x="387.2" y="378.4" width="1" height="1" fill="rgb(171,171,171)"/>
<rect x="385.8" y="376.1" width="1" height="1" fill="rgb(191,191,191)"/>
<rect x="382.4" y="376.2" width="1" height="1" fill="rgb(170,170,170)"/>
<rect x="391.4" y="373.6" width="1" height="1" fill="rgb(171,171,171)"/>
<rect x="390.0" y="377.0" width="1" height="1" fill="rgb(187,187,187)"/>
<rect x="390.2" y="376.6" width="1" height="1" fill="rgb(197,197,197)"/>
<rect x="396.3" y="375.1" width="1" height="1" fill="rgb(175,175,175)"/>
<rect x="393.3" y="377.4" width="1" height="1" fill="rgb(183,183,183)"/>
<rect x="384.9" y="376.4" width="1" height="1" fill="rgb(206,206,206)"/>
<rect x="388.5" y="377.2" width="1" height="1" fill="rgb(205,205,205)"/>
<rect x="389.0" y="375.1" width="1" height="1" fill="rgb(185,185,185)"/>
<rect x="393.1" y="375.4" width="1" height="1" fill="rgb(169,169,169)"/>
<rect x="388.8" y="376.0" width="1" height="1" fill="rgb(181,181,181)"/>
<rect x="384.7" y="376.8" width="1" height="1" fill="rgb(193,193,193)"/>
<rect x="382.1" y="376.0" width="1" height="1" fill="rgb(174,174,174)"/>
<rect x="394.9" y="377.4" width="1" height="1" fill="rgb(199,199,199)"/>
<rect x="395.7" y="376.8" width="1" height="1" fill="rgb(180,180,180)"/>
<rect x="389.6" y="376.7" width="1" height="1" fill="rgb(206,206,206)"/>
<rect x="394.9" y="376.2" width="1" height="1" fill="rgb(166,166,166)"/>
<rect x="386.9" y="375.8" width="1" height="1" fill="rgb(186,186,186)"/>
<rect x="381.6" y="375.8" width="1" height="1" fill="rgb(208,208,208)"/>
<rect x="384.9" y="376.4" width="1" height="1" fill="rgb(180,180,180)"/>
<rect x="384.3" y="376.3" width="1" height="1" fill="rgb(186,186,186)"/>
<rect x="385.0" y="375.6" width="1" height="1" fill="rgb(177,177,177)"/>
<rect x="397.4" y="375.2" width="1" height="1" fill="rgb(182,182,182)"/>
<rect x="397.1" y="372.7" width="1" height="1" fill="rgb(213,213,213)"/>
<rect x="391.7" y="376.1" width="1" height="1" fill="rgb(192,192,192)"/>
<rect x="389.3" y="376.4" width="1" height="1" fill="rgb(208,208,208)"/>
<rect x="397.5" y="376.6" width="1" height="1" fill="rgb(214,214,214)"/>
<rect x="391.3" y="375.0" width="1" height="1" fill="rgb(166,166,166)"/>
<rect x="384.8" y="377.6" width="1" height="1" fill="rgb(202,202,202)"/>
<rect x="392.1" y="375.3" width="1" height="1" fill="rgb(166,166,166)"/>
<rect x="396.5" y="375.0" width="1" height="1" fill="rgb(191,191,191)"/>
<rect x="389.3" y="378.2" width="1" height="1" fill="rgb(191,191,191)"/>
<rect x="396.2" y="377.0" width="1" height="1" fill="rgb(207,207,207)"/>
<rect x="384.3" y="375.2" width="1" height="1" fill="rgb(182,182,182)"/>
<rect x="386.6" y="377.1" width="1" height="1" fill="rgb(165,165,165)"/>
<rect x="397.0" y="376.6" width="1" height="1" fill="rgb(205,205,205)"/>
<rect x="389.2" y="377.0" width="1" height="1" fill="rgb(203,203,203)"/>
<rect x="386.2" y="376.3" width="1" height="1" fill="rgb(169,169,169)"/>
<rect x="388.3" y="375.4" width="1" height="1" fill="rgb(183,183,183)"/>
<rect x="390.4" y="375.6" width="1" height="1" fill="rgb(202,202,202)"/>
<rect x="388.0" y="376.9" width="1" height="1" fill="rgb(202,202,202)"/>
<rect x="382.8" y="376.0" width="1" height="1" fill="rgb(210,210,210)"/>
<rect x="390.2" y="377.2" width="1" height="1" fill="rgb(209,209,209)"/>
<rect x="383.6" y="377.4" width="1" height="1" fill="rgb(209,209,209)"/>
<rect x="396.8" y="373.8" width="1" height="1" fill="rgb(201,201,201)"/>
<rect x="390.6" y="378.0" width="1" height="1" fill="rgb(184,184,184)"/>
<rect x="386.5" y="376.8" width="1" height="1" fill="rgb(212,212,212)"/>
<rect x="382.6" y="374.8" width="1" height="1" fill="rgb(193,193,193)"/>
<rect x="392.8" y="376.1" width="1" height="1" fill="rgb(209,209,209)"/>
<rect x="394.0" y="376.4" width="1" height="1" fill="rgb(200,200,200)"/>
<rect x="386.8" y="374.1" width="1" height="1" fill="rgb(169,169,169)"/>
<rect x="393.1" y="377.2" width="1" height="1" fill="rgb(200,200,200)"/>
<rect x="388.9" y="377.8" width="1" height="1" fill="rgb(209,209,209)"/>
<rect x="384.6" y="375.6" width="1" height="1" fill="rgb(185,185,185)"/>
<rect x="386.2" y="374.2" width="1" height="1" fill="rgb(214,214,214)"/>
<rect x="396.1" y="376.0" width="1" height="1" fill="rgb(207,207,207)"/>
<rect x="397.1" y="375.7" width="1" height="1" fill="rgb(169,169,169)"/>
<rect x="388.0" y="374.0" width="1" height="1" fill="rgb(189,189,189)"/>
<rect x="383.2" y="376.6" width="1" height="1" fill="rgb(177,177,177)"/>
<rect x="382.8" y="375.6" width="1" height="1" fill="rgb(191,191,191)"/>
<rect x="386.9" y="377.5" width="1" height="1" fill="rgb(186,186,186)"/>
<rect x="384.0" y="375.6" width="1" height="1" fill="rgb(167,167,167)"/>
<rect x="392.5" y="374.5" width="1" height="1" fill="rgb(190,190,190)"/>
<rect x="388.1" y="375.1" width="1" height="1" fill="rgb(210,210,210)"/>
<rect x="382.4" y="376.2" width="1" height="1" fill="rgb(180,180,180)"/>
<rect x="386.8" y="378.0" width="1" height="1" fill="rgb(186,186,186)"/>
<rect x="386.2" y="376.0" width="1" height="1" fill="rgb(192,192,192)"/>
<rect x="392.9" y="375.3" width="1" height="1" fill="rgb(182,182,182)"/>
<rect x="393.2" y="374.5" width="1" height="1" fill="rgb(170,170,170)"/>
<rect x="386.6" y="377.2" width="1" height="1" fill="rgb(193,193,193)"/>
<rect x="391.3" y="375.6" width="1" height="1" fill="rgb(191,191,191)"/>
<rect x="395.3" y="376.1" width="1" height="1" fill="rgb(178,178,178)"/>
<rect x="384.8" y="375.5" width="1" height="1" fill="rgb(170,170,170)"/>
<rect x="382.7" y="375.6" width="1" height="1" fill="rgb(196,196,196)"/>
<rect x="395.6" y="376.3" width="1" height="1" fill="rgb(208,208,208)"/>
<rect x="395.1" y="373.5" width="1" height="1" fill="rgb(178,178,178)"/>
<rect x="387.6" y="378.8" width="1" height="1" fill="rgb(197,197,197)"/>
<rect x="391.6" y="375.4" width="1" height="1" fill="rgb(182,182,182)"/>
<rect x="383.0" y="375.7" width="1" height="1" fill="rgb(196,196,196)"/>
<rect x="392.0" y="377.0" width="1" height="1" fill="rgb(196,196,196)"/>
<rect x="396.1" y="377.3" width="1" height="1" fill="rgb(169,169,169)"/>
<rect x="387.4" y="376.0" width="1" height="1" fill="rgb(210,210,210)"/>
<rect x="389.0" y="376.3" width="1" height="1" fill="rgb(182,182,182)"/>
<rect x="394.3" y="374.9" width="1" height="1" fill="rgb(179,179,179)"/>
<rect x="393.2" y="374.0" width="1" height="1" fill="rgb(166,166,166)"/>
<rect x="387.3" y="375.0" width="1" height="1" fill="rgb(214,214,214)"/>
<rect x="387.5" y="375.2" width="1" height="1" fill="rgb(194,194,194)"/>
<rect x="392.6" y="382.2" width="1" height="1" fill="rgb(189,189,189)"/>
<rect x="391.5" y="375.0" width="1" height="1" fill="rgb(179,179,179)"/>
<rect x="385.1" y="376.5" width="1" height="1" fill="rgb(199,199,199)"/>
<rect x="417.8" y="369.4" width="1" height="1" fill="rgb(140,140,140)"/>
<rect x="421.7" y="368.5" width="1" height="1" fill="rgb(151,151,151)"/>
<rect x="416.4" y="367.2" width="1" height="1" fill="rgb(140,140,140)"/>
<rect x="420.1" y="369.1" width="1" height="1" fill="rgb(107,107,107)"/>
<rect x="417.6" y="369.6" width="1" height="1" fill="rgb(129,129,129)"/>
<rect x="414.4" y="369.1" width="1" height="1" fill="rgb(110,110,110)"/>
<rect x="421.8" y="372.9" width="1" height="1" fill="rgb(173,173,173)"/>
<rect x="417.9" y="368.1" width="1" height="1" fill="rgb(119,119,119)"/>
<rect x="416.9" y="368.5" width="1" height="1" fill="rgb(115,115,115)"/>
<rect x="411.9" y="363.8" width="1" height="1" fill="rgb(169,169,169)"/>
<rect x="418.0" y="367.1" width="1" height="1" fill="rgb(156,156,156)"/>
<rect x="422.4" y="366.8" width="1" height="1" fill="rgb(172,172,172)"/>
<rect x="416.9" y="364.6" width="1" height="1" fill="rgb(154,154,154)"/>
<rect x="413.0" y="370.3" width="1" height="1" fill="rgb(170,170,170)"/>
<rect x="415.9" y="368.6" width="1" height="1" fill="rgb(136,136,136)"/>
<rect x="419.7" y="366.1" width="1" height="1" fill="rgb(138,138,138)"/>
<rect x="421.1" y="367.2" width="1" height="1" fill="rgb(120,120,120)"/>
<rect x="414.7" y="364.2" width="1" height="1" fill="rgb(105,105,105)"/>
<rect x="419.4" y="367.8" width="1" height="1" fill="rgb(164,164,164)"/>
<rect x="419.1" y="369.0" width="1" height="1" fill="rgb(126,126,126)"/>
<rect x="417.4" y="372.2" width="1" height="1" fill="rgb(160,160,160)"/>
<rect x="412.6" y="364.5" width="1" height="1" fill="rgb(112,112,112)"/>
<rect x="415.8" y="371.2" width="1" height="1" fill="rgb(160,160,160)"/>
<rect x="415.8" y="361.5" width="1" height="1" fill="rgb(166,166,166)"/>
<rect x="411.7" y="368.1" width="1" height="1" fill="rgb(162,162,162)"/>
<rect x="412.0" y="368.3" width="1" height="1" fill="rgb(164,164,164)"/>
<rect x="417.4" y="367.6" width="1" height="1" fill="rgb(107,107,107)"/>
<rect x="415.0" y="364.5" width="1" height="1" fill="rgb(118,118,118)"/>
<rect x="419.5" y="365.5" width="1" height="1" fill="rgb(116,116,116)"/>
<rect x="419.0" y="371.7" width="1" height="1" fill="rgb(148,148,148)"/>
<rect x="420.0" y="373.2" width="1" height="1" fill="rgb(120,120,120)"/>
<rect x="420.1" y="363.8" width="1" height="1" fill="rgb(113,113,113)"/>
<rect x="415.3" y="365.9" width="1" height="1" fill="rgb(169,169,169)"/>
<rect x="413.6" y="369.7" width="1" height="1" fill="rgb(121,121,121)"/>
<rect x="418.0" y="367.1" width="1" height="1" fill="rgb(168,168,168)"/>
<rect x="422.6" y="369.9" width="1" height="1" fill="rgb(106,106,106)"/>
<rect x="415.3" y="363.0" width="1" height="1" fill="rgb(127,127,127)"/>
<rect x="413.9" y="367.5" width="1" height="1" fill="rgb(109,109,109)"/>
<rect x="418.4" y="366.4" width="1" height="1" fill="rgb(161,161,161)"/>
<rect x="418.2" y="369.1" width="1" height="1" fill="rgb(121,121,121)"/>
<rect x="416.8" y="368.3" width="1" height="1" fill="rgb(106,106,106)"/>
<rect x="414.4" y="370.4" width="1" height="1" fill="rgb(164,164,164)"/>
<rect x="417.9" y="367.4" width="1" height="1" fill="rgb(156,156,156)"/>
<rect x="413.3" y="372.0" width="1" height="1" fill="rgb(151,151,151)"/>
<rect x="419.6" y="370.0" width="1" height="1" fill="rgb(134,134,134)"/>
<rect x="412.8" y="369.6" width="1" height="1" fill="rgb(153,153,153)"/>
<rect x="413.5" y="370.5" width="1" height="1" fill="rgb(162,162,162)"/>
<rect x="415.7" y="367.4" width="1" height="1" fill="rgb(114,114,114)"/>
<rect x="415.5" y="374.6" width="1" height="1" fill="rgb(132,132,132)"/>
<rect x="422.1" y="364.5" width="1" height="1" fill="rgb(153,153,153)"/>
<rect x="413.1" y="371.7" width="1" height="1" fill="rgb(140,140,140)"/>
<rect x="419.9" y="368.0" width="1" height="1" fill="rgb(149,149,149)"/>
<rect x="414.8" y="365.7" width="1" height="1" fill="rgb(117,117,117)"/>
<rect x="413.6" y="367.7" width="1" height="1" fill="rgb(152,152,152)"/>
<rect x="416.8" y="367.2" width="1" height="1" fill="rgb(130,130,130)"/>
<rect x="416.2" y="374.9" width="1" height="1" fill="rgb(139,139,139)"/>
<rect x="409.1" y="370.7" width="1" height="1" fill="rgb(159,159,159)"/>
<rect x="418.7" y="366.6" width="1" height="1" fill="rgb(113,113,113)"/>
<rect x="415.6" y="369.5" width="1" height="1" fill="rgb(133,133,133)"/>
<rect x="413.2" y="369.6" width="1" height="1" fill="rgb(173,173,173)"/>
<rect x="414.7" y="368.5" width="1" height="1" fill="rgb(117,117,117)"/>
<rect x="415.0" y="366.2" width="1" height="1" fill="rgb(133,133,133)"/>
<rect x="413.4" y="368.9" width="1" height="1" fill="rgb(152,152,152)"/>
<rect x="415.7" y="368.4" width="1" height="1" fill="rgb(139,139,139)"/>
<rect x="416.5" y="372.0" width="1" height="1" fill="rgb(137,137,137)"/>
<rect x="417.0" y="362.6" width="1" height="1" fill="rgb(156,156,156)"/>
<rect x="413.9" y="366.9" width="1" height="1" fill="rgb(112,112,112)"/>
<rect x="416.3" y="367.2" width="1" height="1" fill="rgb(131,131,131)"/>
<rect x="414.5" y="367.9" width="1" height="1" fill="rgb(165,165,165)"/>
<rect x="408.8" y="367.0" width="1" height="1" fill="rgb(106,106,106)"/>
<rect x="413.9" y="369.3" width="1" height="1" fill="rgb(145,145,145)"/>
<rect x="414.1" y="366.2" width="1" height="1" fill="rgb(170,170,170)"/>
<rect x="413.8" y="369.6" width="1" height="1" fill="rgb(157,157,157)"/>
<rect x="414.3" y="368.2" width="1" height="1" fill="rgb(169,169,169)"/>
<rect x="416.7" y="369.7" width="1" height="1" fill="rgb(142,142,142)"/>
<rect x="421.5" y="366.3" width="1" height="1" fill="rgb(162,162,162)"/>
<rect x="413.7" y="367.0" width="1" height="1" fill="rgb(125,125,125)"/>
<rect x="418.2" y="371.0" width="1" height="1" fill="rgb(163,163,163)"/>
<rect x="408.5" y="366.5" width="1" height="1" fill="rgb(160,160,160)"/>
<rect x="412.6" y="367.9" width="1" height="1" fill="rgb(134,134,134)"/>
<rect x="421.2" y="366.3" width="1" height="1" fill="rgb(117,117,117)"/>
<rect x="420.2" y="366.7" width="1" height="1" fill="rgb(130,130,130)"/>
<rect x="416.4" y="366.3" width="1" height="1" fill="rgb(153,153,153)"/>
<rect x="412.3" y="368.7" width="1" height="1" fill="rgb(169,169,169)"/>
<rect x="419.2" y="367.1" width="1" height="1" fill="rgb(132,132,132)"/>
<rect x="415.5" y="365.3" width="1" height="1" fill="rgb(111,111,111)"/>
<rect x="414.1" y="368.7" width="1" height="1" fill="rgb(150,150,150)"/>
<rect x="417.8" y="370.6" width="1" height="1" fill="rgb(122,122,122)"/>
<rect x="415.8" y="371.8" width="1" height="1" fill="rgb(165,165,165)"/>
<rect x="413.8" y="366.1" width="1" height="1" fill="rgb(158,158,158)"/>
<rect x="414.0" y="370.4" width="1" height="1" fill="rgb(150,150,150)"/>
<rect x="417.8" y="372.7" width="1" height="1" fill="rgb(169,169,169)"/>
<rect x="417.3" y="368.2" width="1" height="1" fill="rgb(169,169,169)"/>
<rect x="416.8" y="370.1" width="1" height="1" fill="rgb(148,148,148)"/>
<rect x="415.4" y="370.0" width="1" height="1" fill="rgb(147,147,147)"/>
<rect x="412.9" y="368.1" width="1" height="1" fill="rgb(140,140,140)"/>
<rect x="412.6" y="366.0" width="1" height="1" fill="rgb(155,155,155)"/>
<rect x="415.0" y="364.5" width="1" height="1" fill="rgb(137,137,137)"/>
<rect x="415.6" y="367.9" width="1" height="1" fill="rgb(110,110,110)"/>
<rect x="412.2" y="369.9" width="1" height="1" fill="rgb(121,121,121)"/>
<rect x="418.9" y="368.3" width="1" height="1" fill="rgb(139,139,139)"/>
<rect x="408.7" y="370.1" width="1" height="1" fill="rgb(115,115,115)"/>
<rect x="416.5" y="372.2" width="1" height="1" fill="rgb(130,130,130)"/>
<rect x="415.6" y="369.9" width="1" height="1" fill="rgb(169,169,169)"/>
<rect x="412.8" y="369.9" width="1" height="1" fill="rgb(122,122,122)"/>
<rect x="417.8" y="368.4" width="1" height="1" fill="rgb(153,153,153)"/>
<rect x="419.9" y="370.0" width="1" height="1" fill="rgb(127,127,127)"/>
<rect x="419.6" y="368.0" width="1" height="1" fill="rgb(163,163,163)"/>
<rect x="418.7" y="369.1" width="1" height="1" fill="rgb(174,174,174)"/>
<rect x="415.9" y="369.3" width="1" height="1" fill="rgb(123,123,123)"/>
<rect x="414.1" y="371.0" width="1" height="1" fill="rgb(131,131,131)"/>
<rect x="415.4" y="371.4" width="1" height="1" fill="rgb(137,137,137)"/>
<rect x="418.0" y="371.4" width="1" height="1" fill="rgb(145,145,145)"/>
<rect x="412.1" y="367.0" width="1" height="1" fill="rgb(136,136,136)"/>
<rect x="418.2" y="374.4" width="1" height="1" fill="rgb(113,113,113)"/>
<rect x="415.5" y="371.2" width="1" height="1" fill="rgb(133,133,133)"/>
<rect x="418.0" y="373.4" width="1" height="1" fill="rgb(126,126,126)"/>
<rect x="412.6" y="367.8" width="1" height="1" fill="rgb(114,114,114)"/>
<rect x="415.0" y="369.3" width="1" height="1" fill="rgb(142,142,142)"/>
<rect x="415.8" y="364.1" width="1" height="1" fill="rgb(170,170,170)"/>
<rect x="419.0" y="370.5" width="1" height="1" fill="rgb(151,151,151)"/>
<rect x="411.4" y="372.9" width="1" height="1" fill="rgb(139,139,139)"/>
<rect x="417.3" y="368.1" width="1" height="1" fill="rgb(132,132,132)"/>
<rect x="414.6" y="364.5" width="1" height="1" fill="rgb(139,139,139)"/>
<rect x="419.7" y="365.7" width="1" height="1" fill="rgb(133,133,133)"/>
<rect x="415.6" y="366.0" width="1" height="1" fill="rgb(112,112,112)"/>
<rect x="421.2" y="366.1" width="1" height="1" fill="rgb(167,167,167)"/>
<rect x="417.0" y="372.9" width="1" height="1" fill="rgb(107,107,107)"/>
<rect x="414.0" y="368.8" width="1" height="1" fill="rgb(140,140,140)"/>
<rect x="413.7" y="370.8" width="1" height="1" fill="rgb(135,135,135)"/>
<rect x="416.7" y="365.3" width="1" height="1" fill="rgb(124,124,124)"/>
<rect x="417.2" y="370.5" width="1" height="1" fill="rgb(127,127,127)"/>
<rect x="413.3" y="370.1" width="1" height="1" fill="rgb(158,158,158)"/>
<rect x="418.8" y="368.6" width="1" height="1" fill="rgb(125,125,125)"/>
<rect x="416.1" y="368.8" width="1" height="1" fill="rgb(149,149,149)"/>
<rect x="420.4" y="369.6" width="1" height="1" fill="rgb(146,146,146)"/>
<rect x="409.7" y="373.7" width="1" height="1" fill="rgb(126,126,126)"/>
<rect x="417.9" y="368.9" width="1" height="1" fill="rgb(121,121,121)"/>
<rect x="416.1" y="364.9" width="1" height="1" fill="rgb(129,129,129)"/>
<rect x="417.8" y="367.8" width="1" height="1" fill="rgb(120,120,120)"/>
<rect x="413.2" y="367.5" width="1" height="1" fill="rgb(160,160,160)"/>
<rect x="414.2" y="373.6" width="1" height="1" fill="rgb(149,149,149)"/>
<rect x="415.0" y="365.9" width="1" height="1" fill="rgb(119,119,119)"/>
<rect x="409.9" y="366.6" width="1" height="1" fill="rgb(106,106,106)"/>
<rect x="415.3" y="370.6" width="1" height="1" fill="rgb(122,122,122)"/>
<rect x="417.1" y="365.4" width="1" height="1" fill="rgb(114,114,114)"/>
<rect x="414.8" y="364.1" width="1" height="1" fill="rgb(109,109,109)"/>
<rect x="420.5" y="369.2" width="1" height="1" fill="rgb(166,166,166)"/>
<rect x="413.1" y="367.9" width="1" height="1" fill="rgb(133,133,133)"/>
<rect x="410.5" y="366.6" width="1" height="1" fill="rgb(146,146,146)"/>
<rect x="416.4" y="366.1" width="1" height="1" fill="rgb(166,166,166)"/>
<rect x="416.9" y="366.0" width="1" height="1" fill="rgb(126,126,126)"/>
<rect x="413.9" y="375.1" width="1" height="1" fill="rgb(149,149,149)"/>
<rect x="419.8" y="370.1" width="1" height="1" fill="rgb(134,134,134)"/>
<rect x="414.5" y="367.7" width="1" height="1" fill="rgb(168,168,168)"/>
<rect x="410.9" y="369.3" width="1" height="1" fill="rgb(123,123,123)"/>
<rect x="419.4" y="366.8" width="1" height="1" fill="rgb(143,143,143)"/>
<rect x="409.9" y="371.1" width="1" height="1" fill="rgb(144,144,144)"/>
<rect x="413.7" y="368.3" width="1" height="1" fill="rgb(137,137,137)"/>
<rect x="416.1" y="371.4" width="1" height="1" fill="rgb(123,123,123)"/>
<rect x="419.0" y="369.9" width="1" height="1" fill="rgb(106,106,106)"/>
<rect x="415.8" y="367.9" width="1" height="1" fill="rgb(168,168,168)"/>
<rect x="415.5" y="370.5" width="1" height="1" fill="rgb(143,143,143)"/>
<rect x="415.3" y="372.5" width="1" height="1" fill="rgb(126,126,126)"/>
<rect x="417.3" y="368.5" width="1" height="1" fill="rgb(108,108,108)"/>
<rect x="419.9" y="366.3" width="1" height="1" fill="rgb(123,123,123)"/>
<rect x="414.7" y="367.0" width="1" height="1" fill="rgb(140,140,140)"/>
<rect x="415.9" y="371.8" width="1" height="1" fill="rgb(150,150,150)"/>
<rect x="417.8" y="367.3" width="1" height="1" fill="rgb(144,144,144)"/>
<rect x="410.9" y="366.8" width="1" height="1" fill="rgb(138,138,138)"/>
<rect x="439.3" y="411.7" width="1" height="1" fill="rgb(184,184,184)"/>
<rect x="435.0" y="406.8" width="1" height="1" fill="rgb(167,167,167)"/>
<rect x="435.9" y="400.7" width="1" height="1" fill="rgb(170,170,170)"/>
<rect x="434.7" y="416.1" width="1" height="1" fill="rgb(197,197,197)"/>
<rect x="439.8" y="393.4" width="1" height="1" fill="rgb(150,150,150)"/>
<rect x="436.1" y="402.3" width="1" height="1" fill="rgb(165,165,165)"/>
<rect x="433.6" y="398.4" width="1" height="1" fill="rgb(201,201,201)"/>
<rect x="432.8" y="395.9" width="1" height="1" fill="rgb(157,157,157)"/>
<rect x="435.1" y="391.4" width="1" height="1" fill="rgb(193,193,193)"/>
<rect x="434.1" y="404.7" width="1" height="1" fill="rgb(204,204,204)"/>
<rect x="432.6" y="397.6" width="1" height="1" fill="rgb(192,192,192)"/>
<rect x="434.8" y="402.0" width="1" height="1" fill="rgb(155,155,155)"/>
<rect x="429.8" y="399.1" width="1" height="1" fill="rgb(152,152,152)"/>
<rect x="441.5" y="396.1" width="1" height="1" fill="rgb(158,158,158)"/>
<rect x="432.6" y="398.8" width="1" height="1" fill="rgb(176,176,176)"/>
<rect x="435.5" y="398.8" width="1" height="1" fill="rgb(184,184,184)"/>
<rect x="437.6" y="394.1" width="1" height="1" fill="rgb(205,205,205)"/>
<rect x="435.8" y="405.8" width="1" height="1" fill="rgb(152,152,152)"/>
<rect x="434.5" y="405.6" width="1" height="1" fill="rgb(200,200,200)"/>
<rect x="431.4" y="398.9" width="1" height="1" fill="rgb(160,160,160)"/>
<rect x="434.5" y="415.5" width="1" height="1" fill="rgb(195,195,195)"/>
<rect x="438.1" y="408.9" width="1" height="1" fill="rgb(207,207,207)"/>
<rect x="439.0" y="411.9" width="1" height="1" fill="rgb(176,176,176)"/>
<rect x="436.4" y="399.6" width="1" height="1" fill="rgb(154,154,154)"/>
<rect x="439.9" y="400.3" width="1" height="1" fill="rgb(206,206,206)"/>
<rect x="444.3" y="399.9" width="1" height="1" fill="rgb(209,209,209)"/>
<rect x="441.5" y="399.5" width="1" height="1" fill="rgb(166,166,166)"/>
<rect x="436.6" y="415.1" width="1" height="1" fill="rgb(170,170,170)"/>
<rect x="435.0" y="412.2" width="1" height="1" fill="rgb(198,198,198)"/>
<rect x="437.1" y="387.3" width="1" height="1" fill="rgb(168,168,168)"/>
<rect x="438.9" y="394.8" width="1" height="1" fill="rgb(162,162,162)"/>
<rect x="435.6" y="398.7" width="1" height="1" fill="rgb(196,196,196)"/>
<rect x="427.6" y="392.5" width="1" height="1" fill="rgb(180,180,180)"/>
<rect x="433.6" y="399.2" width="1" height="1" fill="rgb(205,205,205)"/>
<rect x="441.8" y="392.1" width="1" height="1" fill="rgb(214,214,214)"/>
<rect x="439.3" y="414.4" width="1" height="1" fill="rgb(171,171,171)"/>
<rect x="437.4" y="390.9" width="1" height="1" fill="rgb(211,211,211)"/>
<rect x="436.6" y="401.9" width="1" height="1" fill="rgb(181,181,181)"/>
<rect x="434.5" y="391.9" width="1" height="1" fill="rgb(154,154,154)"/>
<rect x="432.2" y="398.3" width="1" height="1" fill="rgb(169,169,169)"/>
<rect x="434.6" y="391.1" width="1" height="1" fill="rgb(152,152,152)"/>
<rect x="435.7" y="393.6" width="1" height="1" fill="rgb(159,159,159)"/>
<rect x="439.5" y="406.0" width="1" height="1" fill="rgb(210,210,210)"/>
<rect x="437.0" y="398.9" width="1" height="1" fill="rgb(182,182,182)"/>
<rect x="442.9" y="394.3" width="1" height="1" fill="rgb(194,194,194)"/>
<rect x="434.0" y="393.6" width="1" height="1" fill="rgb(198,198,198)"/>
<rect x="432.3" y="388.6" width="1" height="1" fill="rgb(196,196,196)"/>
<rect x="433.5" y="399.1" width="1" height="1" fill="rgb(200,200,200)"/>
<rect x="437.5" y="398.8" width="1" height="1" fill="rgb(213,213,213)"/>
<rect x="438.0" y="412.7" width="1" height="1" fill="rgb(156,156,156)"/>
<rect x="435.5" y="409.3" width="1" height="1" fill="rgb(168,168,168)"/>
<rect x="430.0" y="394.8" width="1" height="1" fill="rgb(158,158,158)"/>
<rect x="436.6" y="394.6" width="1" height="1" fill="rgb(154,154,154)"/>
<rect x="436.6" y="386.7" width="1" height="1" fill="rgb(204,204,204)"/>
<rect x="437.9" y="386.1" width="1" height="1" fill="rgb(158,158,158)"/>
<rect x="435.6" y="414.4" width="1" height="1" fill="rgb(205,205,205)"/>
<rect x="437.0" y="397.3" width="1" height="1" fill="rgb(152,152,152)"/>
<rect x="439.8" y="404.3" width="1" height="1" fill="rgb(186,186,186)"/>
<rect x="424.2" y="393.4" width="1" height="1" fill="rgb(180,180,180)"/>
<rect x="438.4" y="401.0" width="1" height="1" fill="rgb(214,214,214)"/>
<rect x="438.0" y="407.6" width="1" height="1" fill="rgb(186,186,186)"/>
<rect x="433.8" y="414.9" width="1" height="1" fill="rgb(184,184,184)"/>
<rect x="434.1" y="407.5" width="1" height="1" fill="rgb(166,166,166)"/>
<rect x="436.7" y="408.9" width="1" height="1" fill="rgb(180,180,180)"/>
<rect x="445.5" y="397.4" width="1" height="1" fill="rgb(190,190,190)"/>
<rect x="433.7" y="392.1" width="1" height="1" fill="rgb(154,154,154)"/>
<rect x="439.7" y="408.7" width="1" height="1" fill="rgb(195,195,195)"/>
<rect x="435.6" y="391.3" width="1" height="1" fill="rgb(157,157,157)"/>
<rect x="437.6" y="404.2" width="1" height="1" fill="rgb(172,172,172)"/>
<rect x="437.0" y="410.9" width="1" height="1" fill="rgb(154,154,154)"/>
<rect x="435.1" y="399.1" width="1" height="1" fill="rgb(170,170,170)"/>
<rect x="437.5" y="409.7" width="1" height="1" fill="rgb(201,201,201)"/>
<rect x="434.7" y="390.3" width="1" height="1" fill="rgb(204,204,204)"/>
<rect x="435.3" y="395.3" width="1" height="1" fill="rgb(214,214,214)"/>
<rect x="435.6" y="390.9" width="1" height="1" fill="rgb(151,151,151)"/>
<rect x="435.1" y="391.3" width="1" height="1" fill="rgb(151,151,151)"/>
<rect x="441.0" y="396.2" width="1" height="1" fill="rgb(159,159,159)"/>
<rect x="437.5" y="406.1" width="1" height="1" fill="rgb(213,213,213)"/>
<rect x="438.0" y="417.6" width="1" height="1" fill="rgb(163,163,163)"/>
<rect x="435.7" y="387.6" width="1" height="1" fill="rgb(167,167,167)"/>
<rect x="432.2" y="407.6" width="1" height="1" fill="rgb(170,170,170)"/>
<rect x="436.7" y="405.6" width="1" height="1" fill="rgb(157,157,157)"/>
<rect x="436.1" y="412.5" width="1" height="1" fill="rgb(158,158,158)"/>
<rect x="427.9" y="400.7" width="1" height="1" fill="rgb(191,191,191)"/>
<rect x="438.3" y="393.4" width="1" height="1" fill="rgb(153,153,153)"/>
<rect x="442.1" y="401.4" width="1" height="1" fill="rgb(207,207,207)"/>
<rect x="432.4" y="391.6" width="1" height="1" fill="rgb(207,207,207)"/>
<rect x="435.9" y="396.5" width="1" height="1" fill="rgb(204,204,204)"/>
<rect x="432.8" y="405.4" width="1" height="1" fill="rgb(175,175,175)"/>
<rect x="430.5" y="395.1" width="1" height="1" fill="rgb(201,201,201)"/>
<rect x="437.2" y="391.3" width="1" height="1" fill="rgb(156,156,156)"/>
<rect x="432.6" y="392.4" width="1" height="1" fill="rgb(185,185,185)"/>
<rect x="433.3" y="415.4" width="1" height="1" fill="rgb(159,159,159)"/>
<rect x="436.9" y="397.2" width="1" height="1" fill="rgb(166,166,166)"/>
<rect x="432.3" y="405.5" width="1" height="1" fill="rgb(158,158,158)"/>
<rect x="437.5" y="395.6" width="1" height="1" fill="rgb(187,187,187)"/>
<rect x="437.4" y="395.3" width="1" height="1" fill="rgb(153,153,153)"/>
<rect x="436.9" y="391.4" width="1" height="1" fill="rgb(182,182,182)"/>
<rect x="438.7" y="398.9" width="1" height="1" fill="rgb(209,209,209)"/>
<rect x="436.6" y="399.4" width="1" height="1" fill="rgb(173,173,173)"/>
<rect x="434.3" y="399.6" width="1" height="1" fill="rgb(181,181,181)"/>
<rect x="437.1" y="393.0" width="1" height="1" fill="rgb(178,178,178)"/>
<rect x="441.9" y="403.5" width="1" height="1" fill="rgb(198,198,198)"/>
<rect x="437.9" y="408.4" width="1" height="1" fill="rgb(202,202,202)"/>
<rect x="442.2" y="398.4" width="1" height="1" fill="rgb(176,176,176)"/>
<rect x="431.2" y="394.2" width="1" height="1" fill="rgb(190,190,190)"/>
<rect x="434.6" y="417.7" width="1" height="1" fill="rgb(202,202,202)"/>
<rect x="429.7" y="399.0" width="1" height="1" fill="rgb(184,184,184)"/>
<rect x="431.1" y="398.8" width="1" height="1" fill="rgb(150,150,150)"/>
<rect x="439.3" y="396.3" width="1" height="1" fill="rgb(184,184,184)"/>
<rect x="434.6" y="408.4" width="1" height="1" fill="rgb(211,211,211)"/>
<rect x="439.5" y="391.4" width="1" height="1" fill="rgb(165,165,165)"/>
<rect x="433.5" y="407.0" width="1" height="1" fill="rgb(165,165,165)"/>
<rect x="435.0" y="406.9" width="1" height="1" fill="rgb(198,198,198)"/>
<rect x="436.8" y="417.8" width="1" height="1" fill="rgb(166,166,166)"/>
<rect x="436.1" y="394.5" width="1" height="1" fill="rgb(201,201,201)"/>
<rect x="439.7" y="395.3" width="1" height="1" fill="rgb(163,163,163)"/>
<rect x="437.6" y="405.3" width="1" height="1" fill="rgb(187,187,187)"/>
<rect x="436.8" y="405.5" width="1" height="1" fill="rgb(207,207,207)"/>
<rect x="435.3" y="403.1" width="1" height="1" fill="rgb(151,151,151)"/>
<rect x="440.9" y="395.9" width="1" height="1" fill="rgb(193,193,193)"/>
<rect x="435.5" y="415.4" width="1" height="1" fill="rgb(176,176,176)"/>
<rect x="432.8" y="403.2" width="1" height="1" fill="rgb(185,185,185)"/>
<rect x="435.4" y="395.8" width="1" height="1" fill="rgb(209,209,209)"/>
<rect x="440.5" y="413.0" width="1" height="1" fill="rgb(152,152,152)"/>
<rect x="434.9" y="400.2" width="1" height="1" fill="rgb(185,185,185)"/>
<rect x="439.7" y="406.1" width="1" height="1" fill="rgb(209,209,209)"/>
<rect x="437.1" y="388.3" width="1" height="1" fill="rgb(212,212,212)"/>
<rect x="433.2" y="403.5" width="1" height="1" fill="rgb(201,201,201)"/>
<rect x="433.7" y="400.5" width="1" height="1" fill="rgb(204,204,204)"/>
<rect x="434.9" y="415.1" width="1" height="1" fill="rgb(180,180,180)"/>
<rect x="435.7" y="406.7" width="1" height="1" fill="rgb(158,158,158)"/>
<rect x="434.7" y="409.3" width="1" height="1" fill="rgb(164,164,164)"/>
<rect x="425.0" y="392.8" width="1" height="1" fill="rgb(214,214,214)"/>
<rect x="435.0" y="419.4" width="1" height="1" fill="rgb(180,180,180)"/>
<rect x="433.5" y="396.8" width="1" height="1" fill="rgb(207,207,207)"/>
<rect x="432.4" y="393.0" width="1" height="1" fill="rgb(157,157,157)"/>
<rect x="434.3" y="387.9" width="1" height="1" fill="rgb(200,200,200)"/>
<rect x="440.7" y="397.5" width="1" height="1" fill="rgb(193,193,193)"/>
<rect x="434.3" y="404.8" width="1" height="1" fill="rgb(151,151,151)"/>
<rect x="441.7" y="396.9" width="1" height="1" fill="rgb(154,154,154)"/>
<rect x="436.7" y="392.3" width="1" height="1" fill="rgb(186,186,186)"/>
<rect x="436.5" y="388.6" width="1" height="1" fill="rgb(206,206,206)"/>
<rect x="437.9" y="389.0" width="1" height="1" fill="rgb(160,160,160)"/>
<rect x="434.6" y="416.7" width="1" height="1" fill="rgb(196,196,196)"/>
<rect x="437.9" y="396.3" width="1" height="1" fill="rgb(210,210,210)"/>
<rect x="438.3" y="400.1" width="1" height="1" fill="rgb(152,152,152)"/>
<rect x="432.3" y="406.5" width="1" height="1" fill="rgb(210,210,210)"/>
<rect x="438.6" y="408.0" width="1" height="1" fill="rgb(195,195,195)"/>
<rect x="433.6" y="407.0" width="1" height="1" fill="rgb(166,166,166)"/>
<rect x="435.3" y="389.6" width="1" height="1" fill="rgb(193,193,193)"/>
<rect x="437.5" y="401.9" width="1" height="1" fill="rgb(151,151,151)"/>
<rect x="442.6" y="413.6" width="1" height="1" fill="rgb(203,203,203)"/>
<rect x="435.1" y="415.1" width="1" height="1" fill="rgb(202,202,202)"/>
<rect x="437.5" y="391.4" width="1" height="1" fill="rgb(176,176,176)"/>
<rect x="432.5" y="402.2" width="1" height="1" fill="rgb(165,165,165)"/>
<rect x="435.6" y="390.2" width="1" height="1" fill="rgb(187,187,187)"/>
<rect x="432.8" y="416.0" width="1" height="1" fill="rgb(193,193,193)"/>
<rect x="437.8" y="409.0" width="1" height="1" fill="rgb(212,212,212)"/>
<rect x="432.7" y="401.7" width="1" height="1" fill="rgb(188,188,188)"/>
<rect x="438.5" y="388.3" width="1" height="1" fill="rgb(213,213,213)"/>
<rect x="439.1" y="391.4" width="1" height="1" fill="rgb(151,151,151)"/>
<rect x="442.3" y="403.0" width="1" height="1" fill="rgb(200,200,200)"/>
<rect x="435.1" y="394.6" width="1" height="1" fill="rgb(188,188,188)"/>
<rect x="444.8" y="394.0" width="1" height="1" fill="rgb(202,202,202)"/>
<rect x="434.7" y="390.5" width="1" height="1" fill="rgb(209,209,209)"/>
<rect x="433.9" y="412.9" width="1" height="1" fill="rgb(191,191,191)"/>
<rect x="437.9" y="407.0" width="1" height="1" fill="rgb(179,179,179)"/>
<rect x="437.5" y="419.4" width="1" height="1" fill="rgb(190,190,190)"/>
<rect x="437.6" y="388.2" width="1" height="1" fill="rgb(185,185,185)"/>
<rect x="432.7" y="402.0" width="1" height="1" fill="rgb(202,202,202)"/>
<rect x="433.1" y="410.8" width="1" height="1" fill="rgb(170,170,170)"/>
<rect x="437.9" y="395.3" width="1" height="1" fill="rgb(209,209,209)"/>
<rect x="433.0" y="393.5" width="1" height="1" fill="rgb(203,203,203)"/>
<rect x="435.4" y="404.6" width="1" height="1" fill="rgb(163,163,163)"/>
<rect x="436.5" y="394.7" width="1" height="1" fill="rgb(168,168,168)"/>
<rect x="436.8" y="408.5" width="1" height="1" fill="rgb(176,176,176)"/>
<rect x="436.9" y="392.0" width="1" height="1" fill="rgb(154,154,154)"/>
<rect x="433.3" y="386.8" width="1" height="1" fill="rgb(154,154,154)"/>
<rect x="436.9" y="400.5" width="1" height="1" fill="rgb(168,168,168)"/>
<rect x="437.7" y="400.5" width="1" height="1" fill="rgb(201,201,201)"/>
<rect x="436.0" y="395.9" width="1" height="1" fill="rgb(162,162,162)"/>
<rect x="433.4" y="393.9" width="1" height="1" fill="rgb(211,211,211)"/>
<rect x="434.2" y="405.5" width="1" height="1" fill="rgb(196,196,196)"/>
<rect x="434.1" y="404.9" width="1" height="1" fill="rgb(159,159,159)"/>
<rect x="438.7" y="412.2" width="1" height="1" fill="rgb(185,185,185)"/>
<rect x="434.0" y="400.0" width="1" height="1" fill="rgb(185,185,185)"/>
<rect x="434.4" y="400.5" width="1" height="1" fill="rgb(190,190,190)"/>
<rect x="432.7" y="389.2" width="1" height="1" fill="rgb(205,205,205)"/>
<rect x="427.9" y="401.1" width="1" height="1" fill="rgb(205,205,205)"/>
<rect x="433.2" y="392.8" width="1" height="1" fill="rgb(189,189,189)"/>
<rect x="433.6" y="393.5" width="1" height="1" fill="rgb(205,205,205)"/>
<rect x="439.7" y="413.0" width="1" height="1" fill="rgb(201,201,201)"/>
<rect x="438.1" y="402.2" width="1" height="1" fill="rgb(195,195,195)"/>
<rect x="437.3" y="387.5" width="1" height="1" fill="rgb(155,155,155)"/>
<rect x="432.5" y="395.3" width="1" height="1" fill="rgb(155,155,155)"/>
<rect x="437.6" y="386.0" width="1" height="1" fill="rgb(198,198,198)"/>
<rect x="432.5" y="393.2" width="1" height="1" fill="rgb(213,213,213)"/>
<rect x="433.2" y="396.9" width="1" height="1" fill="rgb(174,174,174)"/>
<rect x="447.2" y="404.1" width="1" height="1" fill="rgb(172,172,172)"/>
<rect x="443.3" y="401.0" width="1" height="1" fill="rgb(152,152,152)"/>
<rect x="434.2" y="401.1" width="1" height="1" fill="rgb(156,156,156)"/>
<rect x="437.2" y="404.3" width="1" height="1" fill="rgb(191,191,191)"/>
<rect x="438.1" y="412.9" width="1" height="1" fill="rgb(179,179,179)"/>
<rect x="431.3" y="387.1" width="1" height="1" fill="rgb(213,213,213)"/>
<rect x="435.4" y="386.8" width="1" height="1" fill="rgb(207,207,207)"/>
<rect x="430.8" y="399.5" width="1" height="1" fill="rgb(179,179,179)"/>
<rect x="435.3" y="393.9" width="1" height="1" fill="rgb(155,155,155)"/>
<rect x="436.5" y="401.0" width="1" height="1" fill="rgb(157,157,157)"/>
<rect x="439.7" y="403.1" width="1" height="1" fill="rgb(176,176,176)"/>
<rect x="438.3" y="394.8" width="1" height="1" fill="rgb(210,210,210)"/>
<rect x="435.8" y="398.0" width="1" height="1" fill="rgb(159,159,159)"/>
<rect x="437.5" y="399.2" width="1" height="1" fill="rgb(168,168,168)"/>
<rect x="428.2" y="393.6" width="1" height="1" fill="rgb(180,180,180)"/>
<rect x="435.3" y="400.8" width="1" height="1" fill="rgb(211,211,211)"/>
<rect x="440.6" y="395.8" width="1" height="1" fill="rgb(185,185,185)"/>
<rect x="436.3" y="400.9" width="1" height="1" fill="rgb(169,169,169)"/>
<rect x="431.0" y="398.9" width="1" height="1" fill="rgb(202,202,202)"/>
<rect x="434.5" y="392.7" width="1" height="1" fill="rgb(154,154,154)"/>
<rect x="436.2" y="389.6" width="1" height="1" fill="rgb(209,209,209)"/>
<rect x="436.9" y="387.5" width="1" height="1" fill="rgb(179,179,179)"/>
<rect x="441.9" y="414.1" width="1" height="1" fill="rgb(188,188,188)"/>
<rect x="429.8" y="393.6" width="1" height="1" fill="rgb(161,161,161)"/>
<rect x="443.8" y="392.9" width="1" height="1" fill="rgb(171,171,171)"/>
<rect x="432.8" y="412.1" width="1" height="1" fill="rgb(188,188,188)"/>
<rect x="436.5" y="401.7" width="1" height="1" fill="rgb(176,176,176)"/>
<rect x="436.6" y="393.1" width="1" height="1" fill="rgb(194,194,194)"/>
<rect x="437.9" y="412.8" width="1" height="1" fill="rgb(153,153,153)"/>
<rect x="432.5" y="396.3" width="1" height="1" fill="rgb(158,158,158)"/>
<rect x="434.7" y="400.8" width="1" height="1" fill="rgb(204,204,204)"/>
<rect x="441.4" y="405.5" width="1" height="1" fill="rgb(204,204,204)"/>
<rect x="436.4" y="391.1" width="1" height="1" fill="rgb(214,214,214)"/>
<rect x="433.6" y="395.2" width="1" height="1" fill="rgb(153,153,153)"/>
<rect x="435.2" y="405.8" width="1" height="1" fill="rgb(213,213,213)"/>
<rect x="428.2" y="398.2" width="1" height="1" fill="rgb(212,212,212)"/>
<rect x="440.3" y="392.4" width="1" height="1" fill="rgb(175,175,175)"/>
<rect x="433.6" y="402.3" width="1" height="1" fill="rgb(197,197,197)"/>
<rect x="441.5" y="396.9" width="1" height="1" fill="rgb(186,186,186)"/>
<rect x="438.2" y="392.9" width="1" height="1" fill="rgb(179,179,179)"/>
<rect x="435.1" y="388.2" width="1" height="1" fill="rgb(211,211,211)"/>
<rect x="435.3" y="391.8" width="1" height="1" fill="rgb(182,182,182)"/>
<rect x="437.2" y="408.6" width="1" height="1" fill="rgb(168,168,168)"/>
<rect x="436.4" y="389.8" width="1" height="1" fill="rgb(208,208,208)"/>
<rect x="436.2" y="403.2" width="1" height="1" fill="rgb(169,169,169)"/>
<rect x="436.5" y="398.3" width="1" height="1" fill="rgb(210,210,210)"/>
<rect x="438.3" y="398.1" width="1" height="1" fill="rgb(212,212,212)"/>
<rect x="434.3" y="386.8" width="1" height="1" fill="rgb(177,177,177)"/>
<rect x="441.3" y="395.9" width="1" height="1" fill="rgb(210,210,210)"/>
<rect x="437.1" y="389.3" width="1" height="1" fill="rgb(183,183,183)"/>
<rect x="434.7" y="399.3" width="1" height="1" fill="rgb(196,196,196)"/>
<rect x="435.1" y="398.6" width="1" height="1" fill="rgb(213,213,213)"/>
<rect x="435.6" y="401.4" width="1" height="1" fill="rgb(186,186,186)"/>
<rect x="436.3" y="406.7" width="1" height="1" fill="rgb(207,207,207)"/>
<rect x="436.7" y="397.6" width="1" height="1" fill="rgb(201,201,201)"/>
<rect x="432.3" y="403.4" width="1" height="1" fill="rgb(163,163,163)"/>
<rect x="441.1" y="397.6" width="1" height="1" fill="rgb(160,160,160)"/>
<rect x="437.4" y="394.3" width="1" height="1" fill="rgb(176,176,176)"/>
<rect x="437.7" y="398.3" width="1" height="1" fill="rgb(157,157,157)"/>
<rect x="435.3" y="395.9" width="1" height="1" fill="rgb(162,162,162)"/>
<rect x="434.2" y="400.9" width="1" height="1" fill="rgb(200,200,200)"/>
<rect x="434.6" y="395.4" width="1" height="1" fill="rgb(204,204,204)"/>
<rect x="432.1" y="403.5" width="1" height="1" fill="rgb(209,209,209)"/>
<rect x="438.9" y="388.8" width="1" height="1" fill="rgb(158,158,158)"/>
<rect x="438.9" y="405.4" width="1" height="1" fill="rgb(153,153,153)"/>
<rect x="438.2" y="399.9" width="1" height="1" fill="rgb(201,201,201)"/>
<rect x="440.4" y="401.1" width="1" height="1" fill="rgb(205,205,205)"/>
<rect x="434.7" y="409.5" width="1" height="1" fill="rgb(193,193,193)"/>
<rect x="436.4" y="404.3" width="1" height="1" fill="rgb(166,166,166)"/>
<rect x="443.8" y="397.0" width="1" height="1" fill="rgb(151,151,151)"/>
<rect x="432.3" y="404.0" width="1" height="1" fill="rgb(192,192,192)"/>
<rect x="436.3" y="392.6" width="1" height="1" fill="rgb(159,159,159)"/>
<rect x="438.2" y="386.2" width="1" height="1" fill="rgb(151,151,151)"/>
<rect x="437.6" y="389.2" width="1" height="1" fill="rgb(194,194,194)"/>
<rect x="439.3" y="401.9" width="1" height="1" fill="rgb(154,154,154)"/>
<rect x="435.6" y="397.9" width="1" height="1" fill="rgb(191,191,191)"/>
<rect x="436.3" y="404.7" width="1" height="1" fill="rgb(193,193,193)"/>
<rect x="432.4" y="400.0" width="1" height="1" fill="rgb(173,173,173)"/>
<rect x="437.9" y="389.9" width="1" height="1" fill="rgb(158,158,158)"/>
<rect x="441.9" y="401.6" width="1" height="1" fill="rgb(188,188,188)"/>
<rect x="433.6" y="403.5" width="1" height="1" fill="rgb(167,167,167)"/>
<rect x="429.8" y="403.6" width="1" height="1" fill="rgb(197,197,197)"/>
<rect x="438.6" y="394.8" width="1" height="1" fill="rgb(207,207,207)"/>
<rect x="433.3" y="392.2" width="1" height="1" fill="rgb(191,191,191)"/>
<rect x="439.0" y="393.1" width="1" height="1" fill="rgb(168,168,168)"/>
<rect x="433.4" y="387.3" width="1" height="1" fill="rgb(174,174,174)"/>
<rect x="433.5" y="406.7" width="1" height="1" fill="rgb(184,184,184)"/>
<rect x="439.8" y="404.7" width="1" height="1" fill="rgb(175,175,175)"/>
<rect x="434.0" y="390.3" width="1" height="1" fill="rgb(190,190,190)"/>
<rect x="440.0" y="389.9" width="1" height="1" fill="rgb(165,165,165)"/>
<rect x="436.4" y="406.5" width="1" height="1" fill="rgb(203,203,203)"/>
<rect x="433.6" y="404.0" width="1" height="1" fill="rgb(212,212,212)"/>
<rect x="436.4" y="405.9" width="1" height="1" fill="rgb(165,165,165)"/>
<rect x="434.6" y="391.4" width="1" height="1" fill="rgb(166,166,166)"/>
<rect x="440.5" y="389.6" width="1" height="1" fill="rgb(157,157,157)"/>
<rect x="436.3" y="410.7" width="1" height="1" fill="rgb(197,197,197)"/>
<rect x="435.1" y="411.8" width="1" height="1" fill="rgb(209,209,209)"/>
<rect x="441.6" y="399.3" width="1" height="1" fill="rgb(181,181,181)"/>
<rect x="434.9" y="391.6" width="1" height="1" fill="rgb(181,181,181)"/>
<rect x="436.1" y="390.8" width="1" height="1" fill="rgb(178,178,178)"/>
<rect x="433.4" y="392.2" width="1" height="1" fill="rgb(211,211,211)"/>
<rect x="442.1" y="397.5" width="1" height="1" fill="rgb(170,170,170)"/>
<rect x="440.6" y="394.6" width="1" height="1" fill="rgb(193,193,193)"/>
<rect x="443.9" y="397.8" width="1" height="1" fill="rgb(206,206,206)"/>
<rect x="438.3" y="410.4" width="1" height="1" fill="rgb(178,178,178)"/>
<rect x="433.0" y="388.1" width="1" height="1" fill="rgb(177,177,177)"/>
<rect x="429.6" y="401.6" width="1" height="1" fill="rgb(159,159,159)"/>
<rect x="440.1" y="394.6" width="1" height="1" fill="rgb(214,214,214)"/>
<rect x="435.8" y="399.9" width="1" height="1" fill="rgb(151,151,151)"/>
<rect x="436.8" y="393.8" width="1" height="1" fill="rgb(209,209,209)"/>
<rect x="436.7" y="404.3" width="1" height="1" fill="rgb(159,159,159)"/>
<rect x="444.3" y="399.1" width="1" height="1" fill="rgb(165,165,165)"/>
<rect x="440.5" y="398.0" width="1" height="1" fill="rgb(181,181,181)"/>
<rect x="439.6" y="400.0" width="1" height="1" fill="rgb(169,169,169)"/>
<rect x="430.9" y="408.9" width="1" height="1" fill="rgb(173,173,173)"/>
<rect x="433.8" y="404.0" width="1" height="1" fill="rgb(183,183,183)"/>
<rect x="434.3" y="392.5" width="1" height="1" fill="rgb(200,200,200)"/>
<rect x="433.4" y="398.7" width="1" height="1" fill="rgb(176,176,176)"/>
<rect x="438.7" y="399.6" width="1" height="1" fill="rgb(195,195,195)"/>
<rect x="441.1" y="405.5" width="1" height="1" fill="rgb(179,179,179)"/>
<rect x="434.1" y="409.8" width="1" height="1" fill="rgb(181,181,181)"/>
<rect x="432.2" y="394.1" width="1" height="1" fill="rgb(158,158,158)"/>
<rect x="433.5" y="399.3" width="1" height="1" fill="rgb(196,196,196)"/>
<rect x="441.7" y="398.8" width="1" height="1" fill="rgb(198,198,198)"/>
<rect x="430.5" y="408.5" width="1" height="1" fill="rgb(167,167,167)"/>
<rect x="431.4" y="405.4" width="1" height="1" fill="rgb(173,173,173)"/>
<rect x="437.1" y="387.7" width="1" height="1" fill="rgb(177,177,177)"/>
<rect x="436.6" y="398.6" width="1" height="1" fill="rgb(165,165,165)"/>
<rect x="431.7" y="397.6" width="1" height="1" fill="rgb(190,190,190)"/>
<rect x="437.4" y="392.5" width="1" height="1" fill="rgb(182,182,182)"/>
<rect x="433.3" y="414.5" width="1" height="1" fill="rgb(157,157,157)"/>
<rect x="435.2" y="401.4" width="1" height="1" fill="rgb(194,194,194)"/>
<rect x="436.2" y="395.5" width="1" height="1" fill="rgb(210,210,210)"/>
<rect x="438.9" y="408.0" width="1" height="1" fill="rgb(183,183,183)"/>
<rect x="439.8" y="411.4" width="1" height="1" fill="rgb(157,157,157)"/>
<rect x="433.8" y="407.3" width="1" height="1" fill="rgb(164,164,164)"/>
<rect x="438.6" y="394.6" width="1" height="1" fill="rgb(180,180,180)"/>
<rect x="436.4" y="408.6" width="1" height="1" fill="rgb(168,168,168)"/>
<rect x="434.5" y="410.1" width="1" height="1" fill="rgb(205,205,205)"/>
<rect x="439.0" y="392.5" width="1" height="1" fill="rgb(170,170,170)"/>
<rect x="435.1" y="388.3" width="1" height="1" fill="rgb(195,195,195)"/>
<rect x="432.9" y="391.4" width="1" height="1" fill="rgb(191,191,191)"/>
<rect x="437.1" y="402.5" width="1" height="1" fill="rgb(156,156,156)"/>
<rect x="440.2" y="408.9" width="1" height="1" fill="rgb(172,172,172)"/>
<rect x="440.3" y="393.7" width="1" height="1" fill="rgb(211,211,211)"/>
<rect x="434.2" y="387.7" width="1" height="1" fill="rgb(209,209,209)"/>
<rect x="435.8" y="392.9" width="1" height="1" fill="rgb(204,204,204)"/>
<rect x="435.2" y="394.5" width="1" height="1" fill="rgb(163,163,163)"/>
<rect x="444.2" y="400.5" width="1" height="1" fill="rgb(182,182,182)"/>
<rect x="437.6" y="410.7" width="1" height="1" fill="rgb(185,185,185)"/>
<rect x="434.8" y="406.5" width="1" height="1" fill="rgb(177,177,177)"/>
<rect x="441.6" y="396.2" width="1" height="1" fill="rgb(168,168,168)"/>
<rect x="442.7" y="392.1" width="1" height="1" fill="rgb(177,177,177)"/>
<rect x="438.7" y="410.0" width="1" height="1" fill="rgb(172,172,172)"/>
<rect x="441.6" y="400.6" width="1" height="1" fill="rgb(167,167,167)"/>
<rect x="431.2" y="390.6" width="1" height="1" fill="rgb(151,151,151)"/>
<rect x="435.7" y="412.7" width="1" height="1" fill="rgb(154,154,154)"/>
<rect x="431.5" y="399.4" width="1" height="1" fill="rgb(199,199,199)"/>
<rect x="436.8" y="390.2" width="1" height="1" fill="rgb(189,189,189)"/>
<rect x="442.5" y="403.0" width="1" height="1" fill="rgb(156,156,156)"/>
<rect x="436.6" y="394.8" width="1" height="1" fill="rgb(181,181,181)"/>
<rect x="435.8" y="408.5" width="1" height="1" fill="rgb(205,205,205)"/>
<rect x="425.5" y="403.1" width="1" height="1" fill="rgb(202,202,202)"/>
<rect x="432.9" y="393.3" width="1" height="1" fill="rgb(169,169,169)"/>
<rect x="442.0" y="403.2" width="1" height="1" fill="rgb(205,205,205)"/>
<rect x="434.1" y="389.0" width="1" height="1" fill="rgb(210,210,210)"/>
<rect x="436.3" y="406.3" width="1" height="1" fill="rgb(183,183,183)"/>
<rect x="433.2" y="395.0" width="1" height="1" fill="rgb(165,165,165)"/>
<rect x="432.0" y="406.4" width="1" height="1" fill="rgb(154,154,154)"/>
<rect x="436.4" y="409.5" width="1" height="1" fill="rgb(150,150,150)"/>
<rect x="434.0" y="411.6" width="1" height="1" fill="rgb(189,189,189)"/>
<rect x="434.9" y="389.1" width="1" height="1" fill="rgb(200,200,200)"/>
<rect x="430.9" y="392.3" width="1" height="1" fill="rgb(150,150,150)"/>
<rect x="434.8" y="393.0" width="1" height="1" fill="rgb(178,178,178)"/>
<rect x="431.2" y="410.3" width="1" height="1" fill="rgb(187,187,187)"/>
<rect x="433.0" y="416.4" width="1" height="1" fill="rgb(190,190,190)"/>
<rect x="442.1" y="397.8" width="1" height="1" fill="rgb(195,195,195)"/>
<rect x="436.7" y="395.7" width="1" height="1" fill="rgb(187,187,187)"/>
<rect x="429.2" y="406.2" width="1" height="1" fill="rgb(154,154,154)"/>
<rect x="440.5" y="406.2" width="1" height="1" fill="rgb(189,189,189)"/>
<rect x="435.3" y="393.9" width="1" height="1" fill="rgb(164,164,164)"/>
<rect x="433.1" y="393.5" width="1" height="1" fill="rgb(173,173,173)"/>
<rect x="438.7" y="418.0" width="1" height="1" fill="rgb(158,158,158)"/>
<rect x="435.6" y="388.0" width="1" height="1" fill="rgb(208,208,208)"/>
<rect x="435.2" y="419.6" width="1" height="1" fill="rgb(163,163,163)"/>
<rect x="433.9" y="397.9" width="1" height="1" fill="rgb(183,183,183)"/>
<rect x="437.7" y="404.3" width="1" height="1" fill="rgb(150,150,150)"/>
<rect x="433.3" y="408.1" width="1" height="1" fill="rgb(185,185,185)"/>
<rect x="434.1" y="406.4" width="1" height="1" fill="rgb(178,178,178)"/>
<rect x="429.7" y="388.4" width="1" height="1" fill="rgb(201,201,201)"/>
<rect x="429.6" y="393.0" width="1" height="1" fill="rgb(176,176,176)"/>
<rect x="436.5" y="401.2" width="1" height="1" fill="rgb(167,167,167)"/>
<rect x="440.4" y="414.5" width="1" height="1" fill="rgb(165,165,165)"/>
<rect x="435.4" y="404.0" width="1" height="1" fill="rgb(212,212,212)"/>
<rect x="435.7" y="388.3" width="1" height="1" fill="rgb(156,156,156)"/>
<rect x="430.7" y="394.7" width="1" height="1" fill="rgb(205,205,205)"/>
<rect x="439.4" y="401.2" width="1" height="1" fill="rgb(209,209,209)"/>
<rect x="434.2" y="392.6" width="1" height="1" fill="rgb(213,213,213)"/>
<rect x="441.8" y="408.7" width="1" height="1" fill="rgb(210,210,210)"/>
<rect x="431.1" y="390.9" width="1" height="1" fill="rgb(161,161,161)"/>
<rect x="437.9" y="407.8" width="1" height="1" fill="rgb(204,204,204)"/>
<rect x="435.0" y="413.9" width="1" height="1" fill="rgb(205,205,205)"/>
<rect x="440.6" y="391.5" width="1" height="1" fill="rgb(195,195,195)"/>
<rect x="435.6" y="407.7" width="1" height="1" fill="rgb(161,161,161)"/>
<rect x="435.0" y="415.3" width="1" height="1" fill="rgb(205,205,205)"/>
<rect x="435.9" y="413.3" width="1" height="1" fill="rgb(212,212,212)"/>
<rect x="443.3" y="402.9" width="1" height="1" fill="rgb(157,157,157)"/>
<rect x="440.7" y="404.1" width="1" height="1" fill="rgb(171,171,171)"/>
<rect x="435.0" y="393.6" width="1" height="1" fill="rgb(152,152,152)"/>
<rect x="436.0" y="409.5" width="1" height="1" fill="rgb(157,157,157)"/>
<rect x="436.8" y="403.8" width="1" height="1" fill="rgb(153,153,153)"/>
<rect x="433.5" y="399.6" width="1" height="1" fill="rgb(211,211,211)"/>
<rect x="439.5" y="400.6" width="1" height="1" fill="rgb(204,204,204)"/>
<rect x="436.1" y="405.9" width="1" height="1" fill="rgb(202,202,202)"/>
<rect x="432.2" y="392.2" width="1" height="1" fill="rgb(208,208,208)"/>
<rect x="432.5" y="411.6" width="1" height="1" fill="rgb(154,154,154)"/>
<rect x="429.2" y="391.5" width="1" height="1" fill="rgb(213,213,213)"/>
<rect x="435.1" y="394.5" width="1" height="1" fill="rgb(199,199,199)"/>
<rect x="434.7" y="394.0" width="1" height="1" fill="rgb(201,201,201)"/>
<rect x="434.8" y="398.2" width="1" height="1" fill="rgb(206,206,206)"/>
<rect x="438.5" y="415.8" width="1" height="1" fill="rgb(177,177,177)"/>
<rect x="435.6" y="418.9" width="1" height="1" fill="rgb(190,190,190)"/>
<rect x="436.7" y="394.8" width="1" height="1" fill="rgb(200,200,200)"/>
<rect x="434.4" y="390.5" width="1" height="1" fill="rgb(197,197,197)"/>
<rect x="434.3" y="402.8" width="1" height="1" fill="rgb(166,166,166)"/>
<rect x="437.5" y="405.2" width="1" height="1" fill="rgb(179,179,179)"/>
<rect x="437.4" y="388.7" width="1" height="1" fill="rgb(166,166,166)"/>
<rect x="436.9" y="387.3" width="1" height="1" fill="rgb(196,196,196)"/>
<rect x="436.5" y="388.8" width="1" height="1" fill="rgb(176,176,176)"/>
<rect x="439.3" y="393.4" width="1" height="1" fill="rgb(151,151,151)"/>
<rect x="437.6" y="413.4" width="1" height="1" fill="rgb(190,190,190)"/>
<rect x="429.4" y="402.1" width="1" height="1" fill="rgb(155,155,155)"/>
<rect x="431.1" y="402.7" width="1" height="1" fill="rgb(179,179,179)"/>
<rect x="435.9" y="393.0" width="1" height="1" fill="rgb(162,162,162)"/>
<rect x="438.3" y="402.9" width="1" height="1" fill="rgb(184,184,184)"/>
<rect x="439.1" y="391.3" width="1" height="1" fill="rgb(162,162,162)"/>
<rect x="438.5" y="402.3" width="1" height="1" fill="rgb(154,154,154)"/>
<rect x="433.4" y="397.7" width="1" height="1" fill="rgb(194,194,194)"/>
<rect x="433.7" y="409.0" width="1" height="1" fill="rgb(183,183,183)"/>
<rect x="438.0" y="395.2" width="1" height="1" fill="rgb(165,165,165)"/>
<rect x="431.7" y="389.3" width="1" height="1" fill="rgb(184,184,184)"/>
<rect x="428.5" y="396.6" width="1" height="1" fill="rgb(157,157,157)"/>
<rect x="433.2" y="405.0" width="1" height="1" fill="rgb(168,168,168)"/>
<rect x="434.2" y="413.6" width="1" height="1" fill="rgb(201,201,201)"/>
<rect x="438.6" y="390.3" width="1" height="1" fill="rgb(192,192,192)"/>
<rect x="437.2" y="393.5" width="1" height="1" fill="rgb(210,210,210)"/>
<rect x="439.6" y="389.1" width="1" height="1" fill="rgb(166,166,166)"/>
<rect x="433.1" y="403.3" width="1" height="1" fill="rgb(203,203,203)"/>
<rect x="440.8" y="400.7" width="1" height="1" fill="rgb(173,173,173)"/>
<rect x="436.7" y="404.0" width="1" height="1" fill="rgb(200,200,200)"/>
<rect x="438.8" y="389.5" width="1" height="1" fill="rgb(201,201,201)"/>
<rect x="434.5" y="410.3" width="1" height="1" fill="rgb(189,189,189)"/>
<rect x="432.1" y="404.4" width="1" height="1" fill="rgb(206,206,206)"/>
<rect x="434.4" y="391.2" width="1" height="1" fill="rgb(212,212,212)"/>
<rect x="436.4" y="407.0" width="1" height="1" fill="rgb(172,172,172)"/>
<rect x="447.1" y="394.4" width="1" height="1" fill="rgb(204,204,204)"/>
<rect x="438.1" y="385.9" width="1" height="1" fill="rgb(154,154,154)"/>
<rect x="435.9" y="399.5" width="1" height="1" fill="rgb(181,181,181)"/>
<rect x="435.5" y="406.6" width="1" height="1" fill="rgb(151,151,151)"/>
<rect x="438.4" y="392.4" width="1" height="1" fill="rgb(174,174,174)"/>
<rect x="430.2" y="397.3" width="1" height="1" fill="rgb(192,192,192)"/>
<rect x="434.3" y="391.2" width="1" height="1" fill="rgb(195,195,195)"/>
<rect x="439.4" y="400.3" width="1" height="1" fill="rgb(155,155,155)"/>
<rect x="430.6" y="394.5" width="1" height="1" fill="rgb(209,209,209)"/>
<rect x="444.5" y="395.3" width="1" height="1" fill="rgb(201,201,201)"/>
<rect x="431.2" y="401.5" width="1" height="1" fill="rgb(165,165,165)"/>
<rect x="439.7" y="399.6" width="1" height="1" fill="rgb(175,175,175)"/>
<rect x="433.5" y="387.4" width="1" height="1" fill="rgb(191,191,191)"/>
<rect x="435.2" y="403.8" width="1" height="1" fill="rgb(191,191,191)"/>
<rect x="440.3" y="394.2" width="1" height="1" fill="rgb(173,173,173)"/>
<rect x="440.6" y="400.2" width="1" height="1" fill="rgb(157,157,157)"/>
<rect x="438.1" y="392.1" width="1" height="1" fill="rgb(162,162,162)"/>
<rect x="435.4" y="418.0" width="1" height="1" fill="rgb(176,176,176)"/>
<rect x="436.6" y="413.5" width="1" height="1" fill="rgb(205,205,205)"/>
<rect x="436.5" y="408.5" width="1" height="1" fill="rgb(182,182,182)"/>
<rect x="434.7" y="405.2" width="1" height="1" fill="rgb(164,164,164)"/>
<rect x="431.4" y="394.6" width="1" height="1" fill="rgb(179,179,179)"/>
<rect x="440.7" y="400.7" width="1" height="1" fill="rgb(197,197,197)"/>
<rect x="434.0" y="405.0" width="1" height="1" fill="rgb(193,193,193)"/>
<rect x="435.8" y="391.8" width="1" height="1" fill="rgb(186,186,186)"/>
<rect x="436.7" y="395.4" width="1" height="1" fill="rgb(212,212,212)"/>
<rect x="435.6" y="399.7" width="1" height="1" fill="rgb(166,166,166)"/>
<rect x="440.1" y="412.6" width="1" height="1" fill="rgb(150,150,150)"/>
<rect x="438.7" y="394.9" width="1" height="1" fill="rgb(172,172,172)"/>
<rect x="436.1" y="399.6" width="1" height="1" fill="rgb(154,154,154)"/>
<rect x="435.8" y="407.5" width="1" height="1" fill="rgb(154,154,154)"/>
<rect x="437.2" y="392.0" width="1" height="1" fill="rgb(206,206,206)"/>
<rect x="431.4" y="404.3" width="1" height="1" fill="rgb(183,183,183)"/>
<rect x="437.3" y="403.8" width="1" height="1" fill="rgb(195,195,195)"/>
<rect x="431.1" y="393.1" width="1" height="1" fill="rgb(168,168,168)"/>
<rect x="443.2" y="391.5" width="1" height="1" fill="rgb(173,173,173)"/>
<rect x="436.0" y="391.6" width="1" height="1" fill="rgb(209,209,209)"/>
<rect x="444.5" y="399.1" width="1" height="1" fill="rgb(151,151,151)"/>
<rect x="436.5" y="397.6" width="1" height="1" fill="rgb(163,163,163)"/>
<rect x="435.0" y="406.9" width="1" height="1" fill="rgb(180,180,180)"/>
<rect x="434.4" y="394.0" width="1" height="1" fill="rgb(172,172,172)"/>
<rect x="437.9" y="392.4" width="1" height="1" fill="rgb(208,208,208)"/>
<rect x="437.2" y="399.7" width="1" height="1" fill="rgb(156,156,156)"/>
<rect x="438.0" y="391.2" width="1" height="1" fill="rgb(185,185,185)"/>
<rect x="431.2" y="404.4" width="1" height="1" fill="rgb(158,158,158)"/>
<rect x="435.1" y="394.3" width="1" height="1" fill="rgb(212,212,212)"/>
<rect x="434.2" y="405.4" width="1" height="1" fill="rgb(180,180,180)"/>
<rect x="438.7" y="398.8" width="1" height="1" fill="rgb(190,190,190)"/>
<rect x="438.5" y="387.4" width="1" height="1" fill="rgb(169,169,169)"/>
<rect x="428.0" y="396.1" width="1" height="1" fill="rgb(207,207,207)"/>
<rect x="432.6" y="412.4" width="1" height="1" fill="rgb(207,207,207)"/>
<rect x="439.5" y="410.2" width="1" height="1" fill="rgb(175,175,175)"/>
<rect x="431.3" y="407.5" width="1" height="1" fill="rgb(194,194,194)"/>
<rect x="433.9" y="392.4" width="1" height="1" fill="rgb(156,156,156)"/>
<rect x="438.3" y="404.2" width="1" height="1" fill="rgb(156,156,156)"/>
<rect x="437.7" y="393.3" width="1" height="1" fill="rgb(165,165,165)"/>
<rect x="446.2" y="404.7" width="1" height="1" fill="rgb(166,166,166)"/>
<rect x="439.8" y="387.3" width="1" height="1" fill="rgb(164,164,164)"/>
<rect x="436.5" y="395.2" width="1" height="1" fill="rgb(208,208,208)"/>
<rect x="432.6" y="406.0" width="1" height="1" fill="rgb(187,187,187)"/>
<rect x="439.0" y="403.2" width="1" height="1" fill="rgb(209,209,209)"/>
<rect x="435.8" y="398.6" width="1" height="1" fill="rgb(170,170,170)"/>
<rect x="434.2" y="410.4" width="1" height="1" fill="rgb(199,199,199)"/>
<rect x="432.0" y="396.3" width="1" height="1" fill="rgb(152,152,152)"/>
<rect x="438.6" y="402.6" width="1" height="1" fill="rgb(186,186,186)"/>
<rect x="434.0" y="415.8" width="1" height="1" fill="rgb(188,188,188)"/>
<rect x="432.9" y="397.7" width="1" height="1" fill="rgb(199,199,199)"/>
<rect x="435.1" y="408.3" width="1" height="1" fill="rgb(203,203,203)"/>
<rect x="433.4" y="412.5" width="1" height="1" fill="rgb(164,164,164)"/>
<rect x="435.4" y="394.5" width="1" height="1" fill="rgb(198,198,198)"/>
<rect x="436.0" y="399.8" width="1" height="1" fill="rgb(198,198,198)"/>
<rect x="440.2" y="402.7" width="1" height="1" fill="rgb(175,175,175)"/>
<rect x="439.3" y="391.2" width="1" height="1" fill="rgb(176,176,176)"/>
<rect x="440.8" y="400.8" width="1" height="1" fill="rgb(171,171,171)"/>
<rect x="432.4" y="395.3" width="1" height="1" fill="rgb(200,200,200)"/>
<rect x="436.4" y="388.0" width="1" height="1" fill="rgb(183,183,183)"/>
<rect x="434.7" y="410.4" width="1" height="1" fill="rgb(184,184,184)"/>
<rect x="434.1" y="401.4" width="1" height="1" fill="rgb(155,155,155)"/>
<rect x="433.9" y="409.6" width="1" height="1" fill="rgb(150,150,150)"/>
<rect x="431.1" y="400.8" width="1" height="1" fill="rgb(192,192,192)"/>
<rect x="432.7" y="395.2" width="1" height="1" fill="rgb(150,150,150)"/>
<rect x="432.1" y="396.3" width="1" height="1" fill="rgb(166,166,166)"/>
<rect x="438.4" y="390.0" width="1" height="1" fill="rgb(206,206,206)"/>
<rect x="440.1" y="393.3" width="1" height="1" fill="rgb(195,195,195)"/>
<rect x="436.6" y="395.6" width="1" height="1" fill="rgb(213,213,213)"/>
<rect x="435.3" y="414.1" width="1" height="1" fill="rgb(180,180,180)"/>
<rect x="438.0" y="388.8" width="1" height="1" fill="rgb(205,205,205)"/>
<rect x="436.4" y="386.8" width="1" height="1" fill="rgb(214,214,214)"/>
<rect x="434.2" y="402.9" width="1" height="1" fill="rgb(176,176,176)"/>
<rect x="435.5" y="390.7" width="1" height="1" fill="rgb(196,196,196)"/>
<rect x="433.9" y="406.5" width="1" height="1" fill="rgb(158,158,158)"/>
<rect x="433.9" y="408.9" width="1" height="1" fill="rgb(171,171,171)"/>
<rect x="436.2" y="399.8" width="1" height="1" fill="rgb(195,195,195)"/>
<rect x="432.5" y="405.7" width="1" height="1" fill="rgb(167,167,167)"/>
<rect x="432.9" y="400.7" width="1" height="1" fill="rgb(205,205,205)"/>
<rect x="431.2" y="395.6" width="1" height="1" fill="rgb(175,175,175)"/>
<rect x="436.9" y="412.3" width="1" height="1" fill="rgb(158,158,158)"/>
<rect x="439.2" y="391.1" width="1" height="1" fill="rgb(207,207,207)"/>
<rect x="433.1" y="389.1" width="1" height="1" fill="rgb(161,161,161)"/>
<rect x="437.2" y="394.1" width="1" height="1" fill="rgb(186,186,186)"/>
<rect x="437.5" y="390.1" width="1" height="1" fill="rgb(155,155,155)"/>
<rect x="431.9" y="395.4" width="1" height="1" fill="rgb(177,177,177)"/>
<rect x="438.1" y="393.0" width="1" height="1" fill="rgb(186,186,186)"/>
<rect x="432.3" y="395.8" width="1" height="1" fill="rgb(209,209,209)"/>
<rect x="435.8" y="389.6" width="1" height="1" fill="rgb(184,184,184)"/>
<rect x="437.6" y="409.8" width="1" height="1" fill="rgb(170,170,170)"/>
<rect x="435.8" y="389.9" width="1" height="1" fill="rgb(173,173,173)"/>
<rect x="433.0" y="396.8" width="1" height="1" fill="rgb(162,162,162)"/>
<rect x="442.6" y="395.3" width="1" height="1" fill="rgb(204,204,204)"/>
<rect x="437.9" y="403.8" width="1" height="1" fill="rgb(172,172,172)"/>
<rect x="440.3" y="395.9" width="1" height="1" fill="rgb(211,211,211)"/>
<rect x="436.6" y="408.9" width="1" height="1" fill="rgb(209,209,209)"/>
<rect x="437.8" y="387.3" width="1" height="1" fill="rgb(214,214,214)"/>
<rect x="433.6" y="392.8" width="1" height="1" fill="rgb(208,208,208)"/>
<rect x="429.1" y="391.6" width="1" height="1" fill="rgb(155,155,155)"/>
<rect x="436.6" y="415.0" width="1" height="1" fill="rgb(177,177,177)"/>
<rect x="438.2" y="401.3" width="1" height="1" fill="rgb(202,202,202)"/>
<rect x="435.3" y="389.2" width="1" height="1" fill="rgb(205,205,205)"/>
<rect x="429.2" y="393.7" width="1" height="1" fill="rgb(201,201,201)"/>
<rect x="437.7" y="402.0" width="1" height="1" fill="rgb(174,174,174)"/>
<rect x="437.2" y="414.2" width="1" height="1" fill="rgb(156,156,156)"/>
<rect x="432.2" y="399.5" width="1" height="1" fill="rgb(159,159,159)"/>
<rect x="438.8" y="392.3" width="1" height="1" fill="rgb(186,186,186)"/>
<rect x="440.0" y="394.3" width="1" height="1" fill="rgb(206,206,206)"/>
<rect x="432.9" y="401.4" width="1" height="1" fill="rgb(175,175,175)"/>
<rect x="443.4" y="400.7" width="1" height="1" fill="rgb(209,209,209)"/>
<rect x="436.3" y="397.0" width="1" height="1" fill="rgb(214,214,214)"/>
<rect x="437.6" y="410.5" width="1" height="1" fill="rgb(204,204,204)"/>
<rect x="441.3" y="398.5" width="1" height="1" fill="rgb(164,164,164)"/>
<rect x="431.6" y="402.9" width="1" height="1" fill="rgb(179,179,179)"/>
<rect x="435.6" y="405.8" width="1" height="1" fill="rgb(154,154,154)"/>
<rect x="433.1" y="394.1" width="1" height="1" fill="rgb(161,161,161)"/>
<rect x="427.4" y="404.2" width="1" height="1" fill="rgb(177,177,177)"/>
<rect x="440.6" y="403.4" width="1" height="1" fill="rgb(169,169,169)"/>
<rect x="434.5" y="391.6" width="1" height="1" fill="rgb(163,163,163)"/>
<rect x="439.8" y="401.0" width="1" height="1" fill="rgb(165,165,165)"/>
<rect x="434.5" y="399.2" width="1" height="1" fill="rgb(196,196,196)"/>
<rect x="439.3" y="392.3" width="1" height="1" fill="rgb(177,177,177)"/>
<rect x="433.3" y="392.5" width="1" height="1" fill="rgb(156,156,156)"/>
<rect x="438.1" y="406.4" width="1" height="1" fill="rgb(204,204,204)"/>
<rect x="435.7" y="391.3" width="1" height="1" fill="rgb(154,154,154)"/>
<rect x="437.2" y="393.2" width="1" height="1" fill="rgb(183,183,183)"/>
<rect x="442.5" y="399.1" width="1" height="1" fill="rgb(176,176,176)"/>
<rect x="435.1" y="393.0" width="1" height="1" fill="rgb(209,209,209)"/>
<rect x="434.8" y="395.6" width="1" height="1" fill="rgb(175,175,175)"/>
<rect x="438.6" y="396.6" width="1" height="1" fill="rgb(213,213,213)"/>
<rect x="436.8" y="392.1" width="1" height="1" fill="rgb(161,161,161)"/>
<rect x="436.0" y="410.6" width="1" height="1" fill="rgb(175,175,175)"/>
<rect x="434.6" y="397.0" width="1" height="1" fill="rgb(177,177,177)"/>
<rect x="436.8" y="386.6" width="1" height="1" fill="rgb(186,186,186)"/>
<rect x="432.3" y="405.0" width="1" height="1" fill="rgb(211,211,211)"/>
<rect x="439.6" y="399.9" width="1" height="1" fill="rgb(151,151,151)"/>
<rect x="442.6" y="407.0" width="1" height="1" fill="rgb(201,201,201)"/>
<rect x="433.7" y="394.2" width="1" height="1" fill="rgb(157,157,157)"/>
<rect x="433.6" y="396.0" width="1" height="1" fill="rgb(203,203,203)"/>
<rect x="437.9" y="400.7" width="1" height="1" fill="rgb(167,167,167)"/>
<rect x="430.8" y="408.9" width="1" height="1" fill="rgb(205,205,205)"/>
<rect x="438.5" y="410.9" width="1" height="1" fill="rgb(199,199,199)"/>
<rect x="432.3" y="392.7" width="1" height="1" fill="rgb(187,187,187)"/>
<rect x="433.8" y="398.6" width="1" height="1" fill="rgb(178,178,178)"/>
<rect x="434.8" y="395.0" width="1" height="1" fill="rgb(179,179,179)"/>
<rect x="435.1" y="392.4" width="1" height="1" fill="rgb(200,200,200)"/>
<rect x="437.0" y="412.9" width="1" height="1" fill="rgb(176,176,176)"/>
<rect x="436.0" y="413.2" width="1" height="1" fill="rgb(151,151,151)"/>
<rect x="438.7" y="401.6" width="1" height="1" fill="rgb(164,164,164)"/>
<rect x="433.0" y="405.6" width="1" height="1" fill="rgb(154,154,154)"/>
<rect x="431.5" y="399.8" width="1" height="1" fill="rgb(213,213,213)"/>
<rect x="438.8" y="414.7" width="1" height="1" fill="rgb(188,188,188)"/>
<rect x="436.4" y="393.8" width="1" height="1" fill="rgb(151,151,151)"/>
<rect x="430.3" y="408.3" width="1" height="1" fill="rgb(204,204,204)"/>
<rect x="440.3" y="397.2" width="1" height="1" fill="rgb(162,162,162)"/>
<rect x="431.6" y="411.0" width="1" height="1" fill="rgb(176,176,176)"/>
<rect x="437.8" y="405.7" width="1" height="1" fill="rgb(150,150,150)"/>
<rect x="437.5" y="413.5" width="1" height="1" fill="rgb(150,150,150)"/>
<rect x="445.8" y="394.6" width="1" height="1" fill="rgb(151,151,151)"/>
<rect x="431.2" y="402.4" width="1" height="1" fill="rgb(199,199,199)"/>
<rect x="435.3" y="398.2" width="1" height="1" fill="rgb(177,177,177)"/>
<rect x="437.2" y="397.0" width="1" height="1" fill="rgb(196,196,196)"/>
<rect x="435.1" y="389.5" width="1" height="1" fill="rgb(195,195,195)"/>
<rect x="439.8" y="405.5" width="1" height="1" fill="rgb(191,191,191)"/>
<rect x="437.1" y="399.8" width="1" height="1" fill="rgb(207,207,207)"/>
<rect x="436.1" y="407.4" width="1" height="1" fill="rgb(175,175,175)"/>
<rect x="434.9" y="407.3" width="1" height="1" fill="rgb(187,187,187)"/>
<rect x="436.7" y="407.1" width="1" height="1" fill="rgb(209,209,209)"/>
<rect x="436.3" y="408.6" width="1" height="1" fill="rgb(184,184,184)"/>
<rect x="436.5" y="397.6" width="1" height="1" fill="rgb(150,150,150)"/>
<rect x="437.4" y="387.2" width="1" height="1" fill="rgb(157,157,157)"/>
<rect x="435.8" y="402.7" width="1" height="1" fill="rgb(204,204,204)"/>
<rect x="433.1" y="388.3" width="1" height="1" fill="rgb(175,175,175)"/>
<rect x="440.4" y="394.9" width="1" height="1" fill="rgb(200,200,200)"/>
<rect x="435.1" y="398.2" width="1" height="1" fill="rgb(161,161,161)"/>
<rect x="435.6" y="409.2" width="1" height="1" fill="rgb(157,157,157)"/>
<rect x="438.7" y="391.1" width="1" height="1" fill="rgb(153,153,153)"/>
<rect x="436.4" y="389.9" width="1" height="1" fill="rgb(182,182,182)"/>
<rect x="436.2" y="392.9" width="1" height="1" fill="rgb(189,189,189)"/>
<rect x="438.2" y="403.1" width="1" height="1" fill="rgb(162,162,162)"/>
</g>
<text x="0.80" y="475.40" font-size="19" text-anchor="start" fill="#000" font-weight="bold"  >E</text>
<rect x="108.60" y="463.80" width="7.20" height="6.40" fill="#000" stroke="none" stroke-width="1" />
<rect x="108.90" y="474.40" width="6.80" height="6.00" fill="#fff" stroke="#333" stroke-width="0.9" />
<text x="119.20" y="469.10" font-size="7.0" text-anchor="start" fill="#111" font-weight="normal" stroke="#111" stroke-width="0.28" textLength="27.6" lengthAdjust="spacingAndGlyphs">C57BL/6</text>
<text x="119.20" y="479.60" font-size="7.0" text-anchor="start" fill="#111" font-weight="normal" stroke="#111" stroke-width="0.28" textLength="15.9" lengthAdjust="spacingAndGlyphs">F8KO</text>
<rect x="49.60" y="552.90" width="22.10" height="75.70" fill="#000" stroke="none" stroke-width="1" />
<rect x="72.80" y="538.60" width="22.00" height="90.00" fill="#000" stroke="none" stroke-width="1" />
<rect x="99.30" y="558.70" width="20.90" height="69.50" fill="#fff" stroke="#555" stroke-width="1" />
<rect x="122.60" y="577.20" width="20.90" height="51.00" fill="#fff" stroke="#555" stroke-width="1" />
<line x1="47.90" y1="489.60" x2="47.90" y2="629.10" stroke="#333" stroke-width="1.2" />
<line x1="45.80" y1="489.60" x2="47.90" y2="489.60" stroke="#333" stroke-width="1.1" />
<text x="44.60" y="492.50" font-size="8.9" text-anchor="end" fill="#222" font-weight="normal" stroke="#222" stroke-width="0.28" >60</text>
<line x1="45.80" y1="512.77" x2="47.90" y2="512.77" stroke="#333" stroke-width="1.1" />
<text x="44.60" y="515.67" font-size="8.9" text-anchor="end" fill="#222" font-weight="normal" stroke="#222" stroke-width="0.28" >50</text>
<line x1="45.80" y1="535.94" x2="47.90" y2="535.94" stroke="#333" stroke-width="1.1" />
<text x="44.60" y="538.84" font-size="8.9" text-anchor="end" fill="#222" font-weight="normal" stroke="#222" stroke-width="0.28" >40</text>
<line x1="45.80" y1="559.11" x2="47.90" y2="559.11" stroke="#333" stroke-width="1.1" />
<text x="44.60" y="562.01" font-size="8.9" text-anchor="end" fill="#222" font-weight="normal" stroke="#222" stroke-width="0.28" >30</text>
<line x1="45.80" y1="582.28" x2="47.90" y2="582.28" stroke="#333" stroke-width="1.1" />
<text x="44.60" y="585.18" font-size="8.9" text-anchor="end" fill="#222" font-weight="normal" stroke="#222" stroke-width="0.28" >20</text>
<line x1="45.80" y1="605.45" x2="47.90" y2="605.45" stroke="#333" stroke-width="1.1" />
<text x="44.60" y="608.35" font-size="8.9" text-anchor="end" fill="#222" font-weight="normal" stroke="#222" stroke-width="0.28" >10</text>
<line x1="45.80" y1="628.62" x2="47.90" y2="628.62" stroke="#333" stroke-width="1.1" />
<text x="44.60" y="631.52" font-size="8.9" text-anchor="end" fill="#222" font-weight="normal" stroke="#222" stroke-width="0.28" >0</text>
<line x1="60.80" y1="532.50" x2="60.80" y2="553.00" stroke="#777" stroke-width="1" />
<line x1="57.80" y1="532.50" x2="63.80" y2="532.50" stroke="#777" stroke-width="1" />
<line x1="84.00" y1="515.30" x2="84.00" y2="538.70" stroke="#777" stroke-width="1" />
<line x1="81.00" y1="515.30" x2="87.00" y2="515.30" stroke="#777" stroke-width="1" />
<line x1="110.10" y1="548.60" x2="110.10" y2="569.10" stroke="#555" stroke-width="1" />
<line x1="107.10" y1="548.60" x2="113.10" y2="548.60" stroke="#555" stroke-width="1" />
<line x1="107.10" y1="569.10" x2="113.10" y2="569.10" stroke="#555" stroke-width="1" />
<line x1="132.50" y1="566.90" x2="132.50" y2="587.10" stroke="#555" stroke-width="1" />
<line x1="129.50" y1="566.90" x2="135.50" y2="566.90" stroke="#555" stroke-width="1" />
<line x1="129.50" y1="587.10" x2="135.50" y2="587.10" stroke="#555" stroke-width="1" />
<polyline points="55.20,501.50 55.20,499.50 107.10,499.50 107.10,501.50" fill="none" stroke="#777" stroke-width="1.1"/>
<polyline points="55.20,511.60 55.20,509.60 92.50,509.60 92.50,511.60" fill="none" stroke="#777" stroke-width="1.1"/>
<polyline points="88.20,528.40 88.20,526.40 140.40,526.40 140.40,528.40" fill="none" stroke="#777" stroke-width="1.1"/>
<polyline points="103.20,545.50 103.20,543.50 140.40,543.50 140.40,545.50" fill="none" stroke="#777" stroke-width="1.1"/>
<text x="83.40" y="496.80" font-size="7.1" text-anchor="middle" fill="#222" font-weight="normal" stroke="#222" stroke-width="0.28" textLength="11.5" lengthAdjust="spacingAndGlyphs">N/S</text>
<text x="73.90" y="509.00" font-size="7.1" text-anchor="middle" fill="#222" font-weight="normal" stroke="#222" stroke-width="0.28" textLength="11.9" lengthAdjust="spacingAndGlyphs">N/S</text>
<text x="113.60" y="523.00" font-size="6.8" text-anchor="middle" fill="#222" font-weight="normal" stroke="#222" stroke-width="0.28" textLength="27.1" lengthAdjust="spacingAndGlyphs">p=0.008</text>
<text x="121.70" y="540.60" font-size="6.8" text-anchor="middle" fill="#222" font-weight="normal" stroke="#222" stroke-width="0.28" textLength="27.1" lengthAdjust="spacingAndGlyphs">p=0.015</text>
<text x="60.20" y="637.00" font-size="9.8" text-anchor="middle" fill="#111" font-weight="normal" stroke="#111" stroke-width="0.28" >6w</text>
<text x="83.80" y="637.00" font-size="9.8" text-anchor="middle" fill="#111" font-weight="normal" stroke="#111" stroke-width="0.28" >22w</text>
<text x="109.50" y="637.00" font-size="9.8" text-anchor="middle" fill="#111" font-weight="normal" stroke="#111" stroke-width="0.28" >6w</text>
<text x="132.60" y="637.00" font-size="9.8" text-anchor="middle" fill="#111" font-weight="normal" stroke="#111" stroke-width="0.28" >22w</text>
<text transform="translate(28.70,561.80) rotate(-90)" font-size="11.0" text-anchor="middle" fill="#111" stroke="#111" stroke-width="0.28" >Percent of CD45.2 cells</text>
<text x="179.30" y="475.20" font-size="19" text-anchor="start" fill="#000" font-weight="bold"  >F</text>
<line x1="218.00" y1="474.20" x2="218.00" y2="627.20" stroke="#666" stroke-width="1.2" />
<line x1="215.60" y1="474.20" x2="218.00" y2="474.20" stroke="#666" stroke-width="1.1" />
<text x="212.20" y="476.70" font-size="9.3" text-anchor="end" fill="#222" font-weight="normal" stroke="#222" stroke-width="0.28" >60</text>
<line x1="215.60" y1="491.13" x2="218.00" y2="491.13" stroke="#666" stroke-width="1.1" />
<text x="212.20" y="493.63" font-size="9.3" text-anchor="end" fill="#222" font-weight="normal" stroke="#222" stroke-width="0.28" >50</text>
<line x1="215.60" y1="508.06" x2="218.00" y2="508.06" stroke="#666" stroke-width="1.1" />
<text x="212.20" y="510.56" font-size="9.3" text-anchor="end" fill="#222" font-weight="normal" stroke="#222" stroke-width="0.28" >45</text>
<line x1="215.60" y1="524.99" x2="218.00" y2="524.99" stroke="#666" stroke-width="1.1" />
<text x="212.20" y="527.49" font-size="9.3" text-anchor="end" fill="#222" font-weight="normal" stroke="#222" stroke-width="0.28" >40</text>
<line x1="215.60" y1="541.92" x2="218.00" y2="541.92" stroke="#666" stroke-width="1.1" />
<text x="212.20" y="544.42" font-size="9.3" text-anchor="end" fill="#222" font-weight="normal" stroke="#222" stroke-width="0.28" >35</text>
<line x1="215.60" y1="558.85" x2="218.00" y2="558.85" stroke="#666" stroke-width="1.1" />
<text x="212.20" y="561.35" font-size="9.3" text-anchor="end" fill="#222" font-weight="normal" stroke="#222" stroke-width="0.28" >30</text>
<line x1="215.60" y1="575.78" x2="218.00" y2="575.78" stroke="#666" stroke-width="1.1" />
<text x="212.20" y="578.28" font-size="9.3" text-anchor="end" fill="#222" font-weight="normal" stroke="#222" stroke-width="0.28" >25</text>
<line x1="215.60" y1="592.71" x2="218.00" y2="592.71" stroke="#666" stroke-width="1.1" />
<text x="212.20" y="595.21" font-size="9.3" text-anchor="end" fill="#222" font-weight="normal" stroke="#222" stroke-width="0.28" >20</text>
<line x1="215.60" y1="609.64" x2="218.00" y2="609.64" stroke="#666" stroke-width="1.1" />
<text x="212.20" y="612.14" font-size="9.3" text-anchor="end" fill="#222" font-weight="normal" stroke="#222" stroke-width="0.28" >15</text>
<line x1="215.60" y1="626.57" x2="218.00" y2="626.57" stroke="#666" stroke-width="1.1" />
<text x="212.20" y="629.07" font-size="9.3" text-anchor="end" fill="#222" font-weight="normal" stroke="#222" stroke-width="0.28" >10</text>
<line x1="218.00" y1="626.60" x2="395.60" y2="626.60" stroke="#666" stroke-width="1.2" />
<line x1="253.60" y1="626.60" x2="253.60" y2="629.60" stroke="#666" stroke-width="1.1" />
<line x1="289.10" y1="626.60" x2="289.10" y2="629.60" stroke="#666" stroke-width="1.1" />
<line x1="324.60" y1="626.60" x2="324.60" y2="629.60" stroke="#666" stroke-width="1.1" />
<line x1="360.10" y1="626.60" x2="360.10" y2="629.60" stroke="#666" stroke-width="1.1" />
<line x1="395.60" y1="626.60" x2="395.60" y2="629.60" stroke="#666" stroke-width="1.1" />
<text x="236.20" y="637.80" font-size="9.3" text-anchor="middle" fill="#111" font-weight="normal" stroke="#111" stroke-width="0.28" >6</text>
<text x="271.70" y="637.80" font-size="9.3" text-anchor="middle" fill="#111" font-weight="normal" stroke="#111" stroke-width="0.28" >10</text>
<text x="307.00" y="637.80" font-size="9.3" text-anchor="middle" fill="#111" font-weight="normal" stroke="#111" stroke-width="0.28" >14</text>
<text x="342.50" y="637.80" font-size="9.3" text-anchor="middle" fill="#111" font-weight="normal" stroke="#111" stroke-width="0.28" >17</text>
<text x="378.00" y="637.80" font-size="9.3" text-anchor="middle" fill="#111" font-weight="normal" stroke="#111" stroke-width="0.28" >22</text>
<text x="365.80" y="624.30" font-size="8.6" text-anchor="start" fill="#111" font-weight="normal" stroke="#111" stroke-width="0.28" >Weeks</text>
<text transform="translate(194.20,552.90) rotate(-90)" font-size="11.7" text-anchor="middle" fill="#111" stroke="#111" stroke-width="0.28" >Percent of CD45.2 cells</text>
<polyline points="236.2,516.2 271.7,495.3 307.0,494.2 342.5,484.5 377.8,483.5" fill="none" stroke="#222" stroke-width="1.2"/>
<polyline points="236.2,518.8 271.7,495.3 307.0,508.0 342.5,496.0 377.8,503.2" fill="none" stroke="#222" stroke-width="1.2"/>
<polyline points="236.2,565.6 271.7,547.6 307.0,547.0 342.5,536.1 377.8,536.1" fill="none" stroke="#222" stroke-width="1.2"/>
<polyline points="236.2,568.0 271.7,558.5 307.0,557.8 342.5,549.2 377.8,554.4" fill="none" stroke="#222" stroke-width="1.2"/>
<polyline points="236.2,575.4 271.7,560.6 307.0,557.5 342.5,560.6 377.8,563.9" fill="none" stroke="#222" stroke-width="1.2"/>
<polyline points="236.2,534.4 271.7,557.5 307.0,572.0 342.5,577.5 377.8,602.3" fill="none" stroke="#3a3a3a" stroke-width="1.25" stroke-dasharray="4.6,2.2"/>
<polyline points="236.2,559.8 271.7,553.0 307.0,556.0 342.5,546.2 377.8,562.5" fill="none" stroke="#3a3a3a" stroke-width="1.25" stroke-dasharray="4.6,2.2"/>
<polyline points="236.2,566.6 271.7,557.0 307.0,570.5 342.5,562.5 377.8,582.0" fill="none" stroke="#3a3a3a" stroke-width="1.25" stroke-dasharray="4.6,2.2"/>
<polyline points="236.2,567.2 271.7,559.6 307.0,572.5 342.5,575.5 377.8,589.6" fill="none" stroke="#3a3a3a" stroke-width="1.25" stroke-dasharray="4.6,2.2"/>
<polyline points="236.2,562.5 271.7,561.0 307.0,574.5 342.5,579.0 377.8,584.0" fill="none" stroke="#3a3a3a" stroke-width="1.25" stroke-dasharray="4.6,2.2"/>
<rect x="223.60" y="587.50" width="67.00" height="32.70" fill="#fff" stroke="#444" stroke-width="1" />
<line x1="230.50" y1="595.40" x2="254.60" y2="595.40" stroke="#222" stroke-width="1.3" />
<line x1="230.50" y1="611.00" x2="254.60" y2="611.00" stroke="#3a3a3a" stroke-width="1.3" stroke-dasharray="4.6,2.2"/>
<text x="260.00" y="598.20" font-size="8.6" text-anchor="start" fill="#111" font-weight="normal" stroke="#111" stroke-width="0.28" >C57BL</text>
<text x="260.00" y="614.20" font-size="8.6" text-anchor="start" fill="#111" font-weight="normal" stroke="#111" stroke-width="0.28" >F8KO</text>
<text x="395.00" y="475.40" font-size="19" text-anchor="start" fill="#000" font-weight="bold"  >G</text>
<line x1="440.40" y1="486.90" x2="440.40" y2="637.00" stroke="#555" stroke-width="1.2" />
<line x1="438.20" y1="486.90" x2="440.40" y2="486.90" stroke="#555" stroke-width="1.1" />
<text x="437.00" y="489.90" font-size="8.5" text-anchor="end" fill="#222" font-weight="normal" stroke="#222" stroke-width="0.28" >0.8</text>
<line x1="438.20" y1="503.52" x2="440.40" y2="503.52" stroke="#555" stroke-width="1.1" />
<text x="437.00" y="506.52" font-size="8.5" text-anchor="end" fill="#222" font-weight="normal" stroke="#222" stroke-width="0.28" >0.6</text>
<line x1="438.20" y1="520.14" x2="440.40" y2="520.14" stroke="#555" stroke-width="1.1" />
<text x="437.00" y="523.14" font-size="8.5" text-anchor="end" fill="#222" font-weight="normal" stroke="#222" stroke-width="0.28" >0.4</text>
<line x1="438.20" y1="536.76" x2="440.40" y2="536.76" stroke="#555" stroke-width="1.1" />
<text x="437.00" y="539.76" font-size="8.5" text-anchor="end" fill="#222" font-weight="normal" stroke="#222" stroke-width="0.28" >0.2</text>
<line x1="438.20" y1="553.38" x2="440.40" y2="553.38" stroke="#555" stroke-width="1.1" />
<text x="437.00" y="556.38" font-size="8.5" text-anchor="end" fill="#222" font-weight="normal" stroke="#222" stroke-width="0.28" >0</text>
<line x1="438.20" y1="570.00" x2="440.40" y2="570.00" stroke="#555" stroke-width="1.1" />
<text x="437.00" y="573.00" font-size="8.5" text-anchor="end" fill="#222" font-weight="normal" stroke="#222" stroke-width="0.28" >-0.2</text>
<line x1="438.20" y1="586.62" x2="440.40" y2="586.62" stroke="#555" stroke-width="1.1" />
<text x="437.00" y="589.62" font-size="8.5" text-anchor="end" fill="#222" font-weight="normal" stroke="#222" stroke-width="0.28" >-0.4</text>
<line x1="438.20" y1="603.24" x2="440.40" y2="603.24" stroke="#555" stroke-width="1.1" />
<text x="437.00" y="606.24" font-size="8.5" text-anchor="end" fill="#222" font-weight="normal" stroke="#222" stroke-width="0.28" >-0.6</text>
<line x1="438.20" y1="619.86" x2="440.40" y2="619.86" stroke="#555" stroke-width="1.1" />
<text x="437.00" y="622.86" font-size="8.5" text-anchor="end" fill="#222" font-weight="normal" stroke="#222" stroke-width="0.28" >-0.8</text>
<line x1="438.20" y1="636.48" x2="440.40" y2="636.48" stroke="#555" stroke-width="1.1" />
<text x="437.00" y="639.48" font-size="8.5" text-anchor="end" fill="#222" font-weight="normal" stroke="#222" stroke-width="0.28" >-1</text>
<line x1="451.20" y1="506.40" x2="451.20" y2="539.30" stroke="#888" stroke-width="1" />
<line x1="449.20" y1="506.40" x2="453.20" y2="506.40" stroke="#888" stroke-width="1" />
<line x1="449.20" y1="539.30" x2="453.20" y2="539.30" stroke="#888" stroke-width="1" />
<line x1="451.20" y1="563.80" x2="451.20" y2="621.90" stroke="#888" stroke-width="1" />
<line x1="449.20" y1="563.80" x2="453.20" y2="563.80" stroke="#888" stroke-width="1" />
<line x1="449.20" y1="621.90" x2="453.20" y2="621.90" stroke="#888" stroke-width="1" />
<polygon points="451.1,519.1 455.2,523.2 451.1,527.3 447.0,523.2" fill="#000"/>
<rect x="447.40" y="589.20" width="7.40" height="7.40" fill="#444" stroke="none" stroke-width="1" />
<text x="457.20" y="525.30" font-size="7.6" text-anchor="start" fill="#111" font-weight="normal" stroke="#111" stroke-width="0.28" textLength="21.9" lengthAdjust="spacingAndGlyphs">C57BL</text>
<text x="456.60" y="595.00" font-size="7.6" text-anchor="start" fill="#111" font-weight="normal" stroke="#111" stroke-width="0.28" textLength="19.6" lengthAdjust="spacingAndGlyphs">F8KO</text>
<polyline points="484.2,522.3 487.2,522.3 487.2,592.6 484.2,592.6" fill="none" stroke="#888" stroke-width="1"/>
<text x="489.00" y="556.60" font-size="7.8" text-anchor="start" fill="#111" font-weight="normal" stroke="#111" stroke-width="0.28" textLength="30.6" lengthAdjust="spacingAndGlyphs">p=0.0015</text>
<text transform="translate(411.50,565.80) rotate(-90)" font-size="9.5" text-anchor="middle" fill="#111" stroke="#111" stroke-width="0.28" >Relative change in chimerism</text>
<text transform="translate(421.00,574.20) rotate(-90)" font-size="9.5" text-anchor="middle" fill="#111" stroke="#111" stroke-width="0.28" textLength="112.5" lengthAdjust="spacingAndGlyphs">(&#916;chimerism/&#916;weeks)</text>
</svg>
</body></html>
